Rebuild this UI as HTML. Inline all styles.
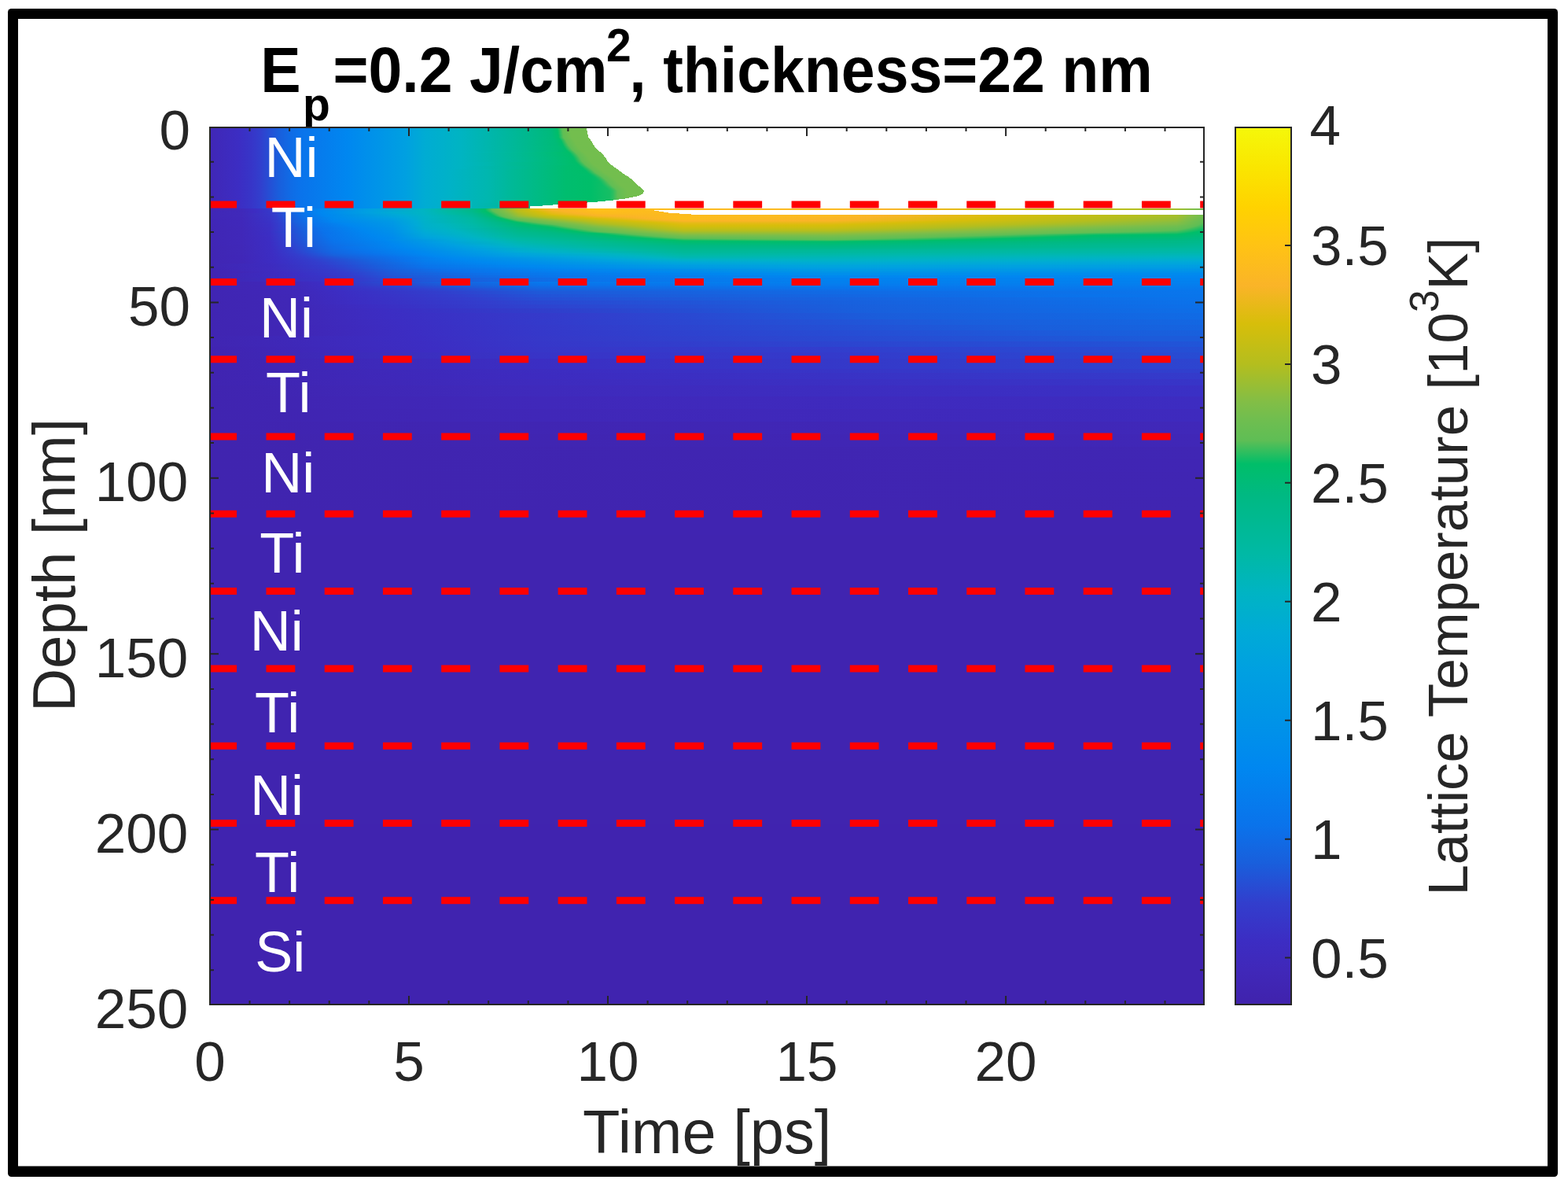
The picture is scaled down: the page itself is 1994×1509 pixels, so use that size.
<!DOCTYPE html><html><head><meta charset="utf-8"><title>Lattice Temperature</title><style>html,body{margin:0;padding:0;background:#fff;}body{width:1994px;height:1509px;overflow:hidden;position:relative;}svg{position:absolute;left:0;top:0;display:block;}text{font-family:'Liberation Sans', Arial, Helvetica, sans-serif;}</style></head><body>
<svg width="1994" height="1509" viewBox="0 0 1994 1509">
<defs><linearGradient id="g0" gradientUnits="userSpaceOnUse" x1="266" x2="1532" y1="0" y2="0"><stop offset="0.0004" stop-color="#4027b6"/><stop offset="0.0296" stop-color="#3c2dc3"/><stop offset="0.0423" stop-color="#3735c8"/><stop offset="0.0509" stop-color="#323ecd"/><stop offset="0.0699" stop-color="#195edc"/><stop offset="0.0825" stop-color="#0f6ce6"/><stop offset="0.0920" stop-color="#0a73eb"/><stop offset="0.1386" stop-color="#0087f0"/><stop offset="0.1971" stop-color="#00a0e1"/><stop offset="0.2168" stop-color="#00acd3"/><stop offset="0.2516" stop-color="#00b4c3"/><stop offset="0.3424" stop-color="#00ba7c"/><stop offset="0.3487" stop-color="#00be6b"/><stop offset="0.3495" stop-color="#04be68"/><stop offset="0.3543" stop-color="#5fbe55"/><stop offset="0.3622" stop-color="#73be4e"/><stop offset="0.3788" stop-color="#73be4e"/><stop offset="0.3795" stop-color="#ffffff"/><stop offset="0.9996" stop-color="#ffffff"/></linearGradient>
<linearGradient id="g1" gradientUnits="userSpaceOnUse" x1="266" x2="1532" y1="0" y2="0"><stop offset="0.0004" stop-color="#4027b6"/><stop offset="0.0296" stop-color="#3c2dc3"/><stop offset="0.0423" stop-color="#3735c8"/><stop offset="0.0509" stop-color="#323ecd"/><stop offset="0.0699" stop-color="#195edc"/><stop offset="0.0825" stop-color="#0f6ce6"/><stop offset="0.0920" stop-color="#0a73eb"/><stop offset="0.1386" stop-color="#0087f0"/><stop offset="0.1971" stop-color="#00a0e1"/><stop offset="0.2168" stop-color="#00acd3"/><stop offset="0.2516" stop-color="#00b4c3"/><stop offset="0.3432" stop-color="#00ba7b"/><stop offset="0.3495" stop-color="#00be69"/><stop offset="0.3543" stop-color="#5bbe56"/><stop offset="0.3551" stop-color="#61be54"/><stop offset="0.3622" stop-color="#72be4e"/><stop offset="0.3788" stop-color="#73be4e"/><stop offset="0.3795" stop-color="#ffffff"/><stop offset="0.9996" stop-color="#ffffff"/></linearGradient>
<linearGradient id="g2" gradientUnits="userSpaceOnUse" x1="266" x2="1532" y1="0" y2="0"><stop offset="0.0004" stop-color="#4027b6"/><stop offset="0.0296" stop-color="#3c2dc3"/><stop offset="0.0423" stop-color="#3735c8"/><stop offset="0.0509" stop-color="#323ecd"/><stop offset="0.0699" stop-color="#195edc"/><stop offset="0.0825" stop-color="#0f6ce6"/><stop offset="0.0920" stop-color="#0a73eb"/><stop offset="0.1386" stop-color="#0087f0"/><stop offset="0.1971" stop-color="#00a0e1"/><stop offset="0.2168" stop-color="#00acd3"/><stop offset="0.2516" stop-color="#00b4c3"/><stop offset="0.3432" stop-color="#00ba7b"/><stop offset="0.3495" stop-color="#00be6a"/><stop offset="0.3503" stop-color="#08be67"/><stop offset="0.3543" stop-color="#56be57"/><stop offset="0.3551" stop-color="#60be55"/><stop offset="0.3630" stop-color="#73be4e"/><stop offset="0.3788" stop-color="#73be4e"/><stop offset="0.3795" stop-color="#ffffff"/><stop offset="0.9996" stop-color="#ffffff"/></linearGradient>
<linearGradient id="g3" gradientUnits="userSpaceOnUse" x1="266" x2="1532" y1="0" y2="0"><stop offset="0.0004" stop-color="#4027b6"/><stop offset="0.0296" stop-color="#3c2dc3"/><stop offset="0.0423" stop-color="#3735c8"/><stop offset="0.0509" stop-color="#323ecd"/><stop offset="0.0699" stop-color="#195edc"/><stop offset="0.0825" stop-color="#0f6ce6"/><stop offset="0.0920" stop-color="#0a73eb"/><stop offset="0.1386" stop-color="#0087f0"/><stop offset="0.1971" stop-color="#00a0e1"/><stop offset="0.2168" stop-color="#00acd3"/><stop offset="0.2516" stop-color="#00b4c3"/><stop offset="0.3432" stop-color="#00ba7b"/><stop offset="0.3495" stop-color="#00be6b"/><stop offset="0.3503" stop-color="#04be68"/><stop offset="0.3551" stop-color="#5fbe55"/><stop offset="0.3558" stop-color="#62be54"/><stop offset="0.3630" stop-color="#73be4e"/><stop offset="0.3795" stop-color="#73be4e"/><stop offset="0.3803" stop-color="#ffffff"/><stop offset="0.9996" stop-color="#ffffff"/></linearGradient>
<linearGradient id="g4" gradientUnits="userSpaceOnUse" x1="266" x2="1532" y1="0" y2="0"><stop offset="0.0004" stop-color="#4027b6"/><stop offset="0.0296" stop-color="#3c2dc3"/><stop offset="0.0423" stop-color="#3735c8"/><stop offset="0.0509" stop-color="#323ecd"/><stop offset="0.0699" stop-color="#195edc"/><stop offset="0.0825" stop-color="#0f6ce6"/><stop offset="0.0920" stop-color="#0a73eb"/><stop offset="0.1386" stop-color="#0087f0"/><stop offset="0.1971" stop-color="#00a0e1"/><stop offset="0.2168" stop-color="#00acd3"/><stop offset="0.2516" stop-color="#00b4c3"/><stop offset="0.3440" stop-color="#00ba7b"/><stop offset="0.3503" stop-color="#00be69"/><stop offset="0.3551" stop-color="#5abe56"/><stop offset="0.3558" stop-color="#61be54"/><stop offset="0.3637" stop-color="#73be4e"/><stop offset="0.3795" stop-color="#73be4e"/><stop offset="0.3803" stop-color="#ffffff"/><stop offset="0.9996" stop-color="#ffffff"/></linearGradient>
<linearGradient id="g5" gradientUnits="userSpaceOnUse" x1="266" x2="1532" y1="0" y2="0"><stop offset="0.0004" stop-color="#4027b6"/><stop offset="0.0296" stop-color="#3c2dc3"/><stop offset="0.0423" stop-color="#3735c8"/><stop offset="0.0509" stop-color="#323ecd"/><stop offset="0.0699" stop-color="#195edc"/><stop offset="0.0825" stop-color="#0f6ce6"/><stop offset="0.0920" stop-color="#0a73eb"/><stop offset="0.1386" stop-color="#0087f0"/><stop offset="0.1971" stop-color="#00a0e1"/><stop offset="0.2168" stop-color="#00acd3"/><stop offset="0.2516" stop-color="#00b4c3"/><stop offset="0.3440" stop-color="#00ba7b"/><stop offset="0.3503" stop-color="#00be6b"/><stop offset="0.3511" stop-color="#07be67"/><stop offset="0.3551" stop-color="#54be57"/><stop offset="0.3558" stop-color="#60be55"/><stop offset="0.3637" stop-color="#73be4e"/><stop offset="0.3803" stop-color="#73be4e"/><stop offset="0.3811" stop-color="#ffffff"/><stop offset="0.9996" stop-color="#ffffff"/></linearGradient>
<linearGradient id="g6" gradientUnits="userSpaceOnUse" x1="266" x2="1532" y1="0" y2="0"><stop offset="0.0004" stop-color="#4027b6"/><stop offset="0.0296" stop-color="#3c2dc3"/><stop offset="0.0423" stop-color="#3735c8"/><stop offset="0.0509" stop-color="#323ecd"/><stop offset="0.0699" stop-color="#195edc"/><stop offset="0.0825" stop-color="#0f6ce6"/><stop offset="0.0920" stop-color="#0a73eb"/><stop offset="0.1386" stop-color="#0087f0"/><stop offset="0.1971" stop-color="#00a0e1"/><stop offset="0.2168" stop-color="#00acd3"/><stop offset="0.2516" stop-color="#00b4c3"/><stop offset="0.3448" stop-color="#00bb7a"/><stop offset="0.3503" stop-color="#00be6b"/><stop offset="0.3511" stop-color="#04be68"/><stop offset="0.3558" stop-color="#5fbe55"/><stop offset="0.3637" stop-color="#72be4e"/><stop offset="0.3803" stop-color="#73be4e"/><stop offset="0.3811" stop-color="#ffffff"/><stop offset="0.9996" stop-color="#ffffff"/></linearGradient>
<linearGradient id="g7" gradientUnits="userSpaceOnUse" x1="266" x2="1532" y1="0" y2="0"><stop offset="0.0004" stop-color="#4027b6"/><stop offset="0.0296" stop-color="#3c2dc3"/><stop offset="0.0423" stop-color="#3735c8"/><stop offset="0.0509" stop-color="#323ecd"/><stop offset="0.0699" stop-color="#195edc"/><stop offset="0.0825" stop-color="#0f6ce6"/><stop offset="0.0920" stop-color="#0a73eb"/><stop offset="0.1386" stop-color="#0087f0"/><stop offset="0.1971" stop-color="#00a0e1"/><stop offset="0.2168" stop-color="#00acd3"/><stop offset="0.2516" stop-color="#00b4c3"/><stop offset="0.3448" stop-color="#00bb7a"/><stop offset="0.3511" stop-color="#00be6a"/><stop offset="0.3519" stop-color="#0bbe67"/><stop offset="0.3558" stop-color="#57be57"/><stop offset="0.3566" stop-color="#60be55"/><stop offset="0.3645" stop-color="#73be4e"/><stop offset="0.3811" stop-color="#73be4e"/><stop offset="0.3819" stop-color="#ffffff"/><stop offset="0.9996" stop-color="#ffffff"/></linearGradient>
<linearGradient id="g8" gradientUnits="userSpaceOnUse" x1="266" x2="1532" y1="0" y2="0"><stop offset="0.0004" stop-color="#4027b6"/><stop offset="0.0296" stop-color="#3c2dc3"/><stop offset="0.0423" stop-color="#3735c8"/><stop offset="0.0509" stop-color="#323ecd"/><stop offset="0.0699" stop-color="#195edc"/><stop offset="0.0825" stop-color="#0f6ce6"/><stop offset="0.0920" stop-color="#0a73eb"/><stop offset="0.1386" stop-color="#0087f0"/><stop offset="0.1971" stop-color="#00a0e1"/><stop offset="0.2168" stop-color="#00acd3"/><stop offset="0.2516" stop-color="#00b4c3"/><stop offset="0.3456" stop-color="#00bb79"/><stop offset="0.3519" stop-color="#00be69"/><stop offset="0.3566" stop-color="#59be56"/><stop offset="0.3574" stop-color="#61be54"/><stop offset="0.3653" stop-color="#73be4e"/><stop offset="0.3819" stop-color="#73be4e"/><stop offset="0.3827" stop-color="#ffffff"/><stop offset="0.9996" stop-color="#ffffff"/></linearGradient>
<linearGradient id="g9" gradientUnits="userSpaceOnUse" x1="266" x2="1532" y1="0" y2="0"><stop offset="0.0004" stop-color="#4027b6"/><stop offset="0.0296" stop-color="#3c2dc3"/><stop offset="0.0423" stop-color="#3735c8"/><stop offset="0.0509" stop-color="#323ecd"/><stop offset="0.0699" stop-color="#195edc"/><stop offset="0.0825" stop-color="#0f6ce6"/><stop offset="0.0920" stop-color="#0a73eb"/><stop offset="0.1386" stop-color="#0087f0"/><stop offset="0.1971" stop-color="#00a0e1"/><stop offset="0.2168" stop-color="#00acd3"/><stop offset="0.2516" stop-color="#00b4c3"/><stop offset="0.3464" stop-color="#00bb79"/><stop offset="0.3519" stop-color="#00bd6c"/><stop offset="0.3527" stop-color="#02be69"/><stop offset="0.3574" stop-color="#5abe56"/><stop offset="0.3582" stop-color="#61be54"/><stop offset="0.3661" stop-color="#73be4e"/><stop offset="0.3827" stop-color="#73be4e"/><stop offset="0.3835" stop-color="#ffffff"/><stop offset="0.9996" stop-color="#ffffff"/></linearGradient>
<linearGradient id="g10" gradientUnits="userSpaceOnUse" x1="266" x2="1532" y1="0" y2="0"><stop offset="0.0004" stop-color="#4027b6"/><stop offset="0.0296" stop-color="#3c2dc3"/><stop offset="0.0423" stop-color="#3735c8"/><stop offset="0.0509" stop-color="#323ecd"/><stop offset="0.0699" stop-color="#195edc"/><stop offset="0.0825" stop-color="#0f6ce6"/><stop offset="0.0920" stop-color="#0a73eb"/><stop offset="0.1386" stop-color="#0087f0"/><stop offset="0.1971" stop-color="#00a0e1"/><stop offset="0.2168" stop-color="#00acd3"/><stop offset="0.2516" stop-color="#00b4c3"/><stop offset="0.3472" stop-color="#00bb78"/><stop offset="0.3527" stop-color="#00be6b"/><stop offset="0.3535" stop-color="#07be68"/><stop offset="0.3582" stop-color="#5ebe55"/><stop offset="0.3590" stop-color="#61be54"/><stop offset="0.3669" stop-color="#73be4e"/><stop offset="0.3827" stop-color="#73be4e"/><stop offset="0.3835" stop-color="#ffffff"/><stop offset="0.9996" stop-color="#ffffff"/></linearGradient>
<linearGradient id="g11" gradientUnits="userSpaceOnUse" x1="266" x2="1532" y1="0" y2="0"><stop offset="0.0004" stop-color="#4027b6"/><stop offset="0.0296" stop-color="#3c2dc3"/><stop offset="0.0423" stop-color="#3735c8"/><stop offset="0.0509" stop-color="#323ecd"/><stop offset="0.0699" stop-color="#195edc"/><stop offset="0.0825" stop-color="#0f6ce6"/><stop offset="0.0920" stop-color="#0a73eb"/><stop offset="0.1386" stop-color="#0087f0"/><stop offset="0.1971" stop-color="#00a0e1"/><stop offset="0.2168" stop-color="#00acd3"/><stop offset="0.2516" stop-color="#00b4c3"/><stop offset="0.3472" stop-color="#00bb78"/><stop offset="0.3535" stop-color="#00be69"/><stop offset="0.3582" stop-color="#57be57"/><stop offset="0.3590" stop-color="#60be55"/><stop offset="0.3669" stop-color="#73be4e"/><stop offset="0.3835" stop-color="#73be4e"/><stop offset="0.3843" stop-color="#ffffff"/><stop offset="0.9996" stop-color="#ffffff"/></linearGradient>
<linearGradient id="g12" gradientUnits="userSpaceOnUse" x1="266" x2="1532" y1="0" y2="0"><stop offset="0.0004" stop-color="#4027b6"/><stop offset="0.0296" stop-color="#3c2dc3"/><stop offset="0.0423" stop-color="#3735c8"/><stop offset="0.0509" stop-color="#323ecd"/><stop offset="0.0699" stop-color="#195edc"/><stop offset="0.0825" stop-color="#0f6ce6"/><stop offset="0.0920" stop-color="#0a73eb"/><stop offset="0.1386" stop-color="#0087f0"/><stop offset="0.1971" stop-color="#00a0e1"/><stop offset="0.2168" stop-color="#00acd3"/><stop offset="0.2516" stop-color="#00b4c3"/><stop offset="0.3479" stop-color="#00bb77"/><stop offset="0.3535" stop-color="#00be6a"/><stop offset="0.3543" stop-color="#07be67"/><stop offset="0.3590" stop-color="#5dbe55"/><stop offset="0.3598" stop-color="#61be54"/><stop offset="0.3677" stop-color="#73be4e"/><stop offset="0.3843" stop-color="#73be4e"/><stop offset="0.3851" stop-color="#ffffff"/><stop offset="0.9996" stop-color="#ffffff"/></linearGradient>
<linearGradient id="g13" gradientUnits="userSpaceOnUse" x1="266" x2="1532" y1="0" y2="0"><stop offset="0.0004" stop-color="#4027b6"/><stop offset="0.0296" stop-color="#3c2dc3"/><stop offset="0.0423" stop-color="#3735c8"/><stop offset="0.0509" stop-color="#323ecd"/><stop offset="0.0699" stop-color="#195edc"/><stop offset="0.0825" stop-color="#0f6ce6"/><stop offset="0.0920" stop-color="#0a73eb"/><stop offset="0.1386" stop-color="#0087f0"/><stop offset="0.1971" stop-color="#00a0e1"/><stop offset="0.2168" stop-color="#00acd3"/><stop offset="0.2516" stop-color="#00b4c3"/><stop offset="0.3479" stop-color="#00bb77"/><stop offset="0.3535" stop-color="#00bd6c"/><stop offset="0.3543" stop-color="#01be69"/><stop offset="0.3582" stop-color="#49be5a"/><stop offset="0.3598" stop-color="#60be55"/><stop offset="0.3677" stop-color="#72be4e"/><stop offset="0.3843" stop-color="#73be4e"/><stop offset="0.3851" stop-color="#ffffff"/><stop offset="0.9996" stop-color="#ffffff"/></linearGradient>
<linearGradient id="g14" gradientUnits="userSpaceOnUse" x1="266" x2="1532" y1="0" y2="0"><stop offset="0.0004" stop-color="#4027b6"/><stop offset="0.0296" stop-color="#3c2dc3"/><stop offset="0.0423" stop-color="#3735c8"/><stop offset="0.0509" stop-color="#323ecd"/><stop offset="0.0699" stop-color="#195edc"/><stop offset="0.0825" stop-color="#0f6ce6"/><stop offset="0.0920" stop-color="#0a73eb"/><stop offset="0.1386" stop-color="#0087f0"/><stop offset="0.1971" stop-color="#00a0e1"/><stop offset="0.2168" stop-color="#00acd3"/><stop offset="0.2516" stop-color="#00b4c3"/><stop offset="0.3487" stop-color="#00bb77"/><stop offset="0.3543" stop-color="#00be6a"/><stop offset="0.3551" stop-color="#08be67"/><stop offset="0.3598" stop-color="#5cbe56"/><stop offset="0.3606" stop-color="#61be54"/><stop offset="0.3685" stop-color="#73be4e"/><stop offset="0.3851" stop-color="#73be4e"/><stop offset="0.3859" stop-color="#ffffff"/><stop offset="0.9996" stop-color="#ffffff"/></linearGradient>
<linearGradient id="g15" gradientUnits="userSpaceOnUse" x1="266" x2="1532" y1="0" y2="0"><stop offset="0.0004" stop-color="#4027b6"/><stop offset="0.0296" stop-color="#3c2dc3"/><stop offset="0.0423" stop-color="#3735c8"/><stop offset="0.0509" stop-color="#323ecd"/><stop offset="0.0699" stop-color="#195edc"/><stop offset="0.0825" stop-color="#0f6ce6"/><stop offset="0.0920" stop-color="#0a73eb"/><stop offset="0.1386" stop-color="#0087f0"/><stop offset="0.1971" stop-color="#00a0e1"/><stop offset="0.2168" stop-color="#00acd3"/><stop offset="0.2516" stop-color="#00b4c3"/><stop offset="0.3495" stop-color="#00bb76"/><stop offset="0.3543" stop-color="#00be6b"/><stop offset="0.3551" stop-color="#02be69"/><stop offset="0.3606" stop-color="#60be55"/><stop offset="0.3685" stop-color="#72be4e"/><stop offset="0.3851" stop-color="#73be4e"/><stop offset="0.3859" stop-color="#ffffff"/><stop offset="0.9996" stop-color="#ffffff"/></linearGradient>
<linearGradient id="g16" gradientUnits="userSpaceOnUse" x1="266" x2="1532" y1="0" y2="0"><stop offset="0.0004" stop-color="#4027b6"/><stop offset="0.0296" stop-color="#3c2dc3"/><stop offset="0.0423" stop-color="#3735c8"/><stop offset="0.0509" stop-color="#323ecd"/><stop offset="0.0699" stop-color="#195edc"/><stop offset="0.0825" stop-color="#0f6ce6"/><stop offset="0.0920" stop-color="#0a73eb"/><stop offset="0.1386" stop-color="#0087f0"/><stop offset="0.1971" stop-color="#00a0e1"/><stop offset="0.2168" stop-color="#00acd3"/><stop offset="0.2516" stop-color="#00b4c3"/><stop offset="0.3495" stop-color="#00bb76"/><stop offset="0.3551" stop-color="#00be6a"/><stop offset="0.3558" stop-color="#09be67"/><stop offset="0.3606" stop-color="#5abe56"/><stop offset="0.3614" stop-color="#61be54"/><stop offset="0.3693" stop-color="#73be4e"/><stop offset="0.3859" stop-color="#73be4e"/><stop offset="0.3867" stop-color="#ffffff"/><stop offset="0.9996" stop-color="#ffffff"/></linearGradient>
<linearGradient id="g17" gradientUnits="userSpaceOnUse" x1="266" x2="1532" y1="0" y2="0"><stop offset="0.0004" stop-color="#4027b6"/><stop offset="0.0296" stop-color="#3c2dc3"/><stop offset="0.0423" stop-color="#3735c8"/><stop offset="0.0509" stop-color="#323ecd"/><stop offset="0.0699" stop-color="#195edc"/><stop offset="0.0825" stop-color="#0f6ce6"/><stop offset="0.0920" stop-color="#0a73eb"/><stop offset="0.1386" stop-color="#0087f0"/><stop offset="0.1971" stop-color="#00a0e1"/><stop offset="0.2168" stop-color="#00acd3"/><stop offset="0.2516" stop-color="#00b4c3"/><stop offset="0.3503" stop-color="#00bc75"/><stop offset="0.3551" stop-color="#00be6b"/><stop offset="0.3558" stop-color="#01be69"/><stop offset="0.3614" stop-color="#5ebe55"/><stop offset="0.3622" stop-color="#61be54"/><stop offset="0.3701" stop-color="#73be4e"/><stop offset="0.3867" stop-color="#73be4e"/><stop offset="0.3874" stop-color="#ffffff"/><stop offset="0.9996" stop-color="#ffffff"/></linearGradient>
<linearGradient id="g18" gradientUnits="userSpaceOnUse" x1="266" x2="1532" y1="0" y2="0"><stop offset="0.0004" stop-color="#4027b6"/><stop offset="0.0296" stop-color="#3c2dc3"/><stop offset="0.0423" stop-color="#3735c8"/><stop offset="0.0509" stop-color="#323ecd"/><stop offset="0.0699" stop-color="#195edc"/><stop offset="0.0825" stop-color="#0f6ce6"/><stop offset="0.0920" stop-color="#0a73eb"/><stop offset="0.1386" stop-color="#0087f0"/><stop offset="0.1971" stop-color="#00a0e1"/><stop offset="0.2168" stop-color="#00acd3"/><stop offset="0.2516" stop-color="#00b4c3"/><stop offset="0.3511" stop-color="#00bc75"/><stop offset="0.3558" stop-color="#00be6a"/><stop offset="0.3566" stop-color="#05be68"/><stop offset="0.3622" stop-color="#5fbe55"/><stop offset="0.3701" stop-color="#72be4e"/><stop offset="0.3867" stop-color="#73be4e"/><stop offset="0.3874" stop-color="#ffffff"/><stop offset="0.9996" stop-color="#ffffff"/></linearGradient>
<linearGradient id="g19" gradientUnits="userSpaceOnUse" x1="266" x2="1532" y1="0" y2="0"><stop offset="0.0004" stop-color="#4027b6"/><stop offset="0.0296" stop-color="#3c2dc3"/><stop offset="0.0423" stop-color="#3735c8"/><stop offset="0.0509" stop-color="#323ecd"/><stop offset="0.0699" stop-color="#195edc"/><stop offset="0.0825" stop-color="#0f6ce6"/><stop offset="0.0920" stop-color="#0a73eb"/><stop offset="0.1386" stop-color="#0087f0"/><stop offset="0.1971" stop-color="#00a0e1"/><stop offset="0.2168" stop-color="#00acd3"/><stop offset="0.2516" stop-color="#00b4c3"/><stop offset="0.3519" stop-color="#00bc74"/><stop offset="0.3566" stop-color="#00be6a"/><stop offset="0.3630" stop-color="#60be55"/><stop offset="0.3709" stop-color="#72be4e"/><stop offset="0.3874" stop-color="#73be4e"/><stop offset="0.3882" stop-color="#ffffff"/><stop offset="0.9996" stop-color="#ffffff"/></linearGradient>
<linearGradient id="g20" gradientUnits="userSpaceOnUse" x1="266" x2="1532" y1="0" y2="0"><stop offset="0.0004" stop-color="#4027b6"/><stop offset="0.0296" stop-color="#3c2dc3"/><stop offset="0.0423" stop-color="#3735c8"/><stop offset="0.0509" stop-color="#323ecd"/><stop offset="0.0699" stop-color="#195edc"/><stop offset="0.0825" stop-color="#0f6ce6"/><stop offset="0.0920" stop-color="#0a73eb"/><stop offset="0.1386" stop-color="#0087f0"/><stop offset="0.1971" stop-color="#00a0e1"/><stop offset="0.2168" stop-color="#00acd3"/><stop offset="0.2516" stop-color="#00b4c3"/><stop offset="0.3519" stop-color="#00bc74"/><stop offset="0.3566" stop-color="#00be6b"/><stop offset="0.3574" stop-color="#01be69"/><stop offset="0.3630" stop-color="#58be56"/><stop offset="0.3637" stop-color="#60be55"/><stop offset="0.3716" stop-color="#72be4e"/><stop offset="0.3882" stop-color="#73be4e"/><stop offset="0.3890" stop-color="#ffffff"/><stop offset="0.9996" stop-color="#ffffff"/></linearGradient>
<linearGradient id="g21" gradientUnits="userSpaceOnUse" x1="266" x2="1532" y1="0" y2="0"><stop offset="0.0004" stop-color="#4027b6"/><stop offset="0.0296" stop-color="#3c2dc3"/><stop offset="0.0423" stop-color="#3735c8"/><stop offset="0.0509" stop-color="#323ecd"/><stop offset="0.0699" stop-color="#195edc"/><stop offset="0.0825" stop-color="#0f6ce6"/><stop offset="0.0920" stop-color="#0a73eb"/><stop offset="0.1386" stop-color="#0087f0"/><stop offset="0.1971" stop-color="#00a0e1"/><stop offset="0.2168" stop-color="#00acd3"/><stop offset="0.2516" stop-color="#00b4c3"/><stop offset="0.3527" stop-color="#00bc74"/><stop offset="0.3574" stop-color="#00be6a"/><stop offset="0.3582" stop-color="#05be68"/><stop offset="0.3637" stop-color="#5abe56"/><stop offset="0.3645" stop-color="#61be54"/><stop offset="0.3724" stop-color="#73be4e"/><stop offset="0.3890" stop-color="#73be4e"/><stop offset="0.3898" stop-color="#ffffff"/><stop offset="0.9996" stop-color="#ffffff"/></linearGradient>
<linearGradient id="g22" gradientUnits="userSpaceOnUse" x1="266" x2="1532" y1="0" y2="0"><stop offset="0.0004" stop-color="#4027b6"/><stop offset="0.0296" stop-color="#3c2dc3"/><stop offset="0.0423" stop-color="#3735c8"/><stop offset="0.0509" stop-color="#323ecd"/><stop offset="0.0699" stop-color="#195edc"/><stop offset="0.0825" stop-color="#0f6ce6"/><stop offset="0.0920" stop-color="#0a73eb"/><stop offset="0.1386" stop-color="#0087f0"/><stop offset="0.1971" stop-color="#00a0e1"/><stop offset="0.2168" stop-color="#00acd3"/><stop offset="0.2516" stop-color="#00b4c3"/><stop offset="0.3535" stop-color="#00bc73"/><stop offset="0.3582" stop-color="#00be6a"/><stop offset="0.3598" stop-color="#11be65"/><stop offset="0.3645" stop-color="#5abe56"/><stop offset="0.3653" stop-color="#61be54"/><stop offset="0.3732" stop-color="#72be4e"/><stop offset="0.3898" stop-color="#73be4e"/><stop offset="0.3906" stop-color="#ffffff"/><stop offset="0.9996" stop-color="#ffffff"/></linearGradient>
<linearGradient id="g23" gradientUnits="userSpaceOnUse" x1="266" x2="1532" y1="0" y2="0"><stop offset="0.0004" stop-color="#4027b6"/><stop offset="0.0296" stop-color="#3c2dc3"/><stop offset="0.0423" stop-color="#3735c8"/><stop offset="0.0509" stop-color="#323ecd"/><stop offset="0.0699" stop-color="#195edc"/><stop offset="0.0825" stop-color="#0f6ce6"/><stop offset="0.0920" stop-color="#0a73eb"/><stop offset="0.1386" stop-color="#0087f0"/><stop offset="0.1971" stop-color="#00a0e1"/><stop offset="0.2168" stop-color="#00acd3"/><stop offset="0.2516" stop-color="#00b4c3"/><stop offset="0.3543" stop-color="#00bc72"/><stop offset="0.3590" stop-color="#00be6a"/><stop offset="0.3606" stop-color="#10be66"/><stop offset="0.3653" stop-color="#59be56"/><stop offset="0.3661" stop-color="#60be55"/><stop offset="0.3740" stop-color="#72be4e"/><stop offset="0.3906" stop-color="#73be4e"/><stop offset="0.3914" stop-color="#ffffff"/><stop offset="0.9996" stop-color="#ffffff"/></linearGradient>
<linearGradient id="g24" gradientUnits="userSpaceOnUse" x1="266" x2="1532" y1="0" y2="0"><stop offset="0.0004" stop-color="#4027b6"/><stop offset="0.0296" stop-color="#3c2dc3"/><stop offset="0.0423" stop-color="#3735c8"/><stop offset="0.0509" stop-color="#323ecd"/><stop offset="0.0699" stop-color="#195edc"/><stop offset="0.0825" stop-color="#0f6ce6"/><stop offset="0.0920" stop-color="#0a73eb"/><stop offset="0.1386" stop-color="#0087f0"/><stop offset="0.1971" stop-color="#00a0e1"/><stop offset="0.2168" stop-color="#00acd3"/><stop offset="0.2516" stop-color="#00b4c3"/><stop offset="0.3551" stop-color="#00bc72"/><stop offset="0.3598" stop-color="#00be6a"/><stop offset="0.3614" stop-color="#0fbe66"/><stop offset="0.3669" stop-color="#60be55"/><stop offset="0.3748" stop-color="#72be4e"/><stop offset="0.3914" stop-color="#73be4e"/><stop offset="0.3922" stop-color="#ffffff"/><stop offset="0.9996" stop-color="#ffffff"/></linearGradient>
<linearGradient id="g25" gradientUnits="userSpaceOnUse" x1="266" x2="1532" y1="0" y2="0"><stop offset="0.0004" stop-color="#4027b6"/><stop offset="0.0296" stop-color="#3c2dc3"/><stop offset="0.0423" stop-color="#3735c8"/><stop offset="0.0509" stop-color="#323ecd"/><stop offset="0.0699" stop-color="#195edc"/><stop offset="0.0825" stop-color="#0f6ce6"/><stop offset="0.0920" stop-color="#0a73eb"/><stop offset="0.1386" stop-color="#0087f0"/><stop offset="0.1971" stop-color="#00a0e1"/><stop offset="0.2168" stop-color="#00acd3"/><stop offset="0.2516" stop-color="#00b4c3"/><stop offset="0.2800" stop-color="#00b7af"/><stop offset="0.3606" stop-color="#00be6a"/><stop offset="0.3614" stop-color="#04be68"/><stop offset="0.3622" stop-color="#0ebe66"/><stop offset="0.3677" stop-color="#60be55"/><stop offset="0.3764" stop-color="#73be4e"/><stop offset="0.3930" stop-color="#73be4e"/><stop offset="0.3938" stop-color="#ffffff"/><stop offset="0.9996" stop-color="#ffffff"/></linearGradient>
<linearGradient id="g26" gradientUnits="userSpaceOnUse" x1="266" x2="1532" y1="0" y2="0"><stop offset="0.0004" stop-color="#4027b6"/><stop offset="0.0296" stop-color="#3c2dc3"/><stop offset="0.0423" stop-color="#3735c8"/><stop offset="0.0509" stop-color="#323ecd"/><stop offset="0.0699" stop-color="#195edc"/><stop offset="0.0825" stop-color="#0f6ce6"/><stop offset="0.0920" stop-color="#0a73eb"/><stop offset="0.1386" stop-color="#0087f0"/><stop offset="0.1971" stop-color="#00a0e1"/><stop offset="0.2168" stop-color="#00acd3"/><stop offset="0.2516" stop-color="#00b4c3"/><stop offset="0.3614" stop-color="#00be6a"/><stop offset="0.3622" stop-color="#03be68"/><stop offset="0.3630" stop-color="#0dbe66"/><stop offset="0.3685" stop-color="#5fbe55"/><stop offset="0.3772" stop-color="#73be4e"/><stop offset="0.3938" stop-color="#73be4e"/><stop offset="0.3945" stop-color="#ffffff"/><stop offset="0.9996" stop-color="#ffffff"/></linearGradient>
<linearGradient id="g27" gradientUnits="userSpaceOnUse" x1="266" x2="1532" y1="0" y2="0"><stop offset="0.0004" stop-color="#4027b6"/><stop offset="0.0296" stop-color="#3c2dc3"/><stop offset="0.0423" stop-color="#3735c8"/><stop offset="0.0509" stop-color="#323ecd"/><stop offset="0.0699" stop-color="#195edc"/><stop offset="0.0825" stop-color="#0f6ce6"/><stop offset="0.0920" stop-color="#0a73eb"/><stop offset="0.1386" stop-color="#0087f0"/><stop offset="0.1971" stop-color="#00a0e1"/><stop offset="0.2168" stop-color="#00acd3"/><stop offset="0.2516" stop-color="#00b4c3"/><stop offset="0.3622" stop-color="#00be6a"/><stop offset="0.3630" stop-color="#03be68"/><stop offset="0.3645" stop-color="#18be64"/><stop offset="0.3693" stop-color="#5fbe55"/><stop offset="0.3780" stop-color="#73be4e"/><stop offset="0.3945" stop-color="#73be4e"/><stop offset="0.3953" stop-color="#ffffff"/><stop offset="0.9996" stop-color="#ffffff"/></linearGradient>
<linearGradient id="g28" gradientUnits="userSpaceOnUse" x1="266" x2="1532" y1="0" y2="0"><stop offset="0.0004" stop-color="#4027b6"/><stop offset="0.0296" stop-color="#3c2dc3"/><stop offset="0.0423" stop-color="#3735c8"/><stop offset="0.0509" stop-color="#323ecd"/><stop offset="0.0699" stop-color="#195edc"/><stop offset="0.0825" stop-color="#0f6ce6"/><stop offset="0.0920" stop-color="#0a73eb"/><stop offset="0.1386" stop-color="#0087f0"/><stop offset="0.1971" stop-color="#00a0e1"/><stop offset="0.2168" stop-color="#00acd3"/><stop offset="0.2516" stop-color="#00b4c3"/><stop offset="0.3630" stop-color="#00be6a"/><stop offset="0.3637" stop-color="#05be68"/><stop offset="0.3653" stop-color="#19be64"/><stop offset="0.3701" stop-color="#5fbe55"/><stop offset="0.3788" stop-color="#73be4e"/><stop offset="0.3953" stop-color="#73be4e"/><stop offset="0.3961" stop-color="#ffffff"/><stop offset="0.9996" stop-color="#ffffff"/></linearGradient>
<linearGradient id="g29" gradientUnits="userSpaceOnUse" x1="266" x2="1532" y1="0" y2="0"><stop offset="0.0004" stop-color="#4027b6"/><stop offset="0.0296" stop-color="#3c2dc3"/><stop offset="0.0423" stop-color="#3735c8"/><stop offset="0.0509" stop-color="#323ecd"/><stop offset="0.0699" stop-color="#195edc"/><stop offset="0.0825" stop-color="#0f6ce6"/><stop offset="0.0920" stop-color="#0a73eb"/><stop offset="0.1386" stop-color="#0087f0"/><stop offset="0.1971" stop-color="#00a0e1"/><stop offset="0.2168" stop-color="#00acd3"/><stop offset="0.2516" stop-color="#00b4c3"/><stop offset="0.3637" stop-color="#00be69"/><stop offset="0.3661" stop-color="#1bbe63"/><stop offset="0.3709" stop-color="#60be55"/><stop offset="0.3795" stop-color="#73be4e"/><stop offset="0.3961" stop-color="#73be4e"/><stop offset="0.3969" stop-color="#ffffff"/><stop offset="0.9996" stop-color="#ffffff"/></linearGradient>
<linearGradient id="g30" gradientUnits="userSpaceOnUse" x1="266" x2="1532" y1="0" y2="0"><stop offset="0.0004" stop-color="#4027b6"/><stop offset="0.0296" stop-color="#3c2dc3"/><stop offset="0.0423" stop-color="#3735c8"/><stop offset="0.0509" stop-color="#323ecd"/><stop offset="0.0699" stop-color="#195edc"/><stop offset="0.0825" stop-color="#0f6ce6"/><stop offset="0.0920" stop-color="#0a73eb"/><stop offset="0.1386" stop-color="#0087f0"/><stop offset="0.1971" stop-color="#00a0e1"/><stop offset="0.2168" stop-color="#00acd3"/><stop offset="0.2516" stop-color="#00b4c3"/><stop offset="0.3645" stop-color="#00be69"/><stop offset="0.3669" stop-color="#1dbe63"/><stop offset="0.3709" stop-color="#58be56"/><stop offset="0.3716" stop-color="#60be55"/><stop offset="0.3803" stop-color="#73be4e"/><stop offset="0.3961" stop-color="#73be4e"/><stop offset="0.3969" stop-color="#ffffff"/><stop offset="0.9996" stop-color="#ffffff"/></linearGradient>
<linearGradient id="g31" gradientUnits="userSpaceOnUse" x1="266" x2="1532" y1="0" y2="0"><stop offset="0.0004" stop-color="#4027b6"/><stop offset="0.0296" stop-color="#3c2dc3"/><stop offset="0.0423" stop-color="#3735c8"/><stop offset="0.0509" stop-color="#323ecd"/><stop offset="0.0699" stop-color="#195edc"/><stop offset="0.0825" stop-color="#0f6ce6"/><stop offset="0.0920" stop-color="#0a73eb"/><stop offset="0.1386" stop-color="#0087f0"/><stop offset="0.1971" stop-color="#00a0e1"/><stop offset="0.2168" stop-color="#00acd3"/><stop offset="0.2516" stop-color="#00b4c3"/><stop offset="0.3645" stop-color="#00be6a"/><stop offset="0.3653" stop-color="#01be69"/><stop offset="0.3661" stop-color="#0abe67"/><stop offset="0.3716" stop-color="#5abe56"/><stop offset="0.3724" stop-color="#60be55"/><stop offset="0.3803" stop-color="#72be4e"/><stop offset="0.3969" stop-color="#73be4e"/><stop offset="0.3977" stop-color="#ffffff"/><stop offset="0.9996" stop-color="#ffffff"/></linearGradient>
<linearGradient id="g32" gradientUnits="userSpaceOnUse" x1="266" x2="1532" y1="0" y2="0"><stop offset="0.0004" stop-color="#4027b6"/><stop offset="0.0296" stop-color="#3c2dc3"/><stop offset="0.0423" stop-color="#3735c8"/><stop offset="0.0509" stop-color="#323ecd"/><stop offset="0.0699" stop-color="#195edc"/><stop offset="0.0825" stop-color="#0f6ce6"/><stop offset="0.0920" stop-color="#0a73eb"/><stop offset="0.1386" stop-color="#0087f0"/><stop offset="0.1971" stop-color="#00a0e1"/><stop offset="0.2168" stop-color="#00acd3"/><stop offset="0.2516" stop-color="#00b4c3"/><stop offset="0.3653" stop-color="#00be6a"/><stop offset="0.3669" stop-color="#0dbe66"/><stop offset="0.3724" stop-color="#5ebe55"/><stop offset="0.3732" stop-color="#61be54"/><stop offset="0.3811" stop-color="#72be4e"/><stop offset="0.3977" stop-color="#73be4e"/><stop offset="0.3985" stop-color="#ffffff"/><stop offset="0.9996" stop-color="#ffffff"/></linearGradient>
<linearGradient id="g33" gradientUnits="userSpaceOnUse" x1="266" x2="1532" y1="0" y2="0"><stop offset="0.0004" stop-color="#4027b6"/><stop offset="0.0296" stop-color="#3c2dc3"/><stop offset="0.0423" stop-color="#3735c8"/><stop offset="0.0509" stop-color="#323ecd"/><stop offset="0.0699" stop-color="#195edc"/><stop offset="0.0825" stop-color="#0f6ce6"/><stop offset="0.0920" stop-color="#0a73eb"/><stop offset="0.1386" stop-color="#0087f0"/><stop offset="0.1971" stop-color="#00a0e1"/><stop offset="0.2168" stop-color="#00acd3"/><stop offset="0.2516" stop-color="#00b4c3"/><stop offset="0.3661" stop-color="#00be69"/><stop offset="0.3685" stop-color="#1cbe63"/><stop offset="0.3732" stop-color="#60be55"/><stop offset="0.3819" stop-color="#73be4e"/><stop offset="0.3985" stop-color="#73be4e"/><stop offset="0.3993" stop-color="#ffffff"/><stop offset="0.9996" stop-color="#ffffff"/></linearGradient>
<linearGradient id="g34" gradientUnits="userSpaceOnUse" x1="266" x2="1532" y1="0" y2="0"><stop offset="0.0004" stop-color="#4027b6"/><stop offset="0.0296" stop-color="#3c2dc3"/><stop offset="0.0423" stop-color="#3735c8"/><stop offset="0.0509" stop-color="#323ecd"/><stop offset="0.0699" stop-color="#195edc"/><stop offset="0.0825" stop-color="#0f6ce6"/><stop offset="0.0920" stop-color="#0a73eb"/><stop offset="0.1386" stop-color="#0087f0"/><stop offset="0.1971" stop-color="#00a0e1"/><stop offset="0.2168" stop-color="#00acd3"/><stop offset="0.2516" stop-color="#00b4c3"/><stop offset="0.3661" stop-color="#00be6a"/><stop offset="0.3677" stop-color="#0dbe66"/><stop offset="0.3732" stop-color="#5dbe55"/><stop offset="0.3740" stop-color="#61be54"/><stop offset="0.3819" stop-color="#72be4e"/><stop offset="0.3985" stop-color="#73be4e"/><stop offset="0.3993" stop-color="#ffffff"/><stop offset="0.9996" stop-color="#ffffff"/></linearGradient>
<linearGradient id="g35" gradientUnits="userSpaceOnUse" x1="266" x2="1532" y1="0" y2="0"><stop offset="0.0004" stop-color="#4027b6"/><stop offset="0.0296" stop-color="#3c2dc3"/><stop offset="0.0423" stop-color="#3735c8"/><stop offset="0.0509" stop-color="#323ecd"/><stop offset="0.0699" stop-color="#195edc"/><stop offset="0.0825" stop-color="#0f6ce6"/><stop offset="0.0920" stop-color="#0a73eb"/><stop offset="0.1386" stop-color="#0087f0"/><stop offset="0.1971" stop-color="#00a0e1"/><stop offset="0.2168" stop-color="#00acd3"/><stop offset="0.2516" stop-color="#00b4c3"/><stop offset="0.3669" stop-color="#00be69"/><stop offset="0.3693" stop-color="#1cbe63"/><stop offset="0.3740" stop-color="#60be55"/><stop offset="0.3827" stop-color="#73be4e"/><stop offset="0.3993" stop-color="#73be4e"/><stop offset="0.4001" stop-color="#ffffff"/><stop offset="0.9996" stop-color="#ffffff"/></linearGradient>
<linearGradient id="g36" gradientUnits="userSpaceOnUse" x1="266" x2="1532" y1="0" y2="0"><stop offset="0.0004" stop-color="#4027b6"/><stop offset="0.0296" stop-color="#3c2dc3"/><stop offset="0.0423" stop-color="#3735c8"/><stop offset="0.0509" stop-color="#323ecd"/><stop offset="0.0699" stop-color="#195edc"/><stop offset="0.0825" stop-color="#0f6ce6"/><stop offset="0.0920" stop-color="#0a73eb"/><stop offset="0.1386" stop-color="#0087f0"/><stop offset="0.1971" stop-color="#00a0e1"/><stop offset="0.2168" stop-color="#00acd3"/><stop offset="0.2516" stop-color="#00b4c3"/><stop offset="0.3669" stop-color="#00be6a"/><stop offset="0.3685" stop-color="#0dbe66"/><stop offset="0.3740" stop-color="#5dbe55"/><stop offset="0.3748" stop-color="#61be54"/><stop offset="0.3827" stop-color="#72be4e"/><stop offset="0.3993" stop-color="#73be4e"/><stop offset="0.4001" stop-color="#ffffff"/><stop offset="0.9996" stop-color="#ffffff"/></linearGradient>
<linearGradient id="g37" gradientUnits="userSpaceOnUse" x1="266" x2="1532" y1="0" y2="0"><stop offset="0.0004" stop-color="#4027b6"/><stop offset="0.0296" stop-color="#3c2dc3"/><stop offset="0.0423" stop-color="#3735c8"/><stop offset="0.0509" stop-color="#323ecd"/><stop offset="0.0699" stop-color="#195edc"/><stop offset="0.0825" stop-color="#0f6ce6"/><stop offset="0.0920" stop-color="#0a73eb"/><stop offset="0.1386" stop-color="#0087f0"/><stop offset="0.1971" stop-color="#00a0e1"/><stop offset="0.2168" stop-color="#00acd3"/><stop offset="0.2516" stop-color="#00b4c3"/><stop offset="0.3677" stop-color="#00be69"/><stop offset="0.3701" stop-color="#1abe64"/><stop offset="0.3748" stop-color="#5fbe55"/><stop offset="0.3835" stop-color="#72be4e"/><stop offset="0.4001" stop-color="#73be4e"/><stop offset="0.4009" stop-color="#ffffff"/><stop offset="0.9996" stop-color="#ffffff"/></linearGradient>
<linearGradient id="g38" gradientUnits="userSpaceOnUse" x1="266" x2="1532" y1="0" y2="0"><stop offset="0.0004" stop-color="#4027b6"/><stop offset="0.0296" stop-color="#3c2dc3"/><stop offset="0.0423" stop-color="#3735c8"/><stop offset="0.0509" stop-color="#323ecd"/><stop offset="0.0699" stop-color="#195edc"/><stop offset="0.0825" stop-color="#0f6ce6"/><stop offset="0.0920" stop-color="#0a73eb"/><stop offset="0.1386" stop-color="#0087f0"/><stop offset="0.1971" stop-color="#00a0e1"/><stop offset="0.2168" stop-color="#00acd3"/><stop offset="0.2516" stop-color="#00b4c3"/><stop offset="0.2800" stop-color="#00b7af"/><stop offset="0.3045" stop-color="#00b997"/><stop offset="0.3685" stop-color="#00be69"/><stop offset="0.3709" stop-color="#1abe64"/><stop offset="0.3756" stop-color="#5fbe55"/><stop offset="0.3843" stop-color="#72be4e"/><stop offset="0.4009" stop-color="#73be4e"/><stop offset="0.4017" stop-color="#ffffff"/><stop offset="0.9996" stop-color="#ffffff"/></linearGradient>
<linearGradient id="g39" gradientUnits="userSpaceOnUse" x1="266" x2="1532" y1="0" y2="0"><stop offset="0.0004" stop-color="#4027b6"/><stop offset="0.0296" stop-color="#3c2dc3"/><stop offset="0.0423" stop-color="#3735c8"/><stop offset="0.0509" stop-color="#323ecd"/><stop offset="0.0699" stop-color="#195edc"/><stop offset="0.0825" stop-color="#0f6ce6"/><stop offset="0.0920" stop-color="#0a73eb"/><stop offset="0.1386" stop-color="#0087f0"/><stop offset="0.1971" stop-color="#00a0e1"/><stop offset="0.2168" stop-color="#00acd3"/><stop offset="0.2516" stop-color="#00b4c3"/><stop offset="0.2800" stop-color="#00b7af"/><stop offset="0.3045" stop-color="#00b997"/><stop offset="0.3693" stop-color="#00be69"/><stop offset="0.3716" stop-color="#1abe64"/><stop offset="0.3764" stop-color="#5ebe55"/><stop offset="0.3772" stop-color="#61be54"/><stop offset="0.3851" stop-color="#72be4e"/><stop offset="0.4017" stop-color="#73be4e"/><stop offset="0.4024" stop-color="#ffffff"/><stop offset="0.9996" stop-color="#ffffff"/></linearGradient>
<linearGradient id="g40" gradientUnits="userSpaceOnUse" x1="266" x2="1532" y1="0" y2="0"><stop offset="0.0004" stop-color="#4027b6"/><stop offset="0.0296" stop-color="#3c2dc3"/><stop offset="0.0423" stop-color="#3735c8"/><stop offset="0.0509" stop-color="#323ecd"/><stop offset="0.0699" stop-color="#195edc"/><stop offset="0.0825" stop-color="#0f6ce6"/><stop offset="0.0920" stop-color="#0a73eb"/><stop offset="0.1386" stop-color="#0087f0"/><stop offset="0.1971" stop-color="#00a0e1"/><stop offset="0.2168" stop-color="#00acd3"/><stop offset="0.2516" stop-color="#00b4c3"/><stop offset="0.2800" stop-color="#00b7af"/><stop offset="0.3045" stop-color="#00b997"/><stop offset="0.3701" stop-color="#00be69"/><stop offset="0.3724" stop-color="#19be64"/><stop offset="0.3772" stop-color="#5ebe55"/><stop offset="0.3780" stop-color="#61be54"/><stop offset="0.3859" stop-color="#72be4e"/><stop offset="0.4024" stop-color="#73be4e"/><stop offset="0.4032" stop-color="#ffffff"/><stop offset="0.9996" stop-color="#ffffff"/></linearGradient>
<linearGradient id="g41" gradientUnits="userSpaceOnUse" x1="266" x2="1532" y1="0" y2="0"><stop offset="0.0004" stop-color="#4027b6"/><stop offset="0.0296" stop-color="#3c2dc3"/><stop offset="0.0423" stop-color="#3735c8"/><stop offset="0.0509" stop-color="#323ecd"/><stop offset="0.0699" stop-color="#195edc"/><stop offset="0.0825" stop-color="#0f6ce6"/><stop offset="0.0920" stop-color="#0a73eb"/><stop offset="0.1386" stop-color="#0087f0"/><stop offset="0.1971" stop-color="#00a0e1"/><stop offset="0.2168" stop-color="#00acd3"/><stop offset="0.2516" stop-color="#00b4c3"/><stop offset="0.2800" stop-color="#00b7af"/><stop offset="0.3045" stop-color="#00b997"/><stop offset="0.3709" stop-color="#00be69"/><stop offset="0.3740" stop-color="#24be61"/><stop offset="0.3780" stop-color="#5dbe55"/><stop offset="0.3788" stop-color="#61be54"/><stop offset="0.3867" stop-color="#72be4e"/><stop offset="0.4032" stop-color="#73be4e"/><stop offset="0.4040" stop-color="#ffffff"/><stop offset="0.9996" stop-color="#ffffff"/></linearGradient>
<linearGradient id="g42" gradientUnits="userSpaceOnUse" x1="266" x2="1532" y1="0" y2="0"><stop offset="0.0004" stop-color="#4027b6"/><stop offset="0.0296" stop-color="#3c2dc3"/><stop offset="0.0423" stop-color="#3735c8"/><stop offset="0.0509" stop-color="#323ecd"/><stop offset="0.0699" stop-color="#195edc"/><stop offset="0.0825" stop-color="#0f6ce6"/><stop offset="0.0920" stop-color="#0a73eb"/><stop offset="0.1386" stop-color="#0087f0"/><stop offset="0.1971" stop-color="#00a0e1"/><stop offset="0.2168" stop-color="#00acd3"/><stop offset="0.2516" stop-color="#00b4c3"/><stop offset="0.2800" stop-color="#00b7af"/><stop offset="0.3045" stop-color="#00b997"/><stop offset="0.3582" stop-color="#00bd6f"/><stop offset="0.3716" stop-color="#00be69"/><stop offset="0.3740" stop-color="#18be64"/><stop offset="0.3788" stop-color="#5bbe56"/><stop offset="0.3795" stop-color="#60be55"/><stop offset="0.3882" stop-color="#73be4e"/><stop offset="0.4048" stop-color="#73be4e"/><stop offset="0.4056" stop-color="#ffffff"/><stop offset="0.9996" stop-color="#ffffff"/></linearGradient>
<linearGradient id="g43" gradientUnits="userSpaceOnUse" x1="266" x2="1532" y1="0" y2="0"><stop offset="0.0004" stop-color="#4027b6"/><stop offset="0.0296" stop-color="#3c2dc3"/><stop offset="0.0423" stop-color="#3735c8"/><stop offset="0.0509" stop-color="#323ecd"/><stop offset="0.0699" stop-color="#195edc"/><stop offset="0.0825" stop-color="#0f6ce6"/><stop offset="0.0920" stop-color="#0a73eb"/><stop offset="0.1386" stop-color="#0087f0"/><stop offset="0.1971" stop-color="#00a0e1"/><stop offset="0.2168" stop-color="#00acd3"/><stop offset="0.2516" stop-color="#00b4c3"/><stop offset="0.3582" stop-color="#00bd6f"/><stop offset="0.3724" stop-color="#00be6a"/><stop offset="0.3732" stop-color="#04be68"/><stop offset="0.3748" stop-color="#15be65"/><stop offset="0.3803" stop-color="#60be55"/><stop offset="0.3890" stop-color="#72be4e"/><stop offset="0.4056" stop-color="#73be4e"/><stop offset="0.4064" stop-color="#ffffff"/><stop offset="0.9996" stop-color="#ffffff"/></linearGradient>
<linearGradient id="g44" gradientUnits="userSpaceOnUse" x1="266" x2="1532" y1="0" y2="0"><stop offset="0.0004" stop-color="#4027b6"/><stop offset="0.0296" stop-color="#3c2dc3"/><stop offset="0.0423" stop-color="#3735c8"/><stop offset="0.0509" stop-color="#323ecd"/><stop offset="0.0699" stop-color="#195edc"/><stop offset="0.0825" stop-color="#0f6ce6"/><stop offset="0.0920" stop-color="#0a73eb"/><stop offset="0.1386" stop-color="#0087f0"/><stop offset="0.1971" stop-color="#00a0e1"/><stop offset="0.2168" stop-color="#00acd3"/><stop offset="0.2516" stop-color="#00b4c3"/><stop offset="0.3582" stop-color="#00bd6f"/><stop offset="0.3732" stop-color="#00be6a"/><stop offset="0.3740" stop-color="#02be69"/><stop offset="0.3756" stop-color="#12be65"/><stop offset="0.3811" stop-color="#5ebe55"/><stop offset="0.3819" stop-color="#61be54"/><stop offset="0.3906" stop-color="#73be4e"/><stop offset="0.4064" stop-color="#73be4e"/><stop offset="0.4072" stop-color="#ffffff"/><stop offset="0.9996" stop-color="#ffffff"/></linearGradient>
<linearGradient id="g45" gradientUnits="userSpaceOnUse" x1="266" x2="1532" y1="0" y2="0"><stop offset="0.0004" stop-color="#4027b6"/><stop offset="0.0296" stop-color="#3c2dc3"/><stop offset="0.0423" stop-color="#3735c8"/><stop offset="0.0509" stop-color="#323ecd"/><stop offset="0.0699" stop-color="#195edc"/><stop offset="0.0825" stop-color="#0f6ce6"/><stop offset="0.0920" stop-color="#0a73eb"/><stop offset="0.1386" stop-color="#0087f0"/><stop offset="0.1971" stop-color="#00a0e1"/><stop offset="0.2168" stop-color="#00acd3"/><stop offset="0.2516" stop-color="#00b4c3"/><stop offset="0.3582" stop-color="#00bd6f"/><stop offset="0.3740" stop-color="#00be6a"/><stop offset="0.3748" stop-color="#00be69"/><stop offset="0.3764" stop-color="#0fbe66"/><stop offset="0.3819" stop-color="#59be56"/><stop offset="0.3827" stop-color="#60be55"/><stop offset="0.3914" stop-color="#73be4e"/><stop offset="0.4080" stop-color="#73be4e"/><stop offset="0.4088" stop-color="#ffffff"/><stop offset="0.9996" stop-color="#ffffff"/></linearGradient>
<linearGradient id="g46" gradientUnits="userSpaceOnUse" x1="266" x2="1532" y1="0" y2="0"><stop offset="0.0004" stop-color="#4027b6"/><stop offset="0.0296" stop-color="#3c2dc3"/><stop offset="0.0423" stop-color="#3735c8"/><stop offset="0.0509" stop-color="#323ecd"/><stop offset="0.0699" stop-color="#195edc"/><stop offset="0.0825" stop-color="#0f6ce6"/><stop offset="0.0920" stop-color="#0a73eb"/><stop offset="0.1386" stop-color="#0087f0"/><stop offset="0.1971" stop-color="#00a0e1"/><stop offset="0.2168" stop-color="#00acd3"/><stop offset="0.2516" stop-color="#00b4c3"/><stop offset="0.3582" stop-color="#00bd6f"/><stop offset="0.3756" stop-color="#00be69"/><stop offset="0.3788" stop-color="#1ebe63"/><stop offset="0.3835" stop-color="#5fbe55"/><stop offset="0.3922" stop-color="#72be4e"/><stop offset="0.4088" stop-color="#73be4e"/><stop offset="0.4096" stop-color="#ffffff"/><stop offset="0.9996" stop-color="#ffffff"/></linearGradient>
<linearGradient id="g47" gradientUnits="userSpaceOnUse" x1="266" x2="1532" y1="0" y2="0"><stop offset="0.0004" stop-color="#4027b6"/><stop offset="0.0296" stop-color="#3c2dc3"/><stop offset="0.0423" stop-color="#3735c8"/><stop offset="0.0509" stop-color="#323ecd"/><stop offset="0.0699" stop-color="#195edc"/><stop offset="0.0825" stop-color="#0f6ce6"/><stop offset="0.0920" stop-color="#0a73eb"/><stop offset="0.1386" stop-color="#0087f0"/><stop offset="0.1971" stop-color="#00a0e1"/><stop offset="0.2168" stop-color="#00acd3"/><stop offset="0.2405" stop-color="#00b2c8"/><stop offset="0.2800" stop-color="#00b7af"/><stop offset="0.3045" stop-color="#00b997"/><stop offset="0.3582" stop-color="#00bd6f"/><stop offset="0.3764" stop-color="#00be69"/><stop offset="0.3788" stop-color="#13be65"/><stop offset="0.3843" stop-color="#5dbe55"/><stop offset="0.3851" stop-color="#61be54"/><stop offset="0.3938" stop-color="#73be4e"/><stop offset="0.4103" stop-color="#73be4e"/><stop offset="0.4111" stop-color="#ffffff"/><stop offset="0.9996" stop-color="#ffffff"/></linearGradient>
<linearGradient id="g48" gradientUnits="userSpaceOnUse" x1="266" x2="1532" y1="0" y2="0"><stop offset="0.0004" stop-color="#4027b6"/><stop offset="0.0296" stop-color="#3c2dc3"/><stop offset="0.0423" stop-color="#3735c8"/><stop offset="0.0509" stop-color="#323ecd"/><stop offset="0.0699" stop-color="#195edc"/><stop offset="0.0825" stop-color="#0f6ce6"/><stop offset="0.0920" stop-color="#0a73eb"/><stop offset="0.1386" stop-color="#0087f0"/><stop offset="0.1971" stop-color="#00a0e1"/><stop offset="0.2168" stop-color="#00acd3"/><stop offset="0.2405" stop-color="#00b2c8"/><stop offset="0.2800" stop-color="#00b7af"/><stop offset="0.3045" stop-color="#00b997"/><stop offset="0.3582" stop-color="#00bd6f"/><stop offset="0.3772" stop-color="#00be69"/><stop offset="0.3780" stop-color="#03be68"/><stop offset="0.3803" stop-color="#1bbe63"/><stop offset="0.3851" stop-color="#5abe56"/><stop offset="0.3859" stop-color="#60be55"/><stop offset="0.3945" stop-color="#73be4e"/><stop offset="0.4111" stop-color="#73be4e"/><stop offset="0.4119" stop-color="#ffffff"/><stop offset="0.9996" stop-color="#ffffff"/></linearGradient>
<linearGradient id="g49" gradientUnits="userSpaceOnUse" x1="266" x2="1532" y1="0" y2="0"><stop offset="0.0004" stop-color="#4027b6"/><stop offset="0.0296" stop-color="#3c2dc3"/><stop offset="0.0423" stop-color="#3735c8"/><stop offset="0.0509" stop-color="#323ecd"/><stop offset="0.0699" stop-color="#195edc"/><stop offset="0.0825" stop-color="#0f6ce6"/><stop offset="0.0920" stop-color="#0a73eb"/><stop offset="0.1386" stop-color="#0087f0"/><stop offset="0.1971" stop-color="#00a0e1"/><stop offset="0.2168" stop-color="#00acd3"/><stop offset="0.2405" stop-color="#00b2c8"/><stop offset="0.2800" stop-color="#00b7af"/><stop offset="0.3045" stop-color="#00b997"/><stop offset="0.3582" stop-color="#00bd6f"/><stop offset="0.3780" stop-color="#00be69"/><stop offset="0.3788" stop-color="#03be68"/><stop offset="0.3811" stop-color="#19be64"/><stop offset="0.3867" stop-color="#60be55"/><stop offset="0.3953" stop-color="#72be4e"/><stop offset="0.4119" stop-color="#73be4e"/><stop offset="0.4127" stop-color="#ffffff"/><stop offset="0.9996" stop-color="#ffffff"/></linearGradient>
<linearGradient id="g50" gradientUnits="userSpaceOnUse" x1="266" x2="1532" y1="0" y2="0"><stop offset="0.0004" stop-color="#4027b6"/><stop offset="0.0296" stop-color="#3c2dc3"/><stop offset="0.0423" stop-color="#3735c8"/><stop offset="0.0509" stop-color="#323ecd"/><stop offset="0.0699" stop-color="#195edc"/><stop offset="0.0825" stop-color="#0f6ce6"/><stop offset="0.0920" stop-color="#0a73eb"/><stop offset="0.1386" stop-color="#0087f0"/><stop offset="0.1971" stop-color="#00a0e1"/><stop offset="0.2168" stop-color="#00acd3"/><stop offset="0.2405" stop-color="#00b2c8"/><stop offset="0.2800" stop-color="#00b7af"/><stop offset="0.3045" stop-color="#00b997"/><stop offset="0.3582" stop-color="#00bd6f"/><stop offset="0.3788" stop-color="#00be69"/><stop offset="0.3795" stop-color="#02be68"/><stop offset="0.3819" stop-color="#18be64"/><stop offset="0.3874" stop-color="#5fbe55"/><stop offset="0.3961" stop-color="#72be4e"/><stop offset="0.4135" stop-color="#73be4e"/><stop offset="0.4143" stop-color="#ffffff"/><stop offset="0.9996" stop-color="#ffffff"/></linearGradient>
<linearGradient id="g51" gradientUnits="userSpaceOnUse" x1="266" x2="1532" y1="0" y2="0"><stop offset="0.0004" stop-color="#4027b6"/><stop offset="0.0296" stop-color="#3c2dc3"/><stop offset="0.0423" stop-color="#3735c8"/><stop offset="0.0509" stop-color="#323ecd"/><stop offset="0.0699" stop-color="#195edc"/><stop offset="0.0825" stop-color="#0f6ce6"/><stop offset="0.0920" stop-color="#0a73eb"/><stop offset="0.1386" stop-color="#0087f0"/><stop offset="0.1971" stop-color="#00a0e1"/><stop offset="0.2168" stop-color="#00acd3"/><stop offset="0.2405" stop-color="#00b2c8"/><stop offset="0.2800" stop-color="#00b7af"/><stop offset="0.3045" stop-color="#00b997"/><stop offset="0.3582" stop-color="#00bd6f"/><stop offset="0.3795" stop-color="#00be69"/><stop offset="0.3803" stop-color="#02be69"/><stop offset="0.3827" stop-color="#17be64"/><stop offset="0.3882" stop-color="#5fbe55"/><stop offset="0.3977" stop-color="#73be4e"/><stop offset="0.4143" stop-color="#73be4e"/><stop offset="0.4151" stop-color="#ffffff"/><stop offset="0.9996" stop-color="#ffffff"/></linearGradient>
<linearGradient id="g52" gradientUnits="userSpaceOnUse" x1="266" x2="1532" y1="0" y2="0"><stop offset="0.0004" stop-color="#4027b6"/><stop offset="0.0296" stop-color="#3c2dc3"/><stop offset="0.0423" stop-color="#3735c8"/><stop offset="0.0509" stop-color="#323ecd"/><stop offset="0.0699" stop-color="#195edc"/><stop offset="0.0825" stop-color="#0f6ce6"/><stop offset="0.0920" stop-color="#0a73eb"/><stop offset="0.1386" stop-color="#0087f0"/><stop offset="0.1971" stop-color="#00a0e1"/><stop offset="0.2168" stop-color="#00acd3"/><stop offset="0.2405" stop-color="#00b2c8"/><stop offset="0.2800" stop-color="#00b7af"/><stop offset="0.3045" stop-color="#00b997"/><stop offset="0.3582" stop-color="#00bd6f"/><stop offset="0.3803" stop-color="#00be69"/><stop offset="0.3811" stop-color="#01be69"/><stop offset="0.3835" stop-color="#14be65"/><stop offset="0.3890" stop-color="#5abe56"/><stop offset="0.3898" stop-color="#60be55"/><stop offset="0.3985" stop-color="#72be4e"/><stop offset="0.4151" stop-color="#73be4e"/><stop offset="0.4159" stop-color="#ffffff"/><stop offset="0.9996" stop-color="#ffffff"/></linearGradient>
<linearGradient id="g53" gradientUnits="userSpaceOnUse" x1="266" x2="1532" y1="0" y2="0"><stop offset="0.0004" stop-color="#4027b6"/><stop offset="0.0296" stop-color="#3c2dc3"/><stop offset="0.0423" stop-color="#3735c8"/><stop offset="0.0509" stop-color="#323ecd"/><stop offset="0.0699" stop-color="#195edc"/><stop offset="0.0825" stop-color="#0f6ce6"/><stop offset="0.0920" stop-color="#0a73eb"/><stop offset="0.1386" stop-color="#0087f0"/><stop offset="0.1971" stop-color="#00a0e1"/><stop offset="0.2168" stop-color="#00acd3"/><stop offset="0.2405" stop-color="#00b2c8"/><stop offset="0.2800" stop-color="#00b7af"/><stop offset="0.3045" stop-color="#00b997"/><stop offset="0.3582" stop-color="#00bd6f"/><stop offset="0.3811" stop-color="#00be6a"/><stop offset="0.3827" stop-color="#04be68"/><stop offset="0.3851" stop-color="#18be64"/><stop offset="0.3906" stop-color="#5fbe55"/><stop offset="0.4001" stop-color="#73be4e"/><stop offset="0.4167" stop-color="#73be4e"/><stop offset="0.4175" stop-color="#ffffff"/><stop offset="0.9996" stop-color="#ffffff"/></linearGradient>
<linearGradient id="g54" gradientUnits="userSpaceOnUse" x1="266" x2="1532" y1="0" y2="0"><stop offset="0.0004" stop-color="#4027b6"/><stop offset="0.0296" stop-color="#3c2dc3"/><stop offset="0.0423" stop-color="#3735c8"/><stop offset="0.0509" stop-color="#323ecd"/><stop offset="0.0699" stop-color="#195edc"/><stop offset="0.0825" stop-color="#0f6ce6"/><stop offset="0.0920" stop-color="#0a73eb"/><stop offset="0.1386" stop-color="#0087f0"/><stop offset="0.1971" stop-color="#00a0e1"/><stop offset="0.2168" stop-color="#00acd3"/><stop offset="0.2405" stop-color="#00b2c8"/><stop offset="0.2800" stop-color="#00b7af"/><stop offset="0.3045" stop-color="#00b997"/><stop offset="0.3582" stop-color="#00bd6f"/><stop offset="0.3827" stop-color="#00be69"/><stop offset="0.3843" stop-color="#08be67"/><stop offset="0.3867" stop-color="#1dbe63"/><stop offset="0.3922" stop-color="#60be55"/><stop offset="0.4009" stop-color="#72be4e"/><stop offset="0.4175" stop-color="#73be4e"/><stop offset="0.4182" stop-color="#ffffff"/><stop offset="0.9996" stop-color="#ffffff"/></linearGradient>
<linearGradient id="g55" gradientUnits="userSpaceOnUse" x1="266" x2="1532" y1="0" y2="0"><stop offset="0.0004" stop-color="#4027b6"/><stop offset="0.0296" stop-color="#3c2dc3"/><stop offset="0.0423" stop-color="#3735c8"/><stop offset="0.0509" stop-color="#323ecd"/><stop offset="0.0699" stop-color="#195edc"/><stop offset="0.0825" stop-color="#0f6ce6"/><stop offset="0.0920" stop-color="#0a73eb"/><stop offset="0.1386" stop-color="#0087f0"/><stop offset="0.1971" stop-color="#00a0e1"/><stop offset="0.2168" stop-color="#00acd3"/><stop offset="0.2405" stop-color="#00b2c8"/><stop offset="0.2800" stop-color="#00b7af"/><stop offset="0.3045" stop-color="#00b997"/><stop offset="0.3582" stop-color="#00bd6f"/><stop offset="0.3835" stop-color="#00be69"/><stop offset="0.3851" stop-color="#06be68"/><stop offset="0.3874" stop-color="#19be64"/><stop offset="0.3930" stop-color="#5ebe55"/><stop offset="0.3938" stop-color="#61be54"/><stop offset="0.4024" stop-color="#72be4e"/><stop offset="0.4190" stop-color="#73be4e"/><stop offset="0.4198" stop-color="#ffffff"/><stop offset="0.9996" stop-color="#ffffff"/></linearGradient>
<linearGradient id="g56" gradientUnits="userSpaceOnUse" x1="266" x2="1532" y1="0" y2="0"><stop offset="0.0004" stop-color="#4027b6"/><stop offset="0.0296" stop-color="#3c2dc3"/><stop offset="0.0423" stop-color="#3735c8"/><stop offset="0.0509" stop-color="#323ecd"/><stop offset="0.0699" stop-color="#195edc"/><stop offset="0.0825" stop-color="#0f6ce6"/><stop offset="0.0920" stop-color="#0a73eb"/><stop offset="0.1386" stop-color="#0087f0"/><stop offset="0.1971" stop-color="#00a0e1"/><stop offset="0.2168" stop-color="#00acd3"/><stop offset="0.2405" stop-color="#00b2c8"/><stop offset="0.2800" stop-color="#00b7af"/><stop offset="0.3045" stop-color="#00b997"/><stop offset="0.3582" stop-color="#00bd6f"/><stop offset="0.3835" stop-color="#00be69"/><stop offset="0.3859" stop-color="#05be68"/><stop offset="0.3882" stop-color="#15be65"/><stop offset="0.3945" stop-color="#60be55"/><stop offset="0.4040" stop-color="#73be4e"/><stop offset="0.4206" stop-color="#73be4e"/><stop offset="0.4214" stop-color="#ffffff"/><stop offset="0.9996" stop-color="#ffffff"/></linearGradient>
<linearGradient id="g57" gradientUnits="userSpaceOnUse" x1="266" x2="1532" y1="0" y2="0"><stop offset="0.0004" stop-color="#4027b6"/><stop offset="0.0296" stop-color="#3c2dc3"/><stop offset="0.0423" stop-color="#3735c8"/><stop offset="0.0509" stop-color="#323ecd"/><stop offset="0.0699" stop-color="#195edc"/><stop offset="0.0825" stop-color="#0f6ce6"/><stop offset="0.0920" stop-color="#0a73eb"/><stop offset="0.1386" stop-color="#0087f0"/><stop offset="0.1971" stop-color="#00a0e1"/><stop offset="0.2168" stop-color="#00acd3"/><stop offset="0.2405" stop-color="#00b2c8"/><stop offset="0.2800" stop-color="#00b7af"/><stop offset="0.3045" stop-color="#00b997"/><stop offset="0.3582" stop-color="#00bd6f"/><stop offset="0.3835" stop-color="#00be69"/><stop offset="0.3867" stop-color="#05be68"/><stop offset="0.3882" stop-color="#0dbe66"/><stop offset="0.3914" stop-color="#2bbe60"/><stop offset="0.3953" stop-color="#5ebe55"/><stop offset="0.3961" stop-color="#61be54"/><stop offset="0.4048" stop-color="#72be4e"/><stop offset="0.4214" stop-color="#73be4e"/><stop offset="0.4222" stop-color="#ffffff"/><stop offset="0.9996" stop-color="#ffffff"/></linearGradient>
<linearGradient id="g58" gradientUnits="userSpaceOnUse" x1="266" x2="1532" y1="0" y2="0"><stop offset="0.0004" stop-color="#4027b6"/><stop offset="0.0296" stop-color="#3c2dc3"/><stop offset="0.0423" stop-color="#3735c8"/><stop offset="0.0509" stop-color="#323ecd"/><stop offset="0.0699" stop-color="#195edc"/><stop offset="0.0825" stop-color="#0f6ce6"/><stop offset="0.0920" stop-color="#0a73eb"/><stop offset="0.1386" stop-color="#0087f0"/><stop offset="0.1971" stop-color="#00a0e1"/><stop offset="0.2168" stop-color="#00acd3"/><stop offset="0.2405" stop-color="#00b2c8"/><stop offset="0.2800" stop-color="#00b7af"/><stop offset="0.3045" stop-color="#00b997"/><stop offset="0.3582" stop-color="#00bd6f"/><stop offset="0.3835" stop-color="#00be69"/><stop offset="0.3874" stop-color="#05be68"/><stop offset="0.3890" stop-color="#0dbe66"/><stop offset="0.3914" stop-color="#21be62"/><stop offset="0.3961" stop-color="#5cbe56"/><stop offset="0.3969" stop-color="#60be55"/><stop offset="0.4056" stop-color="#72be4e"/><stop offset="0.4222" stop-color="#73be4e"/><stop offset="0.4230" stop-color="#ffffff"/><stop offset="0.9996" stop-color="#ffffff"/></linearGradient>
<linearGradient id="g59" gradientUnits="userSpaceOnUse" x1="266" x2="1532" y1="0" y2="0"><stop offset="0.0004" stop-color="#4027b6"/><stop offset="0.0296" stop-color="#3c2dc3"/><stop offset="0.0423" stop-color="#3735c8"/><stop offset="0.0509" stop-color="#323ecd"/><stop offset="0.0699" stop-color="#195edc"/><stop offset="0.0825" stop-color="#0f6ce6"/><stop offset="0.0920" stop-color="#0a73eb"/><stop offset="0.1386" stop-color="#0087f0"/><stop offset="0.1971" stop-color="#00a0e1"/><stop offset="0.2168" stop-color="#00acd3"/><stop offset="0.2405" stop-color="#00b2c8"/><stop offset="0.2800" stop-color="#00b7af"/><stop offset="0.3045" stop-color="#00b997"/><stop offset="0.3582" stop-color="#00bd6f"/><stop offset="0.3835" stop-color="#00be69"/><stop offset="0.3882" stop-color="#06be68"/><stop offset="0.3898" stop-color="#0dbe66"/><stop offset="0.3930" stop-color="#29be60"/><stop offset="0.3969" stop-color="#5abe56"/><stop offset="0.3977" stop-color="#60be55"/><stop offset="0.4072" stop-color="#73be4e"/><stop offset="0.4238" stop-color="#73be4e"/><stop offset="0.4246" stop-color="#ffffff"/><stop offset="0.9996" stop-color="#ffffff"/></linearGradient>
<linearGradient id="g60" gradientUnits="userSpaceOnUse" x1="266" x2="1532" y1="0" y2="0"><stop offset="0.0004" stop-color="#4027b6"/><stop offset="0.0296" stop-color="#3c2dc3"/><stop offset="0.0423" stop-color="#3735c8"/><stop offset="0.0509" stop-color="#323ecd"/><stop offset="0.0699" stop-color="#195edc"/><stop offset="0.0825" stop-color="#0f6ce6"/><stop offset="0.0920" stop-color="#0a73eb"/><stop offset="0.1386" stop-color="#0087f0"/><stop offset="0.1971" stop-color="#00a0e1"/><stop offset="0.2168" stop-color="#00acd3"/><stop offset="0.2405" stop-color="#00b2c8"/><stop offset="0.2800" stop-color="#00b7af"/><stop offset="0.3045" stop-color="#00b997"/><stop offset="0.3582" stop-color="#00bd6f"/><stop offset="0.3835" stop-color="#00be69"/><stop offset="0.3890" stop-color="#06be68"/><stop offset="0.3906" stop-color="#0dbe66"/><stop offset="0.3938" stop-color="#27be61"/><stop offset="0.3985" stop-color="#60be55"/><stop offset="0.4080" stop-color="#73be4e"/><stop offset="0.4246" stop-color="#73be4e"/><stop offset="0.4254" stop-color="#ffffff"/><stop offset="0.9996" stop-color="#ffffff"/></linearGradient>
<linearGradient id="g61" gradientUnits="userSpaceOnUse" x1="266" x2="1532" y1="0" y2="0"><stop offset="0.0004" stop-color="#4027b6"/><stop offset="0.0296" stop-color="#3c2dc3"/><stop offset="0.0423" stop-color="#3735c8"/><stop offset="0.0509" stop-color="#323ecd"/><stop offset="0.0699" stop-color="#195edc"/><stop offset="0.0825" stop-color="#0f6ce6"/><stop offset="0.0920" stop-color="#0a73eb"/><stop offset="0.1386" stop-color="#0087f0"/><stop offset="0.1971" stop-color="#00a0e1"/><stop offset="0.2168" stop-color="#00acd3"/><stop offset="0.2405" stop-color="#00b2c8"/><stop offset="0.2800" stop-color="#00b7af"/><stop offset="0.3045" stop-color="#00b997"/><stop offset="0.3582" stop-color="#00bd6f"/><stop offset="0.3835" stop-color="#00be69"/><stop offset="0.3898" stop-color="#07be68"/><stop offset="0.3914" stop-color="#0cbe66"/><stop offset="0.3945" stop-color="#26be61"/><stop offset="0.3993" stop-color="#5fbe55"/><stop offset="0.4088" stop-color="#72be4e"/><stop offset="0.4254" stop-color="#73be4e"/><stop offset="0.4261" stop-color="#ffffff"/><stop offset="0.9996" stop-color="#ffffff"/></linearGradient>
<linearGradient id="g62" gradientUnits="userSpaceOnUse" x1="266" x2="1532" y1="0" y2="0"><stop offset="0.0004" stop-color="#4027b6"/><stop offset="0.0296" stop-color="#3c2dc3"/><stop offset="0.0423" stop-color="#3735c8"/><stop offset="0.0509" stop-color="#323ecd"/><stop offset="0.0699" stop-color="#195edc"/><stop offset="0.0825" stop-color="#0f6ce6"/><stop offset="0.0920" stop-color="#0a73eb"/><stop offset="0.1386" stop-color="#0087f0"/><stop offset="0.1971" stop-color="#00a0e1"/><stop offset="0.2168" stop-color="#00acd3"/><stop offset="0.2405" stop-color="#00b2c8"/><stop offset="0.2800" stop-color="#00b7af"/><stop offset="0.3045" stop-color="#00b997"/><stop offset="0.3582" stop-color="#00bd6f"/><stop offset="0.3835" stop-color="#00be69"/><stop offset="0.3922" stop-color="#0dbe66"/><stop offset="0.3953" stop-color="#26be61"/><stop offset="0.4001" stop-color="#5fbe55"/><stop offset="0.4096" stop-color="#72be4e"/><stop offset="0.4261" stop-color="#73be4e"/><stop offset="0.4269" stop-color="#ffffff"/><stop offset="0.9996" stop-color="#ffffff"/></linearGradient>
<linearGradient id="g63" gradientUnits="userSpaceOnUse" x1="266" x2="1532" y1="0" y2="0"><stop offset="0.0004" stop-color="#4027b6"/><stop offset="0.0296" stop-color="#3c2dc3"/><stop offset="0.0423" stop-color="#3735c8"/><stop offset="0.0509" stop-color="#323ecd"/><stop offset="0.0699" stop-color="#195edc"/><stop offset="0.0825" stop-color="#0f6ce6"/><stop offset="0.0920" stop-color="#0a73eb"/><stop offset="0.1386" stop-color="#0087f0"/><stop offset="0.1971" stop-color="#00a0e1"/><stop offset="0.2168" stop-color="#00acd3"/><stop offset="0.2405" stop-color="#00b2c8"/><stop offset="0.2800" stop-color="#00b7af"/><stop offset="0.3045" stop-color="#00b997"/><stop offset="0.3582" stop-color="#00bd6f"/><stop offset="0.3835" stop-color="#00be69"/><stop offset="0.3914" stop-color="#09be67"/><stop offset="0.3930" stop-color="#0ebe66"/><stop offset="0.3961" stop-color="#28be61"/><stop offset="0.4009" stop-color="#5fbe55"/><stop offset="0.4103" stop-color="#72be4e"/><stop offset="0.4269" stop-color="#73be4e"/><stop offset="0.4277" stop-color="#ffffff"/><stop offset="0.9996" stop-color="#ffffff"/></linearGradient>
<linearGradient id="g64" gradientUnits="userSpaceOnUse" x1="266" x2="1532" y1="0" y2="0"><stop offset="0.0004" stop-color="#4027b6"/><stop offset="0.0296" stop-color="#3c2dc3"/><stop offset="0.0423" stop-color="#3735c8"/><stop offset="0.0509" stop-color="#323ecd"/><stop offset="0.0699" stop-color="#195edc"/><stop offset="0.0825" stop-color="#0f6ce6"/><stop offset="0.0920" stop-color="#0a73eb"/><stop offset="0.1386" stop-color="#0087f0"/><stop offset="0.1971" stop-color="#00a0e1"/><stop offset="0.2168" stop-color="#00acd3"/><stop offset="0.2405" stop-color="#00b2c8"/><stop offset="0.2800" stop-color="#00b7af"/><stop offset="0.3045" stop-color="#00b997"/><stop offset="0.3582" stop-color="#00bd6f"/><stop offset="0.3835" stop-color="#00be69"/><stop offset="0.3922" stop-color="#0abe67"/><stop offset="0.3938" stop-color="#10be66"/><stop offset="0.3969" stop-color="#29be60"/><stop offset="0.4017" stop-color="#60be55"/><stop offset="0.4111" stop-color="#72be4e"/><stop offset="0.4277" stop-color="#73be4e"/><stop offset="0.4285" stop-color="#ffffff"/><stop offset="0.9996" stop-color="#ffffff"/></linearGradient>
<linearGradient id="g65" gradientUnits="userSpaceOnUse" x1="266" x2="1532" y1="0" y2="0"><stop offset="0.0004" stop-color="#4027b6"/><stop offset="0.0296" stop-color="#3c2dc3"/><stop offset="0.0423" stop-color="#3735c8"/><stop offset="0.0509" stop-color="#323ecd"/><stop offset="0.0699" stop-color="#195edc"/><stop offset="0.0825" stop-color="#0f6ce6"/><stop offset="0.0920" stop-color="#0a73eb"/><stop offset="0.1386" stop-color="#0087f0"/><stop offset="0.1971" stop-color="#00a0e1"/><stop offset="0.2168" stop-color="#00acd3"/><stop offset="0.2405" stop-color="#00b2c8"/><stop offset="0.2800" stop-color="#00b7af"/><stop offset="0.3045" stop-color="#00b997"/><stop offset="0.3582" stop-color="#00bd6f"/><stop offset="0.3835" stop-color="#00be69"/><stop offset="0.3930" stop-color="#0bbe67"/><stop offset="0.3945" stop-color="#11be65"/><stop offset="0.3977" stop-color="#2bbe60"/><stop offset="0.4024" stop-color="#60be55"/><stop offset="0.4119" stop-color="#73be4e"/><stop offset="0.4285" stop-color="#73be4e"/><stop offset="0.4293" stop-color="#ffffff"/><stop offset="0.9996" stop-color="#ffffff"/></linearGradient>
<linearGradient id="g66" gradientUnits="userSpaceOnUse" x1="266" x2="1532" y1="0" y2="0"><stop offset="0.0004" stop-color="#4027b6"/><stop offset="0.0296" stop-color="#3c2dc3"/><stop offset="0.0423" stop-color="#3735c8"/><stop offset="0.0509" stop-color="#323ecd"/><stop offset="0.0699" stop-color="#195edc"/><stop offset="0.0825" stop-color="#0f6ce6"/><stop offset="0.0920" stop-color="#0a73eb"/><stop offset="0.1386" stop-color="#0087f0"/><stop offset="0.1971" stop-color="#00a0e1"/><stop offset="0.2168" stop-color="#00acd3"/><stop offset="0.2405" stop-color="#00b2c8"/><stop offset="0.2800" stop-color="#00b7af"/><stop offset="0.3045" stop-color="#00b997"/><stop offset="0.3582" stop-color="#00bd6f"/><stop offset="0.3835" stop-color="#00be69"/><stop offset="0.3945" stop-color="#0ebe66"/><stop offset="0.3977" stop-color="#24be61"/><stop offset="0.4032" stop-color="#60be55"/><stop offset="0.4127" stop-color="#73be4e"/><stop offset="0.4293" stop-color="#73be4e"/><stop offset="0.4301" stop-color="#ffffff"/><stop offset="0.9996" stop-color="#ffffff"/></linearGradient>
<linearGradient id="g67" gradientUnits="userSpaceOnUse" x1="266" x2="1532" y1="0" y2="0"><stop offset="0.0004" stop-color="#4027b6"/><stop offset="0.0296" stop-color="#3c2dc3"/><stop offset="0.0423" stop-color="#3735c8"/><stop offset="0.0509" stop-color="#323ecd"/><stop offset="0.0699" stop-color="#195edc"/><stop offset="0.0825" stop-color="#0f6ce6"/><stop offset="0.0920" stop-color="#0a73eb"/><stop offset="0.1386" stop-color="#0087f0"/><stop offset="0.1971" stop-color="#00a0e1"/><stop offset="0.2168" stop-color="#00acd3"/><stop offset="0.2405" stop-color="#00b2c8"/><stop offset="0.2800" stop-color="#00b7af"/><stop offset="0.3045" stop-color="#00b997"/><stop offset="0.3582" stop-color="#00bd6f"/><stop offset="0.3835" stop-color="#00be69"/><stop offset="0.3953" stop-color="#0fbe66"/><stop offset="0.3985" stop-color="#25be61"/><stop offset="0.4040" stop-color="#60be55"/><stop offset="0.4135" stop-color="#73be4e"/><stop offset="0.4301" stop-color="#73be4e"/><stop offset="0.4309" stop-color="#ffffff"/><stop offset="0.9996" stop-color="#ffffff"/></linearGradient>
<linearGradient id="g68" gradientUnits="userSpaceOnUse" x1="266" x2="1532" y1="0" y2="0"><stop offset="0.0004" stop-color="#4027b6"/><stop offset="0.0296" stop-color="#3c2dc3"/><stop offset="0.0423" stop-color="#3735c8"/><stop offset="0.0509" stop-color="#323ecd"/><stop offset="0.0699" stop-color="#195edc"/><stop offset="0.0825" stop-color="#0f6ce6"/><stop offset="0.0920" stop-color="#0a73eb"/><stop offset="0.1386" stop-color="#0087f0"/><stop offset="0.1971" stop-color="#00a0e1"/><stop offset="0.2168" stop-color="#00acd3"/><stop offset="0.2405" stop-color="#00b2c8"/><stop offset="0.2800" stop-color="#00b7af"/><stop offset="0.3045" stop-color="#00b997"/><stop offset="0.3582" stop-color="#00bd6f"/><stop offset="0.3835" stop-color="#00be69"/><stop offset="0.3953" stop-color="#0dbe66"/><stop offset="0.3969" stop-color="#13be65"/><stop offset="0.4001" stop-color="#2bbe60"/><stop offset="0.4048" stop-color="#5fbe55"/><stop offset="0.4064" stop-color="#63be54"/><stop offset="0.4143" stop-color="#72be4e"/><stop offset="0.4309" stop-color="#73be4e"/><stop offset="0.4317" stop-color="#ffffff"/><stop offset="0.9996" stop-color="#ffffff"/></linearGradient>
<linearGradient id="g69" gradientUnits="userSpaceOnUse" x1="266" x2="1532" y1="0" y2="0"><stop offset="0.0004" stop-color="#4027b6"/><stop offset="0.0296" stop-color="#3c2dc3"/><stop offset="0.0423" stop-color="#3735c8"/><stop offset="0.0509" stop-color="#323ecd"/><stop offset="0.0699" stop-color="#195edc"/><stop offset="0.0825" stop-color="#0f6ce6"/><stop offset="0.0920" stop-color="#0a73eb"/><stop offset="0.1386" stop-color="#0087f0"/><stop offset="0.1971" stop-color="#00a0e1"/><stop offset="0.2168" stop-color="#00acd3"/><stop offset="0.2405" stop-color="#00b2c8"/><stop offset="0.2800" stop-color="#00b7af"/><stop offset="0.3045" stop-color="#00b997"/><stop offset="0.3582" stop-color="#00bd6f"/><stop offset="0.3835" stop-color="#00be69"/><stop offset="0.3977" stop-color="#13be65"/><stop offset="0.4017" stop-color="#31be5f"/><stop offset="0.4056" stop-color="#5ebe55"/><stop offset="0.4088" stop-color="#67be52"/><stop offset="0.4159" stop-color="#73be4e"/><stop offset="0.4325" stop-color="#73be4e"/><stop offset="0.4333" stop-color="#ffffff"/><stop offset="0.9996" stop-color="#ffffff"/></linearGradient>
<linearGradient id="g70" gradientUnits="userSpaceOnUse" x1="266" x2="1532" y1="0" y2="0"><stop offset="0.0004" stop-color="#4027b6"/><stop offset="0.0296" stop-color="#3c2dc3"/><stop offset="0.0423" stop-color="#3735c8"/><stop offset="0.0509" stop-color="#323ecd"/><stop offset="0.0699" stop-color="#195edc"/><stop offset="0.0825" stop-color="#0f6ce6"/><stop offset="0.0920" stop-color="#0a73eb"/><stop offset="0.1386" stop-color="#0087f0"/><stop offset="0.1971" stop-color="#00a0e1"/><stop offset="0.2168" stop-color="#00acd3"/><stop offset="0.2405" stop-color="#00b2c8"/><stop offset="0.2800" stop-color="#00b7af"/><stop offset="0.3045" stop-color="#00b997"/><stop offset="0.3582" stop-color="#00bd6f"/><stop offset="0.3835" stop-color="#00be69"/><stop offset="0.3985" stop-color="#13be65"/><stop offset="0.4024" stop-color="#2fbe5f"/><stop offset="0.4064" stop-color="#5cbe56"/><stop offset="0.4103" stop-color="#68be52"/><stop offset="0.4167" stop-color="#73be4e"/><stop offset="0.4333" stop-color="#73be4e"/><stop offset="0.4340" stop-color="#ffffff"/><stop offset="0.9996" stop-color="#ffffff"/></linearGradient>
<linearGradient id="g71" gradientUnits="userSpaceOnUse" x1="266" x2="1532" y1="0" y2="0"><stop offset="0.0004" stop-color="#4027b6"/><stop offset="0.0296" stop-color="#3c2dc3"/><stop offset="0.0423" stop-color="#3735c8"/><stop offset="0.0509" stop-color="#323ecd"/><stop offset="0.0699" stop-color="#195edc"/><stop offset="0.0825" stop-color="#0f6ce6"/><stop offset="0.0920" stop-color="#0a73eb"/><stop offset="0.1386" stop-color="#0087f0"/><stop offset="0.1971" stop-color="#00a0e1"/><stop offset="0.2168" stop-color="#00acd3"/><stop offset="0.2405" stop-color="#00b2c8"/><stop offset="0.2800" stop-color="#00b7af"/><stop offset="0.3045" stop-color="#00b997"/><stop offset="0.3582" stop-color="#00bd6f"/><stop offset="0.3835" stop-color="#00be69"/><stop offset="0.3993" stop-color="#13be65"/><stop offset="0.4032" stop-color="#2dbe5f"/><stop offset="0.4080" stop-color="#60be55"/><stop offset="0.4111" stop-color="#67be52"/><stop offset="0.4182" stop-color="#73be4e"/><stop offset="0.4340" stop-color="#73be4e"/><stop offset="0.4348" stop-color="#ffffff"/><stop offset="0.9996" stop-color="#ffffff"/></linearGradient>
<linearGradient id="g72" gradientUnits="userSpaceOnUse" x1="266" x2="1532" y1="0" y2="0"><stop offset="0.0004" stop-color="#4027b6"/><stop offset="0.0296" stop-color="#3c2dc3"/><stop offset="0.0423" stop-color="#3735c8"/><stop offset="0.0509" stop-color="#323ecd"/><stop offset="0.0699" stop-color="#195edc"/><stop offset="0.0825" stop-color="#0f6ce6"/><stop offset="0.0920" stop-color="#0a73eb"/><stop offset="0.1386" stop-color="#0087f0"/><stop offset="0.1971" stop-color="#00a0e1"/><stop offset="0.2168" stop-color="#00acd3"/><stop offset="0.2405" stop-color="#00b2c8"/><stop offset="0.2800" stop-color="#00b7af"/><stop offset="0.3045" stop-color="#00b997"/><stop offset="0.3582" stop-color="#00bd6f"/><stop offset="0.3835" stop-color="#00be69"/><stop offset="0.4001" stop-color="#14be65"/><stop offset="0.4040" stop-color="#2dbe60"/><stop offset="0.4088" stop-color="#60be55"/><stop offset="0.4127" stop-color="#69be52"/><stop offset="0.4190" stop-color="#73be4e"/><stop offset="0.4348" stop-color="#73be4e"/><stop offset="0.4356" stop-color="#ffffff"/><stop offset="0.9996" stop-color="#ffffff"/></linearGradient>
<linearGradient id="g73" gradientUnits="userSpaceOnUse" x1="266" x2="1532" y1="0" y2="0"><stop offset="0.0004" stop-color="#4027b6"/><stop offset="0.0296" stop-color="#3c2dc3"/><stop offset="0.0423" stop-color="#3735c8"/><stop offset="0.0509" stop-color="#323ecd"/><stop offset="0.0699" stop-color="#195edc"/><stop offset="0.0825" stop-color="#0f6ce6"/><stop offset="0.0920" stop-color="#0a73eb"/><stop offset="0.1386" stop-color="#0087f0"/><stop offset="0.1971" stop-color="#00a0e1"/><stop offset="0.2168" stop-color="#00acd3"/><stop offset="0.2405" stop-color="#00b2c8"/><stop offset="0.2800" stop-color="#00b7af"/><stop offset="0.3045" stop-color="#00b997"/><stop offset="0.3582" stop-color="#00bd6f"/><stop offset="0.3835" stop-color="#00be69"/><stop offset="0.4017" stop-color="#17be64"/><stop offset="0.4048" stop-color="#2dbe5f"/><stop offset="0.4096" stop-color="#60be55"/><stop offset="0.4135" stop-color="#69be52"/><stop offset="0.4198" stop-color="#73be4e"/><stop offset="0.4356" stop-color="#73be4e"/><stop offset="0.4364" stop-color="#ffffff"/><stop offset="0.9996" stop-color="#ffffff"/></linearGradient>
<linearGradient id="g74" gradientUnits="userSpaceOnUse" x1="266" x2="1532" y1="0" y2="0"><stop offset="0.0004" stop-color="#4027b6"/><stop offset="0.0296" stop-color="#3c2dc3"/><stop offset="0.0423" stop-color="#3735c8"/><stop offset="0.0509" stop-color="#323ecd"/><stop offset="0.0699" stop-color="#195edc"/><stop offset="0.0825" stop-color="#0f6ce6"/><stop offset="0.0920" stop-color="#0a73eb"/><stop offset="0.1386" stop-color="#0087f0"/><stop offset="0.1971" stop-color="#00a0e1"/><stop offset="0.2168" stop-color="#00acd3"/><stop offset="0.2405" stop-color="#00b2c8"/><stop offset="0.2800" stop-color="#00b7af"/><stop offset="0.3045" stop-color="#00b997"/><stop offset="0.3582" stop-color="#00bd6f"/><stop offset="0.3835" stop-color="#00be69"/><stop offset="0.4024" stop-color="#17be64"/><stop offset="0.4056" stop-color="#2cbe60"/><stop offset="0.4103" stop-color="#60be55"/><stop offset="0.4143" stop-color="#69be52"/><stop offset="0.4206" stop-color="#73be4e"/><stop offset="0.4364" stop-color="#73be4e"/><stop offset="0.4372" stop-color="#ffffff"/><stop offset="0.9996" stop-color="#ffffff"/></linearGradient>
<linearGradient id="g75" gradientUnits="userSpaceOnUse" x1="266" x2="1532" y1="0" y2="0"><stop offset="0.0004" stop-color="#4027b6"/><stop offset="0.0296" stop-color="#3c2dc3"/><stop offset="0.0423" stop-color="#3735c8"/><stop offset="0.0509" stop-color="#323ecd"/><stop offset="0.0699" stop-color="#195edc"/><stop offset="0.0825" stop-color="#0f6ce6"/><stop offset="0.0920" stop-color="#0a73eb"/><stop offset="0.1386" stop-color="#0087f0"/><stop offset="0.1971" stop-color="#00a0e1"/><stop offset="0.2168" stop-color="#00acd3"/><stop offset="0.2405" stop-color="#00b2c8"/><stop offset="0.2800" stop-color="#00b7af"/><stop offset="0.3045" stop-color="#00b997"/><stop offset="0.3582" stop-color="#00bd6f"/><stop offset="0.3835" stop-color="#00be69"/><stop offset="0.4024" stop-color="#16be64"/><stop offset="0.4056" stop-color="#2bbe60"/><stop offset="0.4103" stop-color="#5fbe55"/><stop offset="0.4143" stop-color="#69be52"/><stop offset="0.4206" stop-color="#73be4e"/><stop offset="0.4356" stop-color="#73be4e"/><stop offset="0.4364" stop-color="#ffffff"/><stop offset="0.9996" stop-color="#ffffff"/></linearGradient>
<linearGradient id="g76" gradientUnits="userSpaceOnUse" x1="266" x2="1532" y1="0" y2="0"><stop offset="0.0004" stop-color="#4027b6"/><stop offset="0.0296" stop-color="#3c2dc3"/><stop offset="0.0423" stop-color="#3735c8"/><stop offset="0.0509" stop-color="#323ecd"/><stop offset="0.0699" stop-color="#195edc"/><stop offset="0.0825" stop-color="#0f6ce6"/><stop offset="0.0920" stop-color="#0a73eb"/><stop offset="0.1386" stop-color="#0087f0"/><stop offset="0.1971" stop-color="#00a0e1"/><stop offset="0.2168" stop-color="#00acd3"/><stop offset="0.2405" stop-color="#00b2c8"/><stop offset="0.2800" stop-color="#00b7af"/><stop offset="0.3045" stop-color="#00b997"/><stop offset="0.3582" stop-color="#00bd6f"/><stop offset="0.3835" stop-color="#00be69"/><stop offset="0.4024" stop-color="#16be64"/><stop offset="0.4056" stop-color="#2bbe60"/><stop offset="0.4103" stop-color="#5fbe55"/><stop offset="0.4143" stop-color="#69be52"/><stop offset="0.4206" stop-color="#73be4e"/><stop offset="0.4348" stop-color="#73be4e"/><stop offset="0.4356" stop-color="#ffffff"/><stop offset="0.9996" stop-color="#ffffff"/></linearGradient>
<linearGradient id="g77" gradientUnits="userSpaceOnUse" x1="266" x2="1532" y1="0" y2="0"><stop offset="0.0004" stop-color="#4027b6"/><stop offset="0.0296" stop-color="#3c2dc3"/><stop offset="0.0423" stop-color="#3735c8"/><stop offset="0.0509" stop-color="#323ecd"/><stop offset="0.0699" stop-color="#195edc"/><stop offset="0.0825" stop-color="#0f6ce6"/><stop offset="0.0920" stop-color="#0a73eb"/><stop offset="0.1386" stop-color="#0087f0"/><stop offset="0.1971" stop-color="#00a0e1"/><stop offset="0.2168" stop-color="#00acd3"/><stop offset="0.2405" stop-color="#00b2c8"/><stop offset="0.2800" stop-color="#00b7af"/><stop offset="0.3045" stop-color="#00b997"/><stop offset="0.3582" stop-color="#00bd6f"/><stop offset="0.3835" stop-color="#00be69"/><stop offset="0.4024" stop-color="#16be64"/><stop offset="0.4056" stop-color="#2bbe60"/><stop offset="0.4103" stop-color="#5fbe55"/><stop offset="0.4135" stop-color="#67be52"/><stop offset="0.4206" stop-color="#73be4e"/><stop offset="0.4333" stop-color="#73be4e"/><stop offset="0.4340" stop-color="#ffffff"/><stop offset="0.9996" stop-color="#ffffff"/></linearGradient>
<linearGradient id="g78" gradientUnits="userSpaceOnUse" x1="266" x2="1532" y1="0" y2="0"><stop offset="0.0004" stop-color="#4027b6"/><stop offset="0.0296" stop-color="#3c2dc3"/><stop offset="0.0423" stop-color="#3735c8"/><stop offset="0.0509" stop-color="#323ecd"/><stop offset="0.0699" stop-color="#195edc"/><stop offset="0.0825" stop-color="#0f6ce6"/><stop offset="0.0920" stop-color="#0a73eb"/><stop offset="0.1386" stop-color="#0087f0"/><stop offset="0.1971" stop-color="#00a0e1"/><stop offset="0.2168" stop-color="#00acd3"/><stop offset="0.2405" stop-color="#00b2c8"/><stop offset="0.2800" stop-color="#00b7af"/><stop offset="0.3045" stop-color="#00b997"/><stop offset="0.3582" stop-color="#00bd6f"/><stop offset="0.3835" stop-color="#00be69"/><stop offset="0.4024" stop-color="#16be64"/><stop offset="0.4056" stop-color="#2bbe60"/><stop offset="0.4103" stop-color="#5fbe55"/><stop offset="0.4127" stop-color="#65be53"/><stop offset="0.4198" stop-color="#72be4e"/><stop offset="0.4317" stop-color="#73be4e"/><stop offset="0.4325" stop-color="#ffffff"/><stop offset="0.9996" stop-color="#ffffff"/></linearGradient>
<linearGradient id="g79" gradientUnits="userSpaceOnUse" x1="266" x2="1532" y1="0" y2="0"><stop offset="0.0004" stop-color="#4027b6"/><stop offset="0.0296" stop-color="#3c2dc3"/><stop offset="0.0423" stop-color="#3735c8"/><stop offset="0.0509" stop-color="#323ecd"/><stop offset="0.0699" stop-color="#195edc"/><stop offset="0.0825" stop-color="#0f6ce6"/><stop offset="0.0920" stop-color="#0a73eb"/><stop offset="0.1386" stop-color="#0087f0"/><stop offset="0.1971" stop-color="#00a0e1"/><stop offset="0.2168" stop-color="#00acd3"/><stop offset="0.2405" stop-color="#00b2c8"/><stop offset="0.2800" stop-color="#00b7af"/><stop offset="0.3045" stop-color="#00b997"/><stop offset="0.3582" stop-color="#00bd6f"/><stop offset="0.3835" stop-color="#00be69"/><stop offset="0.4024" stop-color="#16be64"/><stop offset="0.4056" stop-color="#2bbe60"/><stop offset="0.4103" stop-color="#5fbe55"/><stop offset="0.4198" stop-color="#72be4e"/><stop offset="0.4293" stop-color="#73be4e"/><stop offset="0.4301" stop-color="#ffffff"/><stop offset="0.9996" stop-color="#ffffff"/></linearGradient>
<linearGradient id="g80" gradientUnits="userSpaceOnUse" x1="266" x2="1532" y1="0" y2="0"><stop offset="0.0004" stop-color="#4027b6"/><stop offset="0.0296" stop-color="#3c2dc3"/><stop offset="0.0423" stop-color="#3735c8"/><stop offset="0.0509" stop-color="#323ecd"/><stop offset="0.0699" stop-color="#195edc"/><stop offset="0.0825" stop-color="#0f6ce6"/><stop offset="0.0920" stop-color="#0a73eb"/><stop offset="0.1386" stop-color="#0087f0"/><stop offset="0.1971" stop-color="#00a0e1"/><stop offset="0.2168" stop-color="#00acd3"/><stop offset="0.2405" stop-color="#00b2c8"/><stop offset="0.2800" stop-color="#00b7af"/><stop offset="0.3045" stop-color="#00b997"/><stop offset="0.3582" stop-color="#00bd6f"/><stop offset="0.3835" stop-color="#00be69"/><stop offset="0.4017" stop-color="#14be65"/><stop offset="0.4032" stop-color="#1abe64"/><stop offset="0.4056" stop-color="#2bbe60"/><stop offset="0.4103" stop-color="#5fbe55"/><stop offset="0.4190" stop-color="#71be4e"/><stop offset="0.4254" stop-color="#73be4e"/><stop offset="0.4261" stop-color="#ffffff"/><stop offset="0.9996" stop-color="#ffffff"/></linearGradient>
<linearGradient id="g81" gradientUnits="userSpaceOnUse" x1="266" x2="1532" y1="0" y2="0"><stop offset="0.0004" stop-color="#4027b6"/><stop offset="0.0296" stop-color="#3c2dc3"/><stop offset="0.0423" stop-color="#3735c8"/><stop offset="0.0509" stop-color="#323ecd"/><stop offset="0.0699" stop-color="#195edc"/><stop offset="0.0825" stop-color="#0f6ce6"/><stop offset="0.0920" stop-color="#0a73eb"/><stop offset="0.1386" stop-color="#0087f0"/><stop offset="0.1971" stop-color="#00a0e1"/><stop offset="0.2168" stop-color="#00acd3"/><stop offset="0.2405" stop-color="#00b2c8"/><stop offset="0.2800" stop-color="#00b7af"/><stop offset="0.3045" stop-color="#00b997"/><stop offset="0.3582" stop-color="#00bd6f"/><stop offset="0.3835" stop-color="#00be69"/><stop offset="0.4024" stop-color="#16be64"/><stop offset="0.4056" stop-color="#2bbe60"/><stop offset="0.4103" stop-color="#5fbe55"/><stop offset="0.4214" stop-color="#73be4e"/><stop offset="0.4222" stop-color="#ffffff"/><stop offset="0.9996" stop-color="#ffffff"/></linearGradient>
<linearGradient id="g82" gradientUnits="userSpaceOnUse" x1="266" x2="1532" y1="0" y2="0"><stop offset="0.0004" stop-color="#4027b6"/><stop offset="0.0296" stop-color="#3c2dc3"/><stop offset="0.0423" stop-color="#3735c8"/><stop offset="0.0509" stop-color="#323ecd"/><stop offset="0.0699" stop-color="#195edc"/><stop offset="0.0825" stop-color="#0f6ce6"/><stop offset="0.0920" stop-color="#0a73eb"/><stop offset="0.1386" stop-color="#0087f0"/><stop offset="0.1971" stop-color="#00a0e1"/><stop offset="0.2168" stop-color="#00acd3"/><stop offset="0.2405" stop-color="#00b2c8"/><stop offset="0.2800" stop-color="#00b7af"/><stop offset="0.3045" stop-color="#00b997"/><stop offset="0.3582" stop-color="#00bd6f"/><stop offset="0.3835" stop-color="#00be69"/><stop offset="0.4024" stop-color="#16be64"/><stop offset="0.4056" stop-color="#2bbe60"/><stop offset="0.4103" stop-color="#5fbe55"/><stop offset="0.4175" stop-color="#6fbe50"/><stop offset="0.4182" stop-color="#ffffff"/><stop offset="0.9996" stop-color="#ffffff"/></linearGradient>
<linearGradient id="g83" gradientUnits="userSpaceOnUse" x1="266" x2="1532" y1="0" y2="0"><stop offset="0.0004" stop-color="#4027b6"/><stop offset="0.0296" stop-color="#3c2dc3"/><stop offset="0.0423" stop-color="#3735c8"/><stop offset="0.0509" stop-color="#323ecd"/><stop offset="0.0699" stop-color="#195edc"/><stop offset="0.0825" stop-color="#0f6ce6"/><stop offset="0.0920" stop-color="#0a73eb"/><stop offset="0.1386" stop-color="#0087f0"/><stop offset="0.1971" stop-color="#00a0e1"/><stop offset="0.2168" stop-color="#00acd3"/><stop offset="0.2405" stop-color="#00b2c8"/><stop offset="0.2800" stop-color="#00b7af"/><stop offset="0.3045" stop-color="#00b997"/><stop offset="0.3582" stop-color="#00bd6f"/><stop offset="0.3835" stop-color="#00be69"/><stop offset="0.4024" stop-color="#16be64"/><stop offset="0.4056" stop-color="#2bbe60"/><stop offset="0.4103" stop-color="#5fbe55"/><stop offset="0.4111" stop-color="#61be54"/><stop offset="0.4119" stop-color="#ffffff"/><stop offset="0.9996" stop-color="#ffffff"/></linearGradient>
<linearGradient id="g84" gradientUnits="userSpaceOnUse" x1="266" x2="1532" y1="0" y2="0"><stop offset="0.0004" stop-color="#4027b6"/><stop offset="0.0296" stop-color="#3c2dc3"/><stop offset="0.0423" stop-color="#3735c8"/><stop offset="0.0509" stop-color="#323ecd"/><stop offset="0.0699" stop-color="#195edc"/><stop offset="0.0825" stop-color="#0f6ce6"/><stop offset="0.0920" stop-color="#0a73eb"/><stop offset="0.1386" stop-color="#0087f0"/><stop offset="0.1971" stop-color="#00a0e1"/><stop offset="0.2168" stop-color="#00acd3"/><stop offset="0.2405" stop-color="#00b2c8"/><stop offset="0.2800" stop-color="#00b7af"/><stop offset="0.3045" stop-color="#00b997"/><stop offset="0.3582" stop-color="#00bd6f"/><stop offset="0.3835" stop-color="#00be69"/><stop offset="0.4017" stop-color="#14be65"/><stop offset="0.4032" stop-color="#1abe64"/><stop offset="0.4056" stop-color="#2bbe60"/><stop offset="0.4064" stop-color="#ffffff"/><stop offset="0.9996" stop-color="#ffffff"/></linearGradient>
<linearGradient id="g85" gradientUnits="userSpaceOnUse" x1="266" x2="1532" y1="0" y2="0"><stop offset="0.0004" stop-color="#4027b6"/><stop offset="0.0296" stop-color="#3c2dc3"/><stop offset="0.0423" stop-color="#3735c8"/><stop offset="0.0509" stop-color="#323ecd"/><stop offset="0.0699" stop-color="#195edc"/><stop offset="0.0825" stop-color="#0f6ce6"/><stop offset="0.0920" stop-color="#0a73eb"/><stop offset="0.1386" stop-color="#0087f0"/><stop offset="0.1971" stop-color="#00a0e1"/><stop offset="0.2168" stop-color="#00acd3"/><stop offset="0.2405" stop-color="#00b2c8"/><stop offset="0.2800" stop-color="#00b7af"/><stop offset="0.3045" stop-color="#00b997"/><stop offset="0.3582" stop-color="#00bd6f"/><stop offset="0.3835" stop-color="#00be69"/><stop offset="0.3977" stop-color="#10be66"/><stop offset="0.3985" stop-color="#ffffff"/><stop offset="0.9996" stop-color="#ffffff"/></linearGradient>
<linearGradient id="g86" gradientUnits="userSpaceOnUse" x1="266" x2="1532" y1="0" y2="0"><stop offset="0.0004" stop-color="#4027b6"/><stop offset="0.0296" stop-color="#3c2dc3"/><stop offset="0.0423" stop-color="#3735c8"/><stop offset="0.0509" stop-color="#323ecd"/><stop offset="0.0699" stop-color="#195edc"/><stop offset="0.0825" stop-color="#0f6ce6"/><stop offset="0.0920" stop-color="#0a73eb"/><stop offset="0.1386" stop-color="#0087f0"/><stop offset="0.1971" stop-color="#00a0e1"/><stop offset="0.2168" stop-color="#00acd3"/><stop offset="0.2405" stop-color="#00b2c8"/><stop offset="0.2800" stop-color="#00b7af"/><stop offset="0.3045" stop-color="#00b997"/><stop offset="0.3582" stop-color="#00bd6f"/><stop offset="0.3835" stop-color="#00be69"/><stop offset="0.3898" stop-color="#07be68"/><stop offset="0.3906" stop-color="#ffffff"/><stop offset="0.9996" stop-color="#ffffff"/></linearGradient>
<linearGradient id="g87" gradientUnits="userSpaceOnUse" x1="266" x2="1532" y1="0" y2="0"><stop offset="0.0004" stop-color="#4027b6"/><stop offset="0.0296" stop-color="#3c2dc3"/><stop offset="0.0423" stop-color="#3735c8"/><stop offset="0.0509" stop-color="#323ecd"/><stop offset="0.0699" stop-color="#195edc"/><stop offset="0.0825" stop-color="#0f6ce6"/><stop offset="0.0920" stop-color="#0a73eb"/><stop offset="0.1386" stop-color="#0087f0"/><stop offset="0.1971" stop-color="#00a0e1"/><stop offset="0.2168" stop-color="#00acd3"/><stop offset="0.2405" stop-color="#00b2c8"/><stop offset="0.2800" stop-color="#00b7af"/><stop offset="0.3045" stop-color="#00b997"/><stop offset="0.3582" stop-color="#00bd6f"/><stop offset="0.3795" stop-color="#00be6a"/><stop offset="0.3803" stop-color="#ffffff"/><stop offset="0.9996" stop-color="#ffffff"/></linearGradient>
<linearGradient id="g88" gradientUnits="userSpaceOnUse" x1="266" x2="1532" y1="0" y2="0"><stop offset="0.0004" stop-color="#4027b6"/><stop offset="0.0296" stop-color="#3c2dc3"/><stop offset="0.0423" stop-color="#3735c8"/><stop offset="0.0509" stop-color="#323ecd"/><stop offset="0.0699" stop-color="#195edc"/><stop offset="0.0825" stop-color="#0f6ce6"/><stop offset="0.0920" stop-color="#0a73eb"/><stop offset="0.1386" stop-color="#0087f0"/><stop offset="0.1971" stop-color="#00a0e1"/><stop offset="0.2168" stop-color="#00acd3"/><stop offset="0.2516" stop-color="#00b4c3"/><stop offset="0.3582" stop-color="#00bd6f"/><stop offset="0.3677" stop-color="#00bd6d"/><stop offset="0.3685" stop-color="#ffffff"/><stop offset="0.9996" stop-color="#ffffff"/></linearGradient>
<linearGradient id="g89" gradientUnits="userSpaceOnUse" x1="266" x2="1532" y1="0" y2="0"><stop offset="0.0004" stop-color="#4027b6"/><stop offset="0.0296" stop-color="#3c2dc3"/><stop offset="0.0423" stop-color="#3735c8"/><stop offset="0.0509" stop-color="#323ecd"/><stop offset="0.0699" stop-color="#195edc"/><stop offset="0.0825" stop-color="#0f6ce6"/><stop offset="0.0920" stop-color="#0a73eb"/><stop offset="0.1386" stop-color="#0087f0"/><stop offset="0.1971" stop-color="#00a0e1"/><stop offset="0.2168" stop-color="#00acd3"/><stop offset="0.2516" stop-color="#00b4c3"/><stop offset="0.3558" stop-color="#00bc71"/><stop offset="0.3566" stop-color="#ffffff"/><stop offset="0.9996" stop-color="#ffffff"/></linearGradient>
<linearGradient id="g90" gradientUnits="userSpaceOnUse" x1="266" x2="1532" y1="0" y2="0"><stop offset="0.0004" stop-color="#4027b6"/><stop offset="0.0296" stop-color="#3c2dc3"/><stop offset="0.0423" stop-color="#3735c8"/><stop offset="0.0509" stop-color="#323ecd"/><stop offset="0.0699" stop-color="#195edc"/><stop offset="0.0825" stop-color="#0f6ce6"/><stop offset="0.0920" stop-color="#0a73eb"/><stop offset="0.1386" stop-color="#0087f0"/><stop offset="0.1971" stop-color="#00a0e1"/><stop offset="0.2168" stop-color="#00acd3"/><stop offset="0.2516" stop-color="#00b4c3"/><stop offset="0.3448" stop-color="#00bb7a"/><stop offset="0.3456" stop-color="#ffffff"/><stop offset="0.9996" stop-color="#ffffff"/></linearGradient>
<linearGradient id="g91" gradientUnits="userSpaceOnUse" x1="266" x2="1532" y1="0" y2="0"><stop offset="0.0004" stop-color="#4027b6"/><stop offset="0.0296" stop-color="#3c2dc3"/><stop offset="0.0423" stop-color="#3735c8"/><stop offset="0.0509" stop-color="#323ecd"/><stop offset="0.0699" stop-color="#195edc"/><stop offset="0.0825" stop-color="#0f6ce6"/><stop offset="0.0920" stop-color="#0a73eb"/><stop offset="0.1386" stop-color="#0087f0"/><stop offset="0.1971" stop-color="#00a0e1"/><stop offset="0.2168" stop-color="#00acd3"/><stop offset="0.2516" stop-color="#00b4c3"/><stop offset="0.3345" stop-color="#00b982"/><stop offset="0.3353" stop-color="#ffffff"/><stop offset="0.9996" stop-color="#ffffff"/></linearGradient>
<linearGradient id="g92" gradientUnits="userSpaceOnUse" x1="266" x2="1532" y1="0" y2="0"><stop offset="0.0004" stop-color="#4027b6"/><stop offset="0.0296" stop-color="#3c2dc3"/><stop offset="0.0423" stop-color="#3735c8"/><stop offset="0.0509" stop-color="#323ecd"/><stop offset="0.0699" stop-color="#195edc"/><stop offset="0.0825" stop-color="#0f6ce6"/><stop offset="0.0920" stop-color="#0a73eb"/><stop offset="0.1386" stop-color="#0087f0"/><stop offset="0.1979" stop-color="#00a0e1"/><stop offset="0.2168" stop-color="#00acd3"/><stop offset="0.2508" stop-color="#00b4c3"/><stop offset="0.3219" stop-color="#00b98b"/><stop offset="0.3227" stop-color="#ffffff"/><stop offset="0.9996" stop-color="#ffffff"/></linearGradient>
<linearGradient id="g93" gradientUnits="userSpaceOnUse" x1="266" x2="1532" y1="0" y2="0"><stop offset="0.0004" stop-color="#4027b6"/><stop offset="0.0328" stop-color="#3f29ba"/><stop offset="0.0462" stop-color="#3c2dc3"/><stop offset="0.0604" stop-color="#3638c9"/><stop offset="0.0652" stop-color="#323ecd"/><stop offset="0.0794" stop-color="#195fdc"/><stop offset="0.0928" stop-color="#0a73eb"/><stop offset="0.1133" stop-color="#0087f0"/><stop offset="0.1607" stop-color="#00a0e1"/><stop offset="0.2145" stop-color="#00b4c3"/><stop offset="0.2374" stop-color="#00b9a5"/><stop offset="0.2642" stop-color="#00b989"/><stop offset="0.2769" stop-color="#00be6a"/><stop offset="0.2776" stop-color="#05be68"/><stop offset="0.2840" stop-color="#5abe56"/><stop offset="0.2848" stop-color="#60be55"/><stop offset="0.2958" stop-color="#83be46"/><stop offset="0.3069" stop-color="#b3be1e"/><stop offset="0.3108" stop-color="#bfbe18"/><stop offset="0.3242" stop-color="#d7be0a"/><stop offset="0.3432" stop-color="#fab427"/><stop offset="0.3906" stop-color="#ffc216"/><stop offset="0.4767" stop-color="#fcba20"/><stop offset="0.6244" stop-color="#fcba20"/><stop offset="0.6781" stop-color="#fab428"/><stop offset="0.8006" stop-color="#d7be0a"/><stop offset="0.9317" stop-color="#b4be1e"/><stop offset="0.9720" stop-color="#a4be2a"/><stop offset="0.9878" stop-color="#82be46"/><stop offset="0.9996" stop-color="#6dbe50"/></linearGradient>
<linearGradient id="g94" gradientUnits="userSpaceOnUse" x1="266" x2="1532" y1="0" y2="0"><stop offset="0.0004" stop-color="#4027b6"/><stop offset="0.0328" stop-color="#3f29ba"/><stop offset="0.0470" stop-color="#3c2dc3"/><stop offset="0.0604" stop-color="#3637c9"/><stop offset="0.0660" stop-color="#313fcd"/><stop offset="0.0802" stop-color="#1860dd"/><stop offset="0.0928" stop-color="#0a73eb"/><stop offset="0.1133" stop-color="#0087f0"/><stop offset="0.1600" stop-color="#00a0e1"/><stop offset="0.2145" stop-color="#00b4c3"/><stop offset="0.2374" stop-color="#00b9a5"/><stop offset="0.2642" stop-color="#00b989"/><stop offset="0.2769" stop-color="#00be6b"/><stop offset="0.2776" stop-color="#02be69"/><stop offset="0.2848" stop-color="#5fbe55"/><stop offset="0.2958" stop-color="#81be47"/><stop offset="0.3085" stop-color="#b6be1d"/><stop offset="0.3266" stop-color="#d7be0a"/><stop offset="0.3440" stop-color="#f6b525"/><stop offset="0.3487" stop-color="#fab428"/><stop offset="0.3906" stop-color="#fec018"/><stop offset="0.4467" stop-color="#fdbc1d"/><stop offset="0.4475" stop-color="#ffffff"/><stop offset="0.9996" stop-color="#ffffff"/></linearGradient>
<linearGradient id="g95" gradientUnits="userSpaceOnUse" x1="266" x2="1532" y1="0" y2="0"><stop offset="0.0004" stop-color="#4027b6"/><stop offset="0.0328" stop-color="#3f29ba"/><stop offset="0.0470" stop-color="#3c2dc3"/><stop offset="0.0604" stop-color="#3637c9"/><stop offset="0.0660" stop-color="#323ecd"/><stop offset="0.0794" stop-color="#1a5edc"/><stop offset="0.0928" stop-color="#0a73eb"/><stop offset="0.1133" stop-color="#0087f0"/><stop offset="0.1600" stop-color="#00a0e1"/><stop offset="0.2152" stop-color="#00b4c3"/><stop offset="0.2374" stop-color="#00b9a5"/><stop offset="0.2642" stop-color="#00b98a"/><stop offset="0.2776" stop-color="#00be6a"/><stop offset="0.2784" stop-color="#04be68"/><stop offset="0.2855" stop-color="#5fbe55"/><stop offset="0.2974" stop-color="#82be46"/><stop offset="0.3100" stop-color="#b7be1c"/><stop offset="0.3290" stop-color="#d7be0a"/><stop offset="0.3448" stop-color="#f2b621"/><stop offset="0.3551" stop-color="#fab428"/><stop offset="0.3906" stop-color="#febf1a"/><stop offset="0.4514" stop-color="#fcbb1e"/><stop offset="0.4522" stop-color="#ffffff"/><stop offset="0.9996" stop-color="#ffffff"/></linearGradient>
<linearGradient id="g96" gradientUnits="userSpaceOnUse" x1="266" x2="1532" y1="0" y2="0"><stop offset="0.0004" stop-color="#4027b6"/><stop offset="0.0328" stop-color="#3f29ba"/><stop offset="0.0478" stop-color="#3c2dc3"/><stop offset="0.0604" stop-color="#3637c9"/><stop offset="0.0660" stop-color="#323ecd"/><stop offset="0.0802" stop-color="#195fdc"/><stop offset="0.0928" stop-color="#0a73eb"/><stop offset="0.1126" stop-color="#0087f0"/><stop offset="0.1600" stop-color="#00a0e1"/><stop offset="0.2160" stop-color="#00b4c3"/><stop offset="0.2389" stop-color="#00b9a5"/><stop offset="0.2642" stop-color="#00b98c"/><stop offset="0.2792" stop-color="#00be69"/><stop offset="0.2871" stop-color="#60be55"/><stop offset="0.2982" stop-color="#81be47"/><stop offset="0.3108" stop-color="#b5be1e"/><stop offset="0.3314" stop-color="#d6be0a"/><stop offset="0.3448" stop-color="#edb81d"/><stop offset="0.3614" stop-color="#fab428"/><stop offset="0.3906" stop-color="#fdbd1c"/><stop offset="0.4562" stop-color="#fcbb1f"/><stop offset="0.4570" stop-color="#ffffff"/><stop offset="0.9996" stop-color="#ffffff"/></linearGradient>
<linearGradient id="g97" gradientUnits="userSpaceOnUse" x1="266" x2="1532" y1="0" y2="0"><stop offset="0.0004" stop-color="#4027b6"/><stop offset="0.0328" stop-color="#4029ba"/><stop offset="0.0478" stop-color="#3c2dc3"/><stop offset="0.0604" stop-color="#3736c8"/><stop offset="0.0667" stop-color="#313fcd"/><stop offset="0.0802" stop-color="#195fdc"/><stop offset="0.0928" stop-color="#0a73eb"/><stop offset="0.1126" stop-color="#0087f0"/><stop offset="0.1592" stop-color="#00a0e1"/><stop offset="0.1844" stop-color="#00acd4"/><stop offset="0.2168" stop-color="#00b4c3"/><stop offset="0.2405" stop-color="#00b9a5"/><stop offset="0.2642" stop-color="#00b98f"/><stop offset="0.2800" stop-color="#00be6b"/><stop offset="0.2808" stop-color="#01be69"/><stop offset="0.2879" stop-color="#5cbe56"/><stop offset="0.2887" stop-color="#61be54"/><stop offset="0.2998" stop-color="#81be46"/><stop offset="0.3108" stop-color="#afbe22"/><stop offset="0.3345" stop-color="#d7be0a"/><stop offset="0.3448" stop-color="#e9b919"/><stop offset="0.3661" stop-color="#fab428"/><stop offset="0.3906" stop-color="#fdbc1d"/><stop offset="0.4609" stop-color="#fcba1f"/><stop offset="0.4617" stop-color="#ffffff"/><stop offset="0.9996" stop-color="#ffffff"/></linearGradient>
<linearGradient id="g98" gradientUnits="userSpaceOnUse" x1="266" x2="1532" y1="0" y2="0"><stop offset="0.0004" stop-color="#4027b6"/><stop offset="0.0328" stop-color="#4029ba"/><stop offset="0.0604" stop-color="#3736c8"/><stop offset="0.0667" stop-color="#323ecd"/><stop offset="0.0810" stop-color="#1960dc"/><stop offset="0.0936" stop-color="#0a73eb"/><stop offset="0.1133" stop-color="#0087f0"/><stop offset="0.1623" stop-color="#00a0e1"/><stop offset="0.2168" stop-color="#00b4c3"/><stop offset="0.2421" stop-color="#00b9a5"/><stop offset="0.2642" stop-color="#00b991"/><stop offset="0.2721" stop-color="#00b982"/><stop offset="0.2816" stop-color="#00be6a"/><stop offset="0.2824" stop-color="#05be68"/><stop offset="0.2895" stop-color="#5fbe55"/><stop offset="0.3013" stop-color="#82be46"/><stop offset="0.3108" stop-color="#a9be26"/><stop offset="0.3156" stop-color="#b5be1e"/><stop offset="0.3369" stop-color="#d7be0a"/><stop offset="0.3448" stop-color="#e4ba15"/><stop offset="0.3716" stop-color="#fab428"/><stop offset="0.3906" stop-color="#fcbb1f"/><stop offset="0.4720" stop-color="#fcba20"/><stop offset="0.4727" stop-color="#ffffff"/><stop offset="0.9996" stop-color="#ffffff"/></linearGradient>
<linearGradient id="g99" gradientUnits="userSpaceOnUse" x1="266" x2="1532" y1="0" y2="0"><stop offset="0.0004" stop-color="#4027b6"/><stop offset="0.0328" stop-color="#4029ba"/><stop offset="0.0604" stop-color="#3735c8"/><stop offset="0.0667" stop-color="#323ecd"/><stop offset="0.0818" stop-color="#1860dd"/><stop offset="0.0944" stop-color="#0a73eb"/><stop offset="0.1149" stop-color="#0087f0"/><stop offset="0.1884" stop-color="#00aad7"/><stop offset="0.2176" stop-color="#00b4c3"/><stop offset="0.2437" stop-color="#00b9a5"/><stop offset="0.2642" stop-color="#00b993"/><stop offset="0.2737" stop-color="#00b982"/><stop offset="0.2832" stop-color="#00be69"/><stop offset="0.2911" stop-color="#60be55"/><stop offset="0.3021" stop-color="#80be47"/><stop offset="0.3108" stop-color="#a4be2b"/><stop offset="0.3179" stop-color="#b4be1e"/><stop offset="0.3400" stop-color="#d7be0a"/><stop offset="0.3448" stop-color="#dfbc11"/><stop offset="0.3780" stop-color="#fab428"/><stop offset="0.3906" stop-color="#fbb822"/><stop offset="0.4838" stop-color="#fcbb1f"/><stop offset="0.4846" stop-color="#ffffff"/><stop offset="0.9996" stop-color="#ffffff"/></linearGradient>
<linearGradient id="g100" gradientUnits="userSpaceOnUse" x1="266" x2="1532" y1="0" y2="0"><stop offset="0.0004" stop-color="#4027b6"/><stop offset="0.0328" stop-color="#4029ba"/><stop offset="0.0604" stop-color="#3735c8"/><stop offset="0.0675" stop-color="#323fcd"/><stop offset="0.0818" stop-color="#195fdc"/><stop offset="0.0952" stop-color="#0a73eb"/><stop offset="0.1157" stop-color="#0087f0"/><stop offset="0.1923" stop-color="#00aad7"/><stop offset="0.2184" stop-color="#00b4c3"/><stop offset="0.2642" stop-color="#00b996"/><stop offset="0.2745" stop-color="#00b983"/><stop offset="0.2840" stop-color="#00be6b"/><stop offset="0.2848" stop-color="#02be69"/><stop offset="0.2919" stop-color="#5cbe56"/><stop offset="0.3037" stop-color="#81be47"/><stop offset="0.3108" stop-color="#9ebe30"/><stop offset="0.3211" stop-color="#b4be1e"/><stop offset="0.3456" stop-color="#d7be0a"/><stop offset="0.3859" stop-color="#f9b428"/><stop offset="0.3906" stop-color="#fab526"/><stop offset="0.4767" stop-color="#fcbb1e"/><stop offset="0.6244" stop-color="#fcba20"/><stop offset="0.6781" stop-color="#fab428"/><stop offset="0.8006" stop-color="#d7be0a"/><stop offset="0.9317" stop-color="#b4be1e"/><stop offset="0.9720" stop-color="#a4be2a"/><stop offset="0.9878" stop-color="#82be46"/><stop offset="0.9996" stop-color="#6dbe50"/></linearGradient>
<linearGradient id="g101" gradientUnits="userSpaceOnUse" x1="266" x2="1532" y1="0" y2="0"><stop offset="0.0004" stop-color="#4027b6"/><stop offset="0.0328" stop-color="#4029ba"/><stop offset="0.0604" stop-color="#3835c7"/><stop offset="0.0675" stop-color="#323ecd"/><stop offset="0.0825" stop-color="#1860dd"/><stop offset="0.0960" stop-color="#0a73eb"/><stop offset="0.1173" stop-color="#0087f0"/><stop offset="0.1955" stop-color="#00aad7"/><stop offset="0.2200" stop-color="#00b4c3"/><stop offset="0.2642" stop-color="#00b998"/><stop offset="0.2761" stop-color="#00b982"/><stop offset="0.2855" stop-color="#00be6a"/><stop offset="0.2863" stop-color="#05be68"/><stop offset="0.2934" stop-color="#5fbe55"/><stop offset="0.3053" stop-color="#82be46"/><stop offset="0.3108" stop-color="#98be35"/><stop offset="0.3258" stop-color="#b5be1e"/><stop offset="0.3566" stop-color="#d7be0a"/><stop offset="0.3906" stop-color="#f7b525"/><stop offset="0.4040" stop-color="#fab428"/><stop offset="0.4767" stop-color="#fdbc1d"/><stop offset="0.6244" stop-color="#fcba20"/><stop offset="0.6758" stop-color="#fab428"/><stop offset="0.7998" stop-color="#d7be0a"/><stop offset="0.9317" stop-color="#b4be1e"/><stop offset="0.9720" stop-color="#a4be2a"/><stop offset="0.9878" stop-color="#82be46"/><stop offset="0.9996" stop-color="#6dbe50"/></linearGradient>
<linearGradient id="g102" gradientUnits="userSpaceOnUse" x1="266" x2="1532" y1="0" y2="0"><stop offset="0.0004" stop-color="#4027b6"/><stop offset="0.0328" stop-color="#4029ba"/><stop offset="0.0604" stop-color="#3834c7"/><stop offset="0.0683" stop-color="#313fcd"/><stop offset="0.0825" stop-color="#195fdc"/><stop offset="0.0968" stop-color="#0a73eb"/><stop offset="0.1181" stop-color="#0087f0"/><stop offset="0.1244" stop-color="#008bed"/><stop offset="0.1758" stop-color="#00a0e1"/><stop offset="0.1979" stop-color="#00aad7"/><stop offset="0.2208" stop-color="#00b4c3"/><stop offset="0.2642" stop-color="#00b99a"/><stop offset="0.2776" stop-color="#00b982"/><stop offset="0.2871" stop-color="#00be6b"/><stop offset="0.2879" stop-color="#01be69"/><stop offset="0.2958" stop-color="#60be55"/><stop offset="0.3021" stop-color="#6fbe4f"/><stop offset="0.3108" stop-color="#8dbe3d"/><stop offset="0.3321" stop-color="#b4be1e"/><stop offset="0.3661" stop-color="#d7be0a"/><stop offset="0.3906" stop-color="#eeb71e"/><stop offset="0.4206" stop-color="#fab428"/><stop offset="0.4759" stop-color="#fdbd1c"/><stop offset="0.6244" stop-color="#fcb921"/><stop offset="0.6694" stop-color="#fab428"/><stop offset="0.7942" stop-color="#d7be0a"/><stop offset="0.9269" stop-color="#b4be1e"/><stop offset="0.9720" stop-color="#a3be2c"/><stop offset="0.9870" stop-color="#82be46"/><stop offset="0.9996" stop-color="#6cbe51"/></linearGradient>
<linearGradient id="g103" gradientUnits="userSpaceOnUse" x1="266" x2="1532" y1="0" y2="0"><stop offset="0.0004" stop-color="#4027b6"/><stop offset="0.0328" stop-color="#4028ba"/><stop offset="0.0604" stop-color="#3834c7"/><stop offset="0.0683" stop-color="#323ecd"/><stop offset="0.0833" stop-color="#195fdc"/><stop offset="0.0983" stop-color="#0a74eb"/><stop offset="0.1244" stop-color="#008aee"/><stop offset="0.1797" stop-color="#00a0e1"/><stop offset="0.1994" stop-color="#00aad7"/><stop offset="0.2216" stop-color="#00b4c3"/><stop offset="0.2642" stop-color="#00b99d"/><stop offset="0.2800" stop-color="#00b982"/><stop offset="0.2903" stop-color="#00be69"/><stop offset="0.2982" stop-color="#5cbe56"/><stop offset="0.2990" stop-color="#60be55"/><stop offset="0.3108" stop-color="#80be47"/><stop offset="0.3393" stop-color="#b4be1e"/><stop offset="0.3756" stop-color="#d7be0a"/><stop offset="0.3906" stop-color="#e6ba16"/><stop offset="0.4309" stop-color="#fab428"/><stop offset="0.4759" stop-color="#fdbd1b"/><stop offset="0.6244" stop-color="#fbb822"/><stop offset="0.6623" stop-color="#fab428"/><stop offset="0.7863" stop-color="#d7be0a"/><stop offset="0.9190" stop-color="#b4be1e"/><stop offset="0.9720" stop-color="#9fbe2e"/><stop offset="0.9854" stop-color="#82be46"/><stop offset="0.9996" stop-color="#6abe51"/></linearGradient>
<linearGradient id="g104" gradientUnits="userSpaceOnUse" x1="266" x2="1532" y1="0" y2="0"><stop offset="0.0004" stop-color="#4027b6"/><stop offset="0.0328" stop-color="#4028ba"/><stop offset="0.0604" stop-color="#3833c7"/><stop offset="0.0683" stop-color="#323ecd"/><stop offset="0.0833" stop-color="#195edc"/><stop offset="0.0991" stop-color="#0a74eb"/><stop offset="0.1244" stop-color="#008aee"/><stop offset="0.1844" stop-color="#00a0e1"/><stop offset="0.2018" stop-color="#00aad7"/><stop offset="0.2168" stop-color="#00b2c6"/><stop offset="0.2642" stop-color="#00b99f"/><stop offset="0.2816" stop-color="#00b982"/><stop offset="0.2927" stop-color="#00be6a"/><stop offset="0.2934" stop-color="#05be68"/><stop offset="0.3013" stop-color="#5dbe55"/><stop offset="0.3021" stop-color="#60be55"/><stop offset="0.3108" stop-color="#75be4d"/><stop offset="0.3203" stop-color="#83be45"/><stop offset="0.3472" stop-color="#b3be1f"/><stop offset="0.3851" stop-color="#d7be0a"/><stop offset="0.4364" stop-color="#fab428"/><stop offset="0.4767" stop-color="#fdbe1a"/><stop offset="0.6552" stop-color="#fab428"/><stop offset="0.7792" stop-color="#d7be0a"/><stop offset="0.9111" stop-color="#b4be1e"/><stop offset="0.9720" stop-color="#9cbe31"/><stop offset="0.9838" stop-color="#82be46"/><stop offset="0.9996" stop-color="#68be52"/></linearGradient>
<linearGradient id="g105" gradientUnits="userSpaceOnUse" x1="266" x2="1532" y1="0" y2="0"><stop offset="0.0004" stop-color="#4026b6"/><stop offset="0.0328" stop-color="#4028ba"/><stop offset="0.0604" stop-color="#3833c7"/><stop offset="0.0691" stop-color="#313fcd"/><stop offset="0.0841" stop-color="#195fdc"/><stop offset="0.0999" stop-color="#0a74eb"/><stop offset="0.1244" stop-color="#0089ef"/><stop offset="0.1844" stop-color="#009ee2"/><stop offset="0.2026" stop-color="#00aad7"/><stop offset="0.2168" stop-color="#00b2c7"/><stop offset="0.2642" stop-color="#00b9a0"/><stop offset="0.2840" stop-color="#00b982"/><stop offset="0.2958" stop-color="#00be69"/><stop offset="0.3053" stop-color="#60be55"/><stop offset="0.3274" stop-color="#82be46"/><stop offset="0.3566" stop-color="#b3be1f"/><stop offset="0.3953" stop-color="#d7be0a"/><stop offset="0.4443" stop-color="#fab428"/><stop offset="0.4767" stop-color="#fdbd1c"/><stop offset="0.6489" stop-color="#fab428"/><stop offset="0.7721" stop-color="#d7be0a"/><stop offset="0.9032" stop-color="#b4be1e"/><stop offset="0.9720" stop-color="#99be34"/><stop offset="0.9822" stop-color="#82be46"/><stop offset="0.9996" stop-color="#66be53"/></linearGradient>
<linearGradient id="g106" gradientUnits="userSpaceOnUse" x1="266" x2="1532" y1="0" y2="0"><stop offset="0.0004" stop-color="#4026b6"/><stop offset="0.0328" stop-color="#4028ba"/><stop offset="0.0604" stop-color="#3933c6"/><stop offset="0.0691" stop-color="#323ecd"/><stop offset="0.0849" stop-color="#195fdc"/><stop offset="0.1007" stop-color="#0a73eb"/><stop offset="0.1244" stop-color="#0088f0"/><stop offset="0.1844" stop-color="#009de3"/><stop offset="0.2042" stop-color="#00aad7"/><stop offset="0.2168" stop-color="#00b2c7"/><stop offset="0.2642" stop-color="#00b9a1"/><stop offset="0.2855" stop-color="#00b983"/><stop offset="0.2982" stop-color="#00be6a"/><stop offset="0.2990" stop-color="#03be68"/><stop offset="0.3085" stop-color="#5fbe55"/><stop offset="0.3345" stop-color="#82be46"/><stop offset="0.3661" stop-color="#b4be1e"/><stop offset="0.3906" stop-color="#ccbe11"/><stop offset="0.4080" stop-color="#d7be0a"/><stop offset="0.4570" stop-color="#fab428"/><stop offset="0.4767" stop-color="#fcb921"/><stop offset="0.6418" stop-color="#fab428"/><stop offset="0.7650" stop-color="#d7be0a"/><stop offset="0.8945" stop-color="#b4be1e"/><stop offset="0.9720" stop-color="#96be36"/><stop offset="0.9814" stop-color="#81be46"/><stop offset="0.9996" stop-color="#64be53"/></linearGradient>
<linearGradient id="g107" gradientUnits="userSpaceOnUse" x1="266" x2="1532" y1="0" y2="0"><stop offset="0.0004" stop-color="#4026b6"/><stop offset="0.0328" stop-color="#4028ba"/><stop offset="0.0604" stop-color="#3932c6"/><stop offset="0.0691" stop-color="#323ecd"/><stop offset="0.0857" stop-color="#195fdc"/><stop offset="0.1015" stop-color="#0a73eb"/><stop offset="0.1252" stop-color="#0087f0"/><stop offset="0.1844" stop-color="#009be3"/><stop offset="0.2050" stop-color="#00aad7"/><stop offset="0.2168" stop-color="#00b2c8"/><stop offset="0.2642" stop-color="#00b9a2"/><stop offset="0.2879" stop-color="#00b982"/><stop offset="0.3013" stop-color="#00be69"/><stop offset="0.3100" stop-color="#4dbe59"/><stop offset="0.3132" stop-color="#5fbe55"/><stop offset="0.3408" stop-color="#82be46"/><stop offset="0.3740" stop-color="#b4be1e"/><stop offset="0.3906" stop-color="#c5be14"/><stop offset="0.4182" stop-color="#d7be0a"/><stop offset="0.4696" stop-color="#fab428"/><stop offset="0.4767" stop-color="#fbb626"/><stop offset="0.6252" stop-color="#fab428"/><stop offset="0.7508" stop-color="#d7be0a"/><stop offset="0.8843" stop-color="#b4be1e"/><stop offset="0.9720" stop-color="#92be39"/><stop offset="0.9799" stop-color="#81be47"/><stop offset="0.9996" stop-color="#62be54"/></linearGradient>
<linearGradient id="g108" gradientUnits="userSpaceOnUse" x1="266" x2="1532" y1="0" y2="0"><stop offset="0.0004" stop-color="#4026b6"/><stop offset="0.0328" stop-color="#4028ba"/><stop offset="0.0604" stop-color="#3932c6"/><stop offset="0.0699" stop-color="#323fcd"/><stop offset="0.0865" stop-color="#1960dc"/><stop offset="0.1023" stop-color="#0a73eb"/><stop offset="0.1252" stop-color="#0186f0"/><stop offset="0.1844" stop-color="#009ae4"/><stop offset="0.2066" stop-color="#00aad7"/><stop offset="0.2168" stop-color="#00b1c9"/><stop offset="0.2650" stop-color="#00b9a2"/><stop offset="0.2903" stop-color="#00b982"/><stop offset="0.3045" stop-color="#00be6a"/><stop offset="0.3108" stop-color="#32be5e"/><stop offset="0.3195" stop-color="#5fbe55"/><stop offset="0.3479" stop-color="#82be46"/><stop offset="0.3803" stop-color="#b4be1e"/><stop offset="0.3906" stop-color="#bfbe18"/><stop offset="0.4293" stop-color="#d7be0a"/><stop offset="0.4767" stop-color="#f6b524"/><stop offset="0.6244" stop-color="#f4b623"/><stop offset="0.7326" stop-color="#d7be0a"/><stop offset="0.8716" stop-color="#b4be1e"/><stop offset="0.9720" stop-color="#8dbe3d"/><stop offset="0.9885" stop-color="#6ebe50"/><stop offset="0.9996" stop-color="#60be55"/></linearGradient>
<linearGradient id="g109" gradientUnits="userSpaceOnUse" x1="266" x2="1532" y1="0" y2="0"><stop offset="0.0004" stop-color="#4026b6"/><stop offset="0.0328" stop-color="#4028ba"/><stop offset="0.0604" stop-color="#3931c6"/><stop offset="0.0699" stop-color="#323ecd"/><stop offset="0.0865" stop-color="#195fdc"/><stop offset="0.1039" stop-color="#0a74eb"/><stop offset="0.1252" stop-color="#0185ef"/><stop offset="0.1844" stop-color="#0099e5"/><stop offset="0.2066" stop-color="#00aad7"/><stop offset="0.2168" stop-color="#00b1c9"/><stop offset="0.2650" stop-color="#00b9a3"/><stop offset="0.2927" stop-color="#00b983"/><stop offset="0.3085" stop-color="#00be69"/><stop offset="0.3108" stop-color="#11be65"/><stop offset="0.3258" stop-color="#5fbe55"/><stop offset="0.3551" stop-color="#82be46"/><stop offset="0.3906" stop-color="#b9be1b"/><stop offset="0.4419" stop-color="#d7be0a"/><stop offset="0.4767" stop-color="#edb81d"/><stop offset="0.6244" stop-color="#edb81d"/><stop offset="0.7121" stop-color="#d7be0a"/><stop offset="0.8582" stop-color="#b4be1e"/><stop offset="0.9720" stop-color="#88be41"/><stop offset="0.9870" stop-color="#6ebe50"/><stop offset="0.9988" stop-color="#5fbe55"/><stop offset="0.9996" stop-color="#5bbe56"/></linearGradient>
<linearGradient id="g110" gradientUnits="userSpaceOnUse" x1="266" x2="1532" y1="0" y2="0"><stop offset="0.0004" stop-color="#4026b6"/><stop offset="0.0328" stop-color="#4028ba"/><stop offset="0.0604" stop-color="#3a31c5"/><stop offset="0.0699" stop-color="#323dcd"/><stop offset="0.0873" stop-color="#195fdc"/><stop offset="0.1047" stop-color="#0a73eb"/><stop offset="0.1331" stop-color="#0087f0"/><stop offset="0.1844" stop-color="#0098e5"/><stop offset="0.2073" stop-color="#00aad7"/><stop offset="0.2168" stop-color="#00b1ca"/><stop offset="0.2650" stop-color="#00b9a4"/><stop offset="0.2950" stop-color="#00b983"/><stop offset="0.3124" stop-color="#00be69"/><stop offset="0.3314" stop-color="#5ebe55"/><stop offset="0.3614" stop-color="#81be46"/><stop offset="0.3906" stop-color="#b2be20"/><stop offset="0.4522" stop-color="#d7be0a"/><stop offset="0.4767" stop-color="#e6ba17"/><stop offset="0.6244" stop-color="#e7b918"/><stop offset="0.6908" stop-color="#d7be0a"/><stop offset="0.8432" stop-color="#b4be1e"/><stop offset="0.9720" stop-color="#84be45"/><stop offset="0.9972" stop-color="#5fbe55"/><stop offset="0.9996" stop-color="#52be58"/></linearGradient>
<linearGradient id="g111" gradientUnits="userSpaceOnUse" x1="266" x2="1532" y1="0" y2="0"><stop offset="0.0004" stop-color="#4026b6"/><stop offset="0.0328" stop-color="#4028ba"/><stop offset="0.0604" stop-color="#3a31c5"/><stop offset="0.0707" stop-color="#323ecd"/><stop offset="0.0881" stop-color="#195fdc"/><stop offset="0.1055" stop-color="#0a73eb"/><stop offset="0.1363" stop-color="#0087f0"/><stop offset="0.1844" stop-color="#0098e5"/><stop offset="0.2081" stop-color="#00aad7"/><stop offset="0.2168" stop-color="#00b0ca"/><stop offset="0.2310" stop-color="#00b4c3"/><stop offset="0.2642" stop-color="#00b9a7"/><stop offset="0.2974" stop-color="#00b982"/><stop offset="0.3164" stop-color="#00be69"/><stop offset="0.3385" stop-color="#5fbe55"/><stop offset="0.3535" stop-color="#6ebe50"/><stop offset="0.3677" stop-color="#82be46"/><stop offset="0.3906" stop-color="#a9be27"/><stop offset="0.4024" stop-color="#b4be1e"/><stop offset="0.4593" stop-color="#d7be0a"/><stop offset="0.4767" stop-color="#e2bb13"/><stop offset="0.6244" stop-color="#e1bb12"/><stop offset="0.6663" stop-color="#d7be0a"/><stop offset="0.8266" stop-color="#b4be1e"/><stop offset="0.9720" stop-color="#80be47"/><stop offset="0.9957" stop-color="#5fbe55"/><stop offset="0.9996" stop-color="#4abe59"/></linearGradient>
<linearGradient id="g112" gradientUnits="userSpaceOnUse" x1="266" x2="1532" y1="0" y2="0"><stop offset="0.0004" stop-color="#4026b5"/><stop offset="0.0328" stop-color="#4028ba"/><stop offset="0.0604" stop-color="#3a30c5"/><stop offset="0.0707" stop-color="#323ecd"/><stop offset="0.0889" stop-color="#195fdc"/><stop offset="0.1070" stop-color="#0a73eb"/><stop offset="0.1386" stop-color="#0087f0"/><stop offset="0.1844" stop-color="#0097e6"/><stop offset="0.2081" stop-color="#00aad7"/><stop offset="0.2168" stop-color="#00b0cb"/><stop offset="0.2318" stop-color="#00b4c3"/><stop offset="0.2642" stop-color="#00b9a8"/><stop offset="0.2990" stop-color="#00b982"/><stop offset="0.3108" stop-color="#00bc72"/><stop offset="0.3211" stop-color="#00be6a"/><stop offset="0.3464" stop-color="#60be55"/><stop offset="0.3740" stop-color="#82be46"/><stop offset="0.3906" stop-color="#9fbe2f"/><stop offset="0.4119" stop-color="#b4be1e"/><stop offset="0.4664" stop-color="#d7be0a"/><stop offset="0.4767" stop-color="#ddbc0f"/><stop offset="0.6244" stop-color="#dbbd0e"/><stop offset="0.6442" stop-color="#d7be0a"/><stop offset="0.8085" stop-color="#b4be1e"/><stop offset="0.9720" stop-color="#7cbe49"/><stop offset="0.9941" stop-color="#5fbe55"/><stop offset="0.9996" stop-color="#41be5b"/></linearGradient>
<linearGradient id="g113" gradientUnits="userSpaceOnUse" x1="266" x2="1532" y1="0" y2="0"><stop offset="0.0004" stop-color="#4026b5"/><stop offset="0.0328" stop-color="#4028ba"/><stop offset="0.0604" stop-color="#3a30c5"/><stop offset="0.0707" stop-color="#323dcd"/><stop offset="0.0897" stop-color="#195fdc"/><stop offset="0.1078" stop-color="#0a73eb"/><stop offset="0.1410" stop-color="#0087f0"/><stop offset="0.1844" stop-color="#0096e6"/><stop offset="0.1971" stop-color="#00a0e1"/><stop offset="0.2089" stop-color="#00aad7"/><stop offset="0.2168" stop-color="#00b0cb"/><stop offset="0.2334" stop-color="#00b4c3"/><stop offset="0.2642" stop-color="#00b8a9"/><stop offset="0.3108" stop-color="#00bc75"/><stop offset="0.3274" stop-color="#00be69"/><stop offset="0.3440" stop-color="#38be5d"/><stop offset="0.3519" stop-color="#60be55"/><stop offset="0.3795" stop-color="#82be46"/><stop offset="0.3906" stop-color="#95be37"/><stop offset="0.4214" stop-color="#b4be1e"/><stop offset="0.4767" stop-color="#d9bd0c"/><stop offset="0.6244" stop-color="#d7be0a"/><stop offset="0.7863" stop-color="#b4be1e"/><stop offset="0.9333" stop-color="#82be46"/><stop offset="0.9720" stop-color="#76be4c"/><stop offset="0.9925" stop-color="#5ebe55"/><stop offset="0.9996" stop-color="#38be5d"/></linearGradient>
<linearGradient id="g114" gradientUnits="userSpaceOnUse" x1="266" x2="1532" y1="0" y2="0"><stop offset="0.0004" stop-color="#4026b5"/><stop offset="0.0328" stop-color="#4028ba"/><stop offset="0.0604" stop-color="#3a30c5"/><stop offset="0.0715" stop-color="#323ecd"/><stop offset="0.0904" stop-color="#195fdc"/><stop offset="0.1086" stop-color="#0a73eb"/><stop offset="0.1434" stop-color="#0087f0"/><stop offset="0.1844" stop-color="#0096e6"/><stop offset="0.1979" stop-color="#00a0e1"/><stop offset="0.2097" stop-color="#00aad7"/><stop offset="0.2168" stop-color="#00b0cc"/><stop offset="0.2342" stop-color="#00b4c3"/><stop offset="0.2642" stop-color="#00b8ab"/><stop offset="0.3108" stop-color="#00bb79"/><stop offset="0.3329" stop-color="#00be69"/><stop offset="0.3448" stop-color="#26be61"/><stop offset="0.3558" stop-color="#5fbe55"/><stop offset="0.3851" stop-color="#81be46"/><stop offset="0.4301" stop-color="#b4be1e"/><stop offset="0.4767" stop-color="#d5be0b"/><stop offset="0.6236" stop-color="#d3be0c"/><stop offset="0.7650" stop-color="#b4be1e"/><stop offset="0.9135" stop-color="#82be46"/><stop offset="0.9720" stop-color="#71be4e"/><stop offset="0.9901" stop-color="#5fbe55"/><stop offset="0.9996" stop-color="#30be5f"/></linearGradient>
<linearGradient id="g115" gradientUnits="userSpaceOnUse" x1="266" x2="1532" y1="0" y2="0"><stop offset="0.0004" stop-color="#4026b5"/><stop offset="0.0328" stop-color="#4028b9"/><stop offset="0.0604" stop-color="#3a30c5"/><stop offset="0.0715" stop-color="#323ecd"/><stop offset="0.0912" stop-color="#195fdc"/><stop offset="0.1102" stop-color="#0a73eb"/><stop offset="0.1457" stop-color="#0087f0"/><stop offset="0.1844" stop-color="#0095e7"/><stop offset="0.1987" stop-color="#00a0e1"/><stop offset="0.2168" stop-color="#00afcd"/><stop offset="0.2358" stop-color="#00b4c3"/><stop offset="0.2642" stop-color="#00b8ac"/><stop offset="0.3108" stop-color="#00ba7c"/><stop offset="0.3393" stop-color="#00be69"/><stop offset="0.3448" stop-color="#11be65"/><stop offset="0.3606" stop-color="#5ebe55"/><stop offset="0.3922" stop-color="#82be46"/><stop offset="0.4380" stop-color="#b4be1e"/><stop offset="0.4767" stop-color="#d0be0e"/><stop offset="0.6244" stop-color="#cfbe0f"/><stop offset="0.7453" stop-color="#b4be1e"/><stop offset="0.8922" stop-color="#82be46"/><stop offset="0.9720" stop-color="#6dbe50"/><stop offset="0.9870" stop-color="#5fbe55"/><stop offset="0.9996" stop-color="#27be61"/></linearGradient>
<linearGradient id="g116" gradientUnits="userSpaceOnUse" x1="266" x2="1532" y1="0" y2="0"><stop offset="0.0004" stop-color="#4026b5"/><stop offset="0.0328" stop-color="#4028b9"/><stop offset="0.0604" stop-color="#3b2fc4"/><stop offset="0.0715" stop-color="#323ecd"/><stop offset="0.0920" stop-color="#195fdc"/><stop offset="0.1110" stop-color="#0b72ea"/><stop offset="0.1481" stop-color="#0087f0"/><stop offset="0.1844" stop-color="#0094e7"/><stop offset="0.1987" stop-color="#00a0e1"/><stop offset="0.2168" stop-color="#00afcd"/><stop offset="0.2374" stop-color="#00b4c3"/><stop offset="0.2642" stop-color="#00b8ae"/><stop offset="0.3108" stop-color="#00b980"/><stop offset="0.3456" stop-color="#00be69"/><stop offset="0.3661" stop-color="#5fbe55"/><stop offset="0.4017" stop-color="#82be46"/><stop offset="0.4459" stop-color="#b4be1e"/><stop offset="0.4759" stop-color="#cabe11"/><stop offset="0.6244" stop-color="#cbbe11"/><stop offset="0.7255" stop-color="#b4be1e"/><stop offset="0.8701" stop-color="#82be46"/><stop offset="0.9720" stop-color="#69be52"/><stop offset="0.9838" stop-color="#5fbe55"/><stop offset="0.9996" stop-color="#1dbe63"/></linearGradient>
<linearGradient id="g117" gradientUnits="userSpaceOnUse" x1="266" x2="1532" y1="0" y2="0"><stop offset="0.0004" stop-color="#4026b5"/><stop offset="0.0328" stop-color="#4028b9"/><stop offset="0.0604" stop-color="#3b2fc4"/><stop offset="0.0715" stop-color="#323ecd"/><stop offset="0.0928" stop-color="#195fdc"/><stop offset="0.1126" stop-color="#0a72eb"/><stop offset="0.1505" stop-color="#0087f0"/><stop offset="0.1844" stop-color="#0093e8"/><stop offset="0.1994" stop-color="#00a0e1"/><stop offset="0.2168" stop-color="#00aece"/><stop offset="0.2397" stop-color="#00b4c3"/><stop offset="0.3100" stop-color="#00b983"/><stop offset="0.3503" stop-color="#00be69"/><stop offset="0.3716" stop-color="#5fbe55"/><stop offset="0.4096" stop-color="#82be46"/><stop offset="0.4530" stop-color="#b4be1e"/><stop offset="0.4759" stop-color="#c5be14"/><stop offset="0.6244" stop-color="#c6be14"/><stop offset="0.7042" stop-color="#b4be1e"/><stop offset="0.8495" stop-color="#82be46"/><stop offset="0.9720" stop-color="#65be53"/><stop offset="0.9806" stop-color="#5ebe55"/><stop offset="0.9996" stop-color="#13be65"/></linearGradient>
<linearGradient id="g118" gradientUnits="userSpaceOnUse" x1="266" x2="1532" y1="0" y2="0"><stop offset="0.0004" stop-color="#4026b5"/><stop offset="0.0328" stop-color="#4028b9"/><stop offset="0.0604" stop-color="#3b2fc4"/><stop offset="0.0936" stop-color="#195fdc"/><stop offset="0.1133" stop-color="#0a73eb"/><stop offset="0.1521" stop-color="#0087f0"/><stop offset="0.1844" stop-color="#0093e8"/><stop offset="0.2002" stop-color="#00a0e1"/><stop offset="0.2168" stop-color="#00aed0"/><stop offset="0.2429" stop-color="#00b4c3"/><stop offset="0.3100" stop-color="#00b986"/><stop offset="0.3551" stop-color="#00be69"/><stop offset="0.3764" stop-color="#5fbe55"/><stop offset="0.4159" stop-color="#82be46"/><stop offset="0.4601" stop-color="#b4be1e"/><stop offset="0.4759" stop-color="#c0be17"/><stop offset="0.6244" stop-color="#c0be17"/><stop offset="0.6789" stop-color="#b4be1e"/><stop offset="0.8290" stop-color="#82be46"/><stop offset="0.9048" stop-color="#6ebe50"/><stop offset="0.9720" stop-color="#62be54"/><stop offset="0.9767" stop-color="#5fbe55"/><stop offset="0.9996" stop-color="#09be67"/></linearGradient>
<linearGradient id="g119" gradientUnits="userSpaceOnUse" x1="266" x2="1532" y1="0" y2="0"><stop offset="0.0004" stop-color="#4026b5"/><stop offset="0.0328" stop-color="#4028b9"/><stop offset="0.0604" stop-color="#3b2fc4"/><stop offset="0.0723" stop-color="#323ecd"/><stop offset="0.0936" stop-color="#195fdc"/><stop offset="0.1141" stop-color="#0a73eb"/><stop offset="0.1536" stop-color="#0087f0"/><stop offset="0.1844" stop-color="#0092e9"/><stop offset="0.2010" stop-color="#00a0e1"/><stop offset="0.2168" stop-color="#00add2"/><stop offset="0.2453" stop-color="#00b4c3"/><stop offset="0.3100" stop-color="#00b988"/><stop offset="0.3440" stop-color="#00bb77"/><stop offset="0.3598" stop-color="#00be69"/><stop offset="0.3819" stop-color="#5fbe55"/><stop offset="0.4230" stop-color="#82be46"/><stop offset="0.4672" stop-color="#b3be1f"/><stop offset="0.4759" stop-color="#babe1b"/><stop offset="0.6244" stop-color="#babe1b"/><stop offset="0.6513" stop-color="#b4be1e"/><stop offset="0.8069" stop-color="#82be46"/><stop offset="0.8843" stop-color="#6ebe50"/><stop offset="0.9720" stop-color="#5fbe55"/><stop offset="0.9996" stop-color="#00be69"/></linearGradient>
<linearGradient id="g120" gradientUnits="userSpaceOnUse" x1="266" x2="1532" y1="0" y2="0"><stop offset="0.0004" stop-color="#4026b5"/><stop offset="0.0328" stop-color="#4028b9"/><stop offset="0.0604" stop-color="#3b2fc4"/><stop offset="0.0723" stop-color="#323ecd"/><stop offset="0.0944" stop-color="#195fdc"/><stop offset="0.1149" stop-color="#0a73eb"/><stop offset="0.1552" stop-color="#0087f0"/><stop offset="0.1844" stop-color="#0091e9"/><stop offset="0.2026" stop-color="#00a0e1"/><stop offset="0.2168" stop-color="#00acd4"/><stop offset="0.2476" stop-color="#00b4c3"/><stop offset="0.3100" stop-color="#00b98a"/><stop offset="0.3440" stop-color="#00ba7b"/><stop offset="0.3645" stop-color="#00be69"/><stop offset="0.3867" stop-color="#5fbe55"/><stop offset="0.4309" stop-color="#82be46"/><stop offset="0.4767" stop-color="#b4be1e"/><stop offset="0.6244" stop-color="#b3be1f"/><stop offset="0.7824" stop-color="#82be46"/><stop offset="0.8637" stop-color="#6ebe50"/><stop offset="0.9538" stop-color="#5fbe55"/><stop offset="0.9720" stop-color="#51be58"/><stop offset="0.9957" stop-color="#02be69"/><stop offset="0.9996" stop-color="#00be6b"/></linearGradient>
<linearGradient id="g121" gradientUnits="userSpaceOnUse" x1="266" x2="1532" y1="0" y2="0"><stop offset="0.0004" stop-color="#4026b5"/><stop offset="0.0328" stop-color="#4028b9"/><stop offset="0.0604" stop-color="#3b2fc4"/><stop offset="0.0944" stop-color="#195edc"/><stop offset="0.1157" stop-color="#0a73eb"/><stop offset="0.1568" stop-color="#0087f0"/><stop offset="0.1844" stop-color="#0091ea"/><stop offset="0.2034" stop-color="#00a0e1"/><stop offset="0.2168" stop-color="#00abd5"/><stop offset="0.2500" stop-color="#00b4c3"/><stop offset="0.3100" stop-color="#00b98c"/><stop offset="0.3440" stop-color="#00ba7f"/><stop offset="0.3693" stop-color="#00be69"/><stop offset="0.3906" stop-color="#59be56"/><stop offset="0.3930" stop-color="#5fbe55"/><stop offset="0.4396" stop-color="#82be46"/><stop offset="0.4767" stop-color="#a9be26"/><stop offset="0.6244" stop-color="#aabe26"/><stop offset="0.7571" stop-color="#82be46"/><stop offset="0.8408" stop-color="#6ebe50"/><stop offset="0.9317" stop-color="#5fbe55"/><stop offset="0.9720" stop-color="#41be5b"/><stop offset="0.9925" stop-color="#01be69"/><stop offset="0.9996" stop-color="#00bd6d"/></linearGradient>
<linearGradient id="g122" gradientUnits="userSpaceOnUse" x1="266" x2="1532" y1="0" y2="0"><stop offset="0.0004" stop-color="#4026b5"/><stop offset="0.0328" stop-color="#4028b9"/><stop offset="0.0604" stop-color="#3b2ec4"/><stop offset="0.0952" stop-color="#195fdc"/><stop offset="0.1157" stop-color="#0a72eb"/><stop offset="0.1584" stop-color="#0087f0"/><stop offset="0.1844" stop-color="#0090ea"/><stop offset="0.2042" stop-color="#00a0e1"/><stop offset="0.2168" stop-color="#00aad7"/><stop offset="0.2524" stop-color="#00b4c3"/><stop offset="0.3100" stop-color="#00b98f"/><stop offset="0.3448" stop-color="#00b982"/><stop offset="0.3756" stop-color="#00be69"/><stop offset="0.3906" stop-color="#39be5d"/><stop offset="0.4024" stop-color="#5fbe55"/><stop offset="0.4491" stop-color="#82be46"/><stop offset="0.4767" stop-color="#9fbe2e"/><stop offset="0.6244" stop-color="#a0be2e"/><stop offset="0.7271" stop-color="#82be46"/><stop offset="0.9001" stop-color="#5fbe55"/><stop offset="0.9720" stop-color="#31be5f"/><stop offset="0.9885" stop-color="#00be69"/><stop offset="0.9996" stop-color="#00bd70"/></linearGradient>
<linearGradient id="g123" gradientUnits="userSpaceOnUse" x1="266" x2="1532" y1="0" y2="0"><stop offset="0.0004" stop-color="#4026b5"/><stop offset="0.0328" stop-color="#4028b9"/><stop offset="0.0604" stop-color="#3b2ec4"/><stop offset="0.0731" stop-color="#323ecd"/><stop offset="0.0960" stop-color="#195fdc"/><stop offset="0.1165" stop-color="#0a72eb"/><stop offset="0.1600" stop-color="#0087f0"/><stop offset="0.1844" stop-color="#008fea"/><stop offset="0.2168" stop-color="#00a9d8"/><stop offset="0.2547" stop-color="#00b4c3"/><stop offset="0.3100" stop-color="#00b991"/><stop offset="0.3495" stop-color="#00b982"/><stop offset="0.3859" stop-color="#00be69"/><stop offset="0.4143" stop-color="#5ebe55"/><stop offset="0.4593" stop-color="#82be46"/><stop offset="0.4767" stop-color="#95be37"/><stop offset="0.6244" stop-color="#96be36"/><stop offset="0.6939" stop-color="#82be46"/><stop offset="0.8637" stop-color="#5fbe55"/><stop offset="0.8922" stop-color="#46be5a"/><stop offset="0.9720" stop-color="#1ebe63"/><stop offset="0.9830" stop-color="#00be69"/><stop offset="0.9996" stop-color="#00bc72"/></linearGradient>
<linearGradient id="g124" gradientUnits="userSpaceOnUse" x1="266" x2="1532" y1="0" y2="0"><stop offset="0.0004" stop-color="#4026b5"/><stop offset="0.0328" stop-color="#4028b9"/><stop offset="0.0604" stop-color="#3b2ec4"/><stop offset="0.0739" stop-color="#323fcd"/><stop offset="0.0960" stop-color="#195fdc"/><stop offset="0.1173" stop-color="#0a73eb"/><stop offset="0.1615" stop-color="#0087f0"/><stop offset="0.1844" stop-color="#008feb"/><stop offset="0.2168" stop-color="#00a8d9"/><stop offset="0.2571" stop-color="#00b4c3"/><stop offset="0.3100" stop-color="#00b993"/><stop offset="0.3558" stop-color="#00b982"/><stop offset="0.3938" stop-color="#00be69"/><stop offset="0.4230" stop-color="#5fbe55"/><stop offset="0.4467" stop-color="#6fbe50"/><stop offset="0.4767" stop-color="#8abe40"/><stop offset="0.6244" stop-color="#8dbe3d"/><stop offset="0.6615" stop-color="#82be46"/><stop offset="0.7453" stop-color="#6ebe50"/><stop offset="0.8298" stop-color="#5fbe55"/><stop offset="0.8922" stop-color="#27be61"/><stop offset="0.9720" stop-color="#0cbe66"/><stop offset="0.9775" stop-color="#00be69"/><stop offset="0.9996" stop-color="#00bc75"/></linearGradient>
<linearGradient id="g125" gradientUnits="userSpaceOnUse" x1="266" x2="1532" y1="0" y2="0"><stop offset="0.0004" stop-color="#4026b5"/><stop offset="0.0328" stop-color="#4028b9"/><stop offset="0.0604" stop-color="#3b2ec4"/><stop offset="0.0739" stop-color="#323ecd"/><stop offset="0.0968" stop-color="#195fdc"/><stop offset="0.1181" stop-color="#0a73eb"/><stop offset="0.1631" stop-color="#0087f0"/><stop offset="0.1844" stop-color="#008eeb"/><stop offset="0.2168" stop-color="#00a7da"/><stop offset="0.2595" stop-color="#00b4c3"/><stop offset="0.3100" stop-color="#00b995"/><stop offset="0.3614" stop-color="#00b982"/><stop offset="0.4001" stop-color="#00be69"/><stop offset="0.4309" stop-color="#5fbe55"/><stop offset="0.4759" stop-color="#7fbe47"/><stop offset="0.6244" stop-color="#83be45"/><stop offset="0.7998" stop-color="#5fbe55"/><stop offset="0.8922" stop-color="#0dbe66"/><stop offset="0.9483" stop-color="#00be69"/><stop offset="0.9720" stop-color="#00be6a"/><stop offset="0.9996" stop-color="#00bb77"/></linearGradient>
<linearGradient id="g126" gradientUnits="userSpaceOnUse" x1="266" x2="1532" y1="0" y2="0"><stop offset="0.0004" stop-color="#4026b5"/><stop offset="0.0328" stop-color="#4028b9"/><stop offset="0.0604" stop-color="#3c2ec3"/><stop offset="0.0739" stop-color="#323ecd"/><stop offset="0.0976" stop-color="#195fdc"/><stop offset="0.1189" stop-color="#0a73eb"/><stop offset="0.1647" stop-color="#0087f0"/><stop offset="0.1844" stop-color="#008dec"/><stop offset="0.2168" stop-color="#00a6db"/><stop offset="0.2295" stop-color="#00aad7"/><stop offset="0.2618" stop-color="#00b4c3"/><stop offset="0.2919" stop-color="#00b9a5"/><stop offset="0.3108" stop-color="#00b997"/><stop offset="0.3677" stop-color="#00b982"/><stop offset="0.4072" stop-color="#00be69"/><stop offset="0.4396" stop-color="#5fbe55"/><stop offset="0.4767" stop-color="#77be4c"/><stop offset="0.6244" stop-color="#7bbe49"/><stop offset="0.7753" stop-color="#5fbe55"/><stop offset="0.8882" stop-color="#00be69"/><stop offset="0.9720" stop-color="#00bd6e"/><stop offset="0.9996" stop-color="#00bb7a"/></linearGradient>
<linearGradient id="g127" gradientUnits="userSpaceOnUse" x1="266" x2="1532" y1="0" y2="0"><stop offset="0.0004" stop-color="#4026b5"/><stop offset="0.0328" stop-color="#4028b9"/><stop offset="0.0604" stop-color="#3c2ec3"/><stop offset="0.0746" stop-color="#323ecd"/><stop offset="0.0976" stop-color="#195fdc"/><stop offset="0.1197" stop-color="#0a73eb"/><stop offset="0.1663" stop-color="#0087f0"/><stop offset="0.1844" stop-color="#008dec"/><stop offset="0.2168" stop-color="#00a5dc"/><stop offset="0.2326" stop-color="#00aad7"/><stop offset="0.2642" stop-color="#00b4c3"/><stop offset="0.2950" stop-color="#00b9a5"/><stop offset="0.3108" stop-color="#00b99a"/><stop offset="0.3732" stop-color="#00b982"/><stop offset="0.4151" stop-color="#00be69"/><stop offset="0.4491" stop-color="#5fbe55"/><stop offset="0.4767" stop-color="#6fbe50"/><stop offset="0.6244" stop-color="#75be4d"/><stop offset="0.7492" stop-color="#5fbe55"/><stop offset="0.8669" stop-color="#00be69"/><stop offset="0.9720" stop-color="#00bc71"/><stop offset="0.9996" stop-color="#00ba7c"/></linearGradient>
<linearGradient id="g128" gradientUnits="userSpaceOnUse" x1="266" x2="1532" y1="0" y2="0"><stop offset="0.0004" stop-color="#4026b5"/><stop offset="0.0328" stop-color="#4028b9"/><stop offset="0.0604" stop-color="#3c2dc3"/><stop offset="0.0746" stop-color="#323ecd"/><stop offset="0.0983" stop-color="#195fdc"/><stop offset="0.1205" stop-color="#0a73eb"/><stop offset="0.1679" stop-color="#0087f0"/><stop offset="0.1844" stop-color="#008ced"/><stop offset="0.2168" stop-color="#00a3de"/><stop offset="0.2366" stop-color="#00aad7"/><stop offset="0.2674" stop-color="#00b4c3"/><stop offset="0.2982" stop-color="#00b9a5"/><stop offset="0.3108" stop-color="#00b99c"/><stop offset="0.3788" stop-color="#00b982"/><stop offset="0.4230" stop-color="#00be69"/><stop offset="0.4585" stop-color="#5ebe55"/><stop offset="0.4767" stop-color="#68be52"/><stop offset="0.6244" stop-color="#6fbe50"/><stop offset="0.7239" stop-color="#5fbe55"/><stop offset="0.8448" stop-color="#00be69"/><stop offset="0.8922" stop-color="#00bc71"/><stop offset="0.9720" stop-color="#00bc74"/><stop offset="0.9996" stop-color="#00ba7f"/></linearGradient>
<linearGradient id="g129" gradientUnits="userSpaceOnUse" x1="266" x2="1532" y1="0" y2="0"><stop offset="0.0004" stop-color="#4026b5"/><stop offset="0.0328" stop-color="#4028b9"/><stop offset="0.0604" stop-color="#3c2dc3"/><stop offset="0.0754" stop-color="#323fcd"/><stop offset="0.0991" stop-color="#195fdc"/><stop offset="0.1212" stop-color="#0a73eb"/><stop offset="0.1694" stop-color="#0087f0"/><stop offset="0.1844" stop-color="#008bed"/><stop offset="0.2168" stop-color="#00a2df"/><stop offset="0.2405" stop-color="#00aad7"/><stop offset="0.2705" stop-color="#00b4c3"/><stop offset="0.3021" stop-color="#00b9a5"/><stop offset="0.3851" stop-color="#00b982"/><stop offset="0.4325" stop-color="#00be69"/><stop offset="0.4704" stop-color="#5fbe55"/><stop offset="0.6244" stop-color="#6abe51"/><stop offset="0.6963" stop-color="#5fbe55"/><stop offset="0.8211" stop-color="#00be69"/><stop offset="0.8922" stop-color="#00bc74"/><stop offset="0.9720" stop-color="#00bb78"/><stop offset="0.9996" stop-color="#00b982"/></linearGradient>
<linearGradient id="g130" gradientUnits="userSpaceOnUse" x1="266" x2="1532" y1="0" y2="0"><stop offset="0.0004" stop-color="#4026b5"/><stop offset="0.0328" stop-color="#4028b9"/><stop offset="0.0604" stop-color="#3c2dc3"/><stop offset="0.0754" stop-color="#323ecd"/><stop offset="0.0991" stop-color="#195fdc"/><stop offset="0.1220" stop-color="#0a73eb"/><stop offset="0.1718" stop-color="#0087f0"/><stop offset="0.1844" stop-color="#008bed"/><stop offset="0.2168" stop-color="#00a0e1"/><stop offset="0.2437" stop-color="#00aad7"/><stop offset="0.2737" stop-color="#00b4c3"/><stop offset="0.3053" stop-color="#00b9a5"/><stop offset="0.3914" stop-color="#00b982"/><stop offset="0.4427" stop-color="#00be69"/><stop offset="0.4767" stop-color="#51be58"/><stop offset="0.5217" stop-color="#5fbe55"/><stop offset="0.6244" stop-color="#65be53"/><stop offset="0.6671" stop-color="#5fbe55"/><stop offset="0.7958" stop-color="#00be69"/><stop offset="0.8922" stop-color="#00bb78"/><stop offset="0.9720" stop-color="#00ba7b"/><stop offset="0.9996" stop-color="#00b984"/></linearGradient>
<linearGradient id="g131" gradientUnits="userSpaceOnUse" x1="266" x2="1532" y1="0" y2="0"><stop offset="0.0004" stop-color="#4026b5"/><stop offset="0.0328" stop-color="#4028b9"/><stop offset="0.0604" stop-color="#3c2dc3"/><stop offset="0.0762" stop-color="#313fcd"/><stop offset="0.0999" stop-color="#195fdc"/><stop offset="0.1228" stop-color="#0a73eb"/><stop offset="0.1734" stop-color="#0087f0"/><stop offset="0.2468" stop-color="#00aad7"/><stop offset="0.2769" stop-color="#00b4c3"/><stop offset="0.3085" stop-color="#00b9a6"/><stop offset="0.4001" stop-color="#00b982"/><stop offset="0.4538" stop-color="#00be69"/><stop offset="0.4767" stop-color="#33be5e"/><stop offset="0.5999" stop-color="#5fbe55"/><stop offset="0.6244" stop-color="#61be54"/><stop offset="0.6363" stop-color="#5fbe55"/><stop offset="0.7690" stop-color="#00be69"/><stop offset="0.8922" stop-color="#00ba7b"/><stop offset="0.9720" stop-color="#00ba7f"/><stop offset="0.9996" stop-color="#00b985"/></linearGradient>
<linearGradient id="g132" gradientUnits="userSpaceOnUse" x1="266" x2="1532" y1="0" y2="0"><stop offset="0.0004" stop-color="#4026b5"/><stop offset="0.0328" stop-color="#4028b9"/><stop offset="0.0604" stop-color="#3c2dc3"/><stop offset="0.0762" stop-color="#323ecd"/><stop offset="0.1007" stop-color="#195fdc"/><stop offset="0.1236" stop-color="#0a73eb"/><stop offset="0.1750" stop-color="#0087f0"/><stop offset="0.2492" stop-color="#00aad7"/><stop offset="0.2800" stop-color="#00b4c3"/><stop offset="0.3100" stop-color="#00b9a8"/><stop offset="0.4664" stop-color="#00be69"/><stop offset="0.4767" stop-color="#15be65"/><stop offset="0.6244" stop-color="#44be5b"/><stop offset="0.7295" stop-color="#00be69"/><stop offset="0.8922" stop-color="#00ba7e"/><stop offset="0.9720" stop-color="#00b982"/><stop offset="0.9996" stop-color="#00b988"/></linearGradient>
<linearGradient id="g133" gradientUnits="userSpaceOnUse" x1="266" x2="1532" y1="0" y2="0"><stop offset="0.0004" stop-color="#4026b5"/><stop offset="0.0328" stop-color="#4028b9"/><stop offset="0.0604" stop-color="#3c2dc3"/><stop offset="0.0762" stop-color="#323ecd"/><stop offset="0.1015" stop-color="#195fdc"/><stop offset="0.1244" stop-color="#0a73eb"/><stop offset="0.1773" stop-color="#0087f0"/><stop offset="0.2524" stop-color="#00aad7"/><stop offset="0.2832" stop-color="#00b4c3"/><stop offset="0.3100" stop-color="#00b8ab"/><stop offset="0.4767" stop-color="#00be6a"/><stop offset="0.5051" stop-color="#00be69"/><stop offset="0.6244" stop-color="#1abe64"/><stop offset="0.6710" stop-color="#00be69"/><stop offset="0.9996" stop-color="#00b98a"/></linearGradient>
<linearGradient id="g134" gradientUnits="userSpaceOnUse" x1="266" x2="1532" y1="0" y2="0"><stop offset="0.0004" stop-color="#4026b5"/><stop offset="0.0328" stop-color="#4028b9"/><stop offset="0.0612" stop-color="#3c2dc3"/><stop offset="0.0770" stop-color="#323ecd"/><stop offset="0.1023" stop-color="#195fdc"/><stop offset="0.1244" stop-color="#0b72ea"/><stop offset="0.1789" stop-color="#0086f0"/><stop offset="0.2350" stop-color="#00a1e0"/><stop offset="0.2911" stop-color="#00b4c1"/><stop offset="0.3108" stop-color="#00b7b0"/><stop offset="0.3306" stop-color="#00b9a7"/><stop offset="0.4767" stop-color="#00bc71"/><stop offset="0.6244" stop-color="#00bd6d"/><stop offset="0.8582" stop-color="#00b983"/><stop offset="0.9720" stop-color="#00b988"/><stop offset="0.9996" stop-color="#00b98d"/></linearGradient>
<linearGradient id="g135" gradientUnits="userSpaceOnUse" x1="266" x2="1532" y1="0" y2="0"><stop offset="0.0004" stop-color="#4026b5"/><stop offset="0.0328" stop-color="#4028b9"/><stop offset="0.0612" stop-color="#3c2dc3"/><stop offset="0.0786" stop-color="#313fcd"/><stop offset="0.1039" stop-color="#195fdc"/><stop offset="0.1244" stop-color="#0c70e9"/><stop offset="0.1836" stop-color="#0087f0"/><stop offset="0.2413" stop-color="#00a1e0"/><stop offset="0.2990" stop-color="#00b4c1"/><stop offset="0.3108" stop-color="#00b6b6"/><stop offset="0.3511" stop-color="#00b9a4"/><stop offset="0.4767" stop-color="#00bb79"/><stop offset="0.6244" stop-color="#00bc75"/><stop offset="0.8922" stop-color="#00b98b"/><stop offset="0.9720" stop-color="#00b98d"/><stop offset="0.9996" stop-color="#00b992"/></linearGradient>
<linearGradient id="g136" gradientUnits="userSpaceOnUse" x1="266" x2="1532" y1="0" y2="0"><stop offset="0.0004" stop-color="#4026b5"/><stop offset="0.0328" stop-color="#4028b8"/><stop offset="0.0612" stop-color="#3c2dc3"/><stop offset="0.0794" stop-color="#323ecd"/><stop offset="0.1055" stop-color="#195fdc"/><stop offset="0.1244" stop-color="#0e6ee7"/><stop offset="0.1868" stop-color="#0087f0"/><stop offset="0.2484" stop-color="#00a1e0"/><stop offset="0.2745" stop-color="#00abd5"/><stop offset="0.3100" stop-color="#00b5be"/><stop offset="0.3906" stop-color="#00b99a"/><stop offset="0.4767" stop-color="#00b982"/><stop offset="0.6244" stop-color="#00ba7e"/><stop offset="0.8922" stop-color="#00b990"/><stop offset="0.9720" stop-color="#00b991"/><stop offset="0.9996" stop-color="#00b997"/></linearGradient>
<linearGradient id="g137" gradientUnits="userSpaceOnUse" x1="266" x2="1532" y1="0" y2="0"><stop offset="0.0004" stop-color="#4026b4"/><stop offset="0.0328" stop-color="#4028b8"/><stop offset="0.0620" stop-color="#3c2dc3"/><stop offset="0.0810" stop-color="#323ecd"/><stop offset="0.1070" stop-color="#195edc"/><stop offset="0.1244" stop-color="#0f6ce6"/><stop offset="0.1378" stop-color="#0a73eb"/><stop offset="0.1900" stop-color="#0087f0"/><stop offset="0.2563" stop-color="#00a1e0"/><stop offset="0.2840" stop-color="#00abd5"/><stop offset="0.3108" stop-color="#00b3c4"/><stop offset="0.3811" stop-color="#00b9a3"/><stop offset="0.4767" stop-color="#00b987"/><stop offset="0.6244" stop-color="#00b985"/><stop offset="0.9720" stop-color="#00b996"/><stop offset="0.9996" stop-color="#00b99b"/></linearGradient>
<linearGradient id="g138" gradientUnits="userSpaceOnUse" x1="266" x2="1532" y1="0" y2="0"><stop offset="0.0004" stop-color="#4026b4"/><stop offset="0.0328" stop-color="#4028b8"/><stop offset="0.0620" stop-color="#3c2dc3"/><stop offset="0.0818" stop-color="#323ecd"/><stop offset="0.1094" stop-color="#195fdc"/><stop offset="0.1244" stop-color="#106be5"/><stop offset="0.1426" stop-color="#0a73eb"/><stop offset="0.1939" stop-color="#0086f0"/><stop offset="0.2658" stop-color="#00a1e0"/><stop offset="0.3266" stop-color="#00b3c4"/><stop offset="0.3906" stop-color="#00b9a7"/><stop offset="0.4767" stop-color="#00b98c"/><stop offset="0.6244" stop-color="#00b98c"/><stop offset="0.9996" stop-color="#00b99f"/></linearGradient>
<linearGradient id="g139" gradientUnits="userSpaceOnUse" x1="266" x2="1532" y1="0" y2="0"><stop offset="0.0004" stop-color="#4026b4"/><stop offset="0.0328" stop-color="#4028b8"/><stop offset="0.0628" stop-color="#3c2dc3"/><stop offset="0.0833" stop-color="#323ecd"/><stop offset="0.1110" stop-color="#1a5edc"/><stop offset="0.1244" stop-color="#1269e3"/><stop offset="0.1481" stop-color="#0a73eb"/><stop offset="0.1994" stop-color="#0086f0"/><stop offset="0.2745" stop-color="#00a1e0"/><stop offset="0.3108" stop-color="#00aece"/><stop offset="0.3416" stop-color="#00b3c4"/><stop offset="0.4103" stop-color="#00b9a7"/><stop offset="0.4767" stop-color="#00b992"/><stop offset="0.9996" stop-color="#00b9a3"/></linearGradient>
<linearGradient id="g140" gradientUnits="userSpaceOnUse" x1="266" x2="1532" y1="0" y2="0"><stop offset="0.0004" stop-color="#4026b4"/><stop offset="0.0328" stop-color="#4028b8"/><stop offset="0.0628" stop-color="#3c2dc3"/><stop offset="0.0849" stop-color="#323ecd"/><stop offset="0.1133" stop-color="#195edc"/><stop offset="0.1244" stop-color="#1367e2"/><stop offset="0.1544" stop-color="#0a73eb"/><stop offset="0.2058" stop-color="#0086f0"/><stop offset="0.2792" stop-color="#009fe1"/><stop offset="0.3108" stop-color="#00acd4"/><stop offset="0.3448" stop-color="#00b2c8"/><stop offset="0.4767" stop-color="#00b997"/><stop offset="0.9996" stop-color="#00b8a9"/></linearGradient>
<linearGradient id="g141" gradientUnits="userSpaceOnUse" x1="266" x2="1532" y1="0" y2="0"><stop offset="0.0004" stop-color="#4026b4"/><stop offset="0.0328" stop-color="#4028b8"/><stop offset="0.0628" stop-color="#3c2dc3"/><stop offset="0.0857" stop-color="#323ecd"/><stop offset="0.1244" stop-color="#1465e1"/><stop offset="0.1584" stop-color="#0a73eb"/><stop offset="0.2113" stop-color="#0087f0"/><stop offset="0.2879" stop-color="#00a0e1"/><stop offset="0.3448" stop-color="#00afce"/><stop offset="0.3843" stop-color="#00b4c3"/><stop offset="0.4767" stop-color="#00b99c"/><stop offset="0.9996" stop-color="#00b7ae"/></linearGradient>
<linearGradient id="g142" gradientUnits="userSpaceOnUse" x1="266" x2="1532" y1="0" y2="0"><stop offset="0.0004" stop-color="#4026b4"/><stop offset="0.0328" stop-color="#4028b8"/><stop offset="0.0636" stop-color="#3c2dc3"/><stop offset="0.0873" stop-color="#323ecd"/><stop offset="0.1244" stop-color="#1564e0"/><stop offset="0.1639" stop-color="#0a73eb"/><stop offset="0.2145" stop-color="#0087f0"/><stop offset="0.2934" stop-color="#00a0e1"/><stop offset="0.3448" stop-color="#00add2"/><stop offset="0.3969" stop-color="#00b4c3"/><stop offset="0.4767" stop-color="#00b9a0"/><stop offset="0.9996" stop-color="#00b7b2"/></linearGradient>
<linearGradient id="g143" gradientUnits="userSpaceOnUse" x1="266" x2="1532" y1="0" y2="0"><stop offset="0.0004" stop-color="#4026b4"/><stop offset="0.0328" stop-color="#4028b8"/><stop offset="0.0636" stop-color="#3c2dc3"/><stop offset="0.0889" stop-color="#323ecd"/><stop offset="0.1244" stop-color="#1762de"/><stop offset="0.1686" stop-color="#0a73eb"/><stop offset="0.2168" stop-color="#0087f0"/><stop offset="0.3108" stop-color="#00a4dd"/><stop offset="0.4088" stop-color="#00b4c3"/><stop offset="0.4767" stop-color="#00b9a3"/><stop offset="0.9996" stop-color="#00b6b6"/></linearGradient>
<linearGradient id="g144" gradientUnits="userSpaceOnUse" x1="266" x2="1532" y1="0" y2="0"><stop offset="0.0004" stop-color="#4026b4"/><stop offset="0.0328" stop-color="#4027b8"/><stop offset="0.0636" stop-color="#3c2dc3"/><stop offset="0.0904" stop-color="#323ecd"/><stop offset="0.1244" stop-color="#1960dc"/><stop offset="0.1742" stop-color="#0a73eb"/><stop offset="0.2208" stop-color="#0087f0"/><stop offset="0.3108" stop-color="#00a2df"/><stop offset="0.4198" stop-color="#00b4c3"/><stop offset="0.4767" stop-color="#00b9a7"/><stop offset="0.9996" stop-color="#00b5ba"/></linearGradient>
<linearGradient id="g145" gradientUnits="userSpaceOnUse" x1="266" x2="1532" y1="0" y2="0"><stop offset="0.0004" stop-color="#4026b4"/><stop offset="0.0328" stop-color="#4027b8"/><stop offset="0.0644" stop-color="#3c2dc3"/><stop offset="0.0920" stop-color="#323ecd"/><stop offset="0.1284" stop-color="#195fdc"/><stop offset="0.1797" stop-color="#0a73eb"/><stop offset="0.2247" stop-color="#0087f0"/><stop offset="0.3108" stop-color="#009fe1"/><stop offset="0.3669" stop-color="#00aad7"/><stop offset="0.4301" stop-color="#00b4c3"/><stop offset="0.4767" stop-color="#00b8ac"/><stop offset="0.9996" stop-color="#00b5be"/></linearGradient>
<linearGradient id="g146" gradientUnits="userSpaceOnUse" x1="266" x2="1532" y1="0" y2="0"><stop offset="0.0004" stop-color="#4026b4"/><stop offset="0.0328" stop-color="#4027b8"/><stop offset="0.0644" stop-color="#3c2dc3"/><stop offset="0.0936" stop-color="#323ecd"/><stop offset="0.1339" stop-color="#195fdc"/><stop offset="0.1852" stop-color="#0a73eb"/><stop offset="0.2287" stop-color="#0087f0"/><stop offset="0.3108" stop-color="#009de2"/><stop offset="0.3795" stop-color="#00aad7"/><stop offset="0.4404" stop-color="#00b4c3"/><stop offset="0.4767" stop-color="#00b7b0"/><stop offset="0.9996" stop-color="#00b4c2"/></linearGradient>
<linearGradient id="g147" gradientUnits="userSpaceOnUse" x1="266" x2="1532" y1="0" y2="0"><stop offset="0.0004" stop-color="#4026b4"/><stop offset="0.0328" stop-color="#4027b8"/><stop offset="0.0644" stop-color="#3c2dc3"/><stop offset="0.0952" stop-color="#323ecd"/><stop offset="0.1386" stop-color="#195fdc"/><stop offset="0.1884" stop-color="#0a73eb"/><stop offset="0.2342" stop-color="#0087f0"/><stop offset="0.3906" stop-color="#00aad7"/><stop offset="0.4498" stop-color="#00b4c3"/><stop offset="0.4767" stop-color="#00b6b5"/><stop offset="0.9996" stop-color="#00b3c5"/></linearGradient>
<linearGradient id="g148" gradientUnits="userSpaceOnUse" x1="266" x2="1532" y1="0" y2="0"><stop offset="0.0004" stop-color="#4026b4"/><stop offset="0.0328" stop-color="#4027b8"/><stop offset="0.0652" stop-color="#3c2dc3"/><stop offset="0.0976" stop-color="#323ecd"/><stop offset="0.1442" stop-color="#195fdc"/><stop offset="0.1908" stop-color="#0a73eb"/><stop offset="0.2397" stop-color="#0087f0"/><stop offset="0.4024" stop-color="#00aad7"/><stop offset="0.4617" stop-color="#00b4c3"/><stop offset="0.4767" stop-color="#00b5bb"/><stop offset="0.6244" stop-color="#00b5bc"/><stop offset="0.9996" stop-color="#00b1c9"/></linearGradient>
<linearGradient id="g149" gradientUnits="userSpaceOnUse" x1="266" x2="1532" y1="0" y2="0"><stop offset="0.0004" stop-color="#4026b4"/><stop offset="0.0328" stop-color="#4027b8"/><stop offset="0.0652" stop-color="#3c2dc3"/><stop offset="0.1007" stop-color="#323ecd"/><stop offset="0.1497" stop-color="#195fdc"/><stop offset="0.1931" stop-color="#0a73eb"/><stop offset="0.2168" stop-color="#047fee"/><stop offset="0.2453" stop-color="#0087f0"/><stop offset="0.4159" stop-color="#00aad7"/><stop offset="0.4759" stop-color="#00b4c3"/><stop offset="0.6244" stop-color="#00b5c0"/><stop offset="0.9996" stop-color="#00afcc"/></linearGradient>
<linearGradient id="g150" gradientUnits="userSpaceOnUse" x1="266" x2="1532" y1="0" y2="0"><stop offset="0.0004" stop-color="#4026b4"/><stop offset="0.0328" stop-color="#4027b8"/><stop offset="0.0652" stop-color="#3c2dc3"/><stop offset="0.1039" stop-color="#323ecd"/><stop offset="0.1544" stop-color="#195fdc"/><stop offset="0.1955" stop-color="#0a73eb"/><stop offset="0.2168" stop-color="#057eee"/><stop offset="0.2516" stop-color="#0087f0"/><stop offset="0.4309" stop-color="#00aad7"/><stop offset="0.4759" stop-color="#00b1c9"/><stop offset="0.6244" stop-color="#00b3c4"/><stop offset="0.9996" stop-color="#00aed0"/></linearGradient>
<linearGradient id="g151" gradientUnits="userSpaceOnUse" x1="266" x2="1532" y1="0" y2="0"><stop offset="0.0004" stop-color="#4026b4"/><stop offset="0.0328" stop-color="#4027b8"/><stop offset="0.0660" stop-color="#3c2dc3"/><stop offset="0.1055" stop-color="#323ecd"/><stop offset="0.1568" stop-color="#195fdc"/><stop offset="0.1971" stop-color="#0a73eb"/><stop offset="0.2168" stop-color="#057ded"/><stop offset="0.2579" stop-color="#0087f0"/><stop offset="0.3859" stop-color="#00a0e1"/><stop offset="0.4759" stop-color="#00afce"/><stop offset="0.6244" stop-color="#00b2c8"/><stop offset="0.9996" stop-color="#00acd3"/></linearGradient>
<linearGradient id="g152" gradientUnits="userSpaceOnUse" x1="266" x2="1532" y1="0" y2="0"><stop offset="0.0004" stop-color="#4026b4"/><stop offset="0.0328" stop-color="#4027b8"/><stop offset="0.0660" stop-color="#3c2dc3"/><stop offset="0.1078" stop-color="#323ecd"/><stop offset="0.1592" stop-color="#195fdc"/><stop offset="0.1987" stop-color="#0a73eb"/><stop offset="0.2168" stop-color="#067ced"/><stop offset="0.2650" stop-color="#0087f0"/><stop offset="0.4001" stop-color="#00a0e1"/><stop offset="0.4759" stop-color="#00acd3"/><stop offset="0.6244" stop-color="#00b0cb"/><stop offset="0.9996" stop-color="#00aad7"/></linearGradient>
<linearGradient id="g153" gradientUnits="userSpaceOnUse" x1="266" x2="1532" y1="0" y2="0"><stop offset="0.0004" stop-color="#4026b4"/><stop offset="0.0328" stop-color="#4027b7"/><stop offset="0.0667" stop-color="#3c2dc3"/><stop offset="0.1110" stop-color="#323ecd"/><stop offset="0.1615" stop-color="#1a5edc"/><stop offset="0.2168" stop-color="#077aed"/><stop offset="0.2776" stop-color="#0088f0"/><stop offset="0.4759" stop-color="#00a8d9"/><stop offset="0.6244" stop-color="#00add1"/><stop offset="0.9996" stop-color="#00a7da"/></linearGradient>
<linearGradient id="g154" gradientUnits="userSpaceOnUse" x1="266" x2="1532" y1="0" y2="0"><stop offset="0.0004" stop-color="#4026b4"/><stop offset="0.0604" stop-color="#3d2bbf"/><stop offset="0.1133" stop-color="#323ecd"/><stop offset="0.1663" stop-color="#195edc"/><stop offset="0.2160" stop-color="#0877ec"/><stop offset="0.2942" stop-color="#0088ef"/><stop offset="0.4759" stop-color="#00a2df"/><stop offset="0.6244" stop-color="#00a9d7"/><stop offset="0.9996" stop-color="#00a3de"/></linearGradient>
<linearGradient id="g155" gradientUnits="userSpaceOnUse" x1="266" x2="1532" y1="0" y2="0"><stop offset="0.0004" stop-color="#4026b4"/><stop offset="0.0612" stop-color="#3d2bbf"/><stop offset="0.1181" stop-color="#323dcd"/><stop offset="0.1718" stop-color="#195edc"/><stop offset="0.2168" stop-color="#0974eb"/><stop offset="0.3116" stop-color="#0087f0"/><stop offset="0.4759" stop-color="#009ce3"/><stop offset="0.6244" stop-color="#00a4dd"/><stop offset="0.9996" stop-color="#009ee2"/></linearGradient>
<linearGradient id="g156" gradientUnits="userSpaceOnUse" x1="266" x2="1532" y1="0" y2="0"><stop offset="0.0004" stop-color="#4025b4"/><stop offset="0.0612" stop-color="#3e2bbf"/><stop offset="0.1252" stop-color="#323ecd"/><stop offset="0.1773" stop-color="#195fdc"/><stop offset="0.2239" stop-color="#0b72ea"/><stop offset="0.3448" stop-color="#0087ef"/><stop offset="0.4767" stop-color="#0096e6"/><stop offset="0.6244" stop-color="#009fe2"/><stop offset="0.9996" stop-color="#0099e5"/></linearGradient>
<linearGradient id="g157" gradientUnits="userSpaceOnUse" x1="266" x2="1532" y1="0" y2="0"><stop offset="0.0004" stop-color="#4025b3"/><stop offset="0.0612" stop-color="#3e2bbf"/><stop offset="0.1244" stop-color="#343bcb"/><stop offset="0.1844" stop-color="#195fdc"/><stop offset="0.2382" stop-color="#0b71ea"/><stop offset="0.3448" stop-color="#0382ef"/><stop offset="0.6244" stop-color="#009ae4"/><stop offset="0.9996" stop-color="#0094e8"/></linearGradient>
<linearGradient id="g158" gradientUnits="userSpaceOnUse" x1="266" x2="1532" y1="0" y2="0"><stop offset="0.0004" stop-color="#4025b3"/><stop offset="0.0328" stop-color="#4027b7"/><stop offset="0.0778" stop-color="#3c2dc3"/><stop offset="0.1363" stop-color="#323ecd"/><stop offset="0.1923" stop-color="#1960dc"/><stop offset="0.2642" stop-color="#0a73eb"/><stop offset="0.3448" stop-color="#057dee"/><stop offset="0.4593" stop-color="#0088ef"/><stop offset="0.6244" stop-color="#0094e7"/><stop offset="0.9996" stop-color="#008feb"/></linearGradient>
<linearGradient id="g159" gradientUnits="userSpaceOnUse" x1="266" x2="1532" y1="0" y2="0"><stop offset="0.0004" stop-color="#4025b3"/><stop offset="0.0818" stop-color="#3c2dc3"/><stop offset="0.1402" stop-color="#323dcd"/><stop offset="0.1844" stop-color="#1e59d9"/><stop offset="0.2026" stop-color="#195fdc"/><stop offset="0.2800" stop-color="#0c71e9"/><stop offset="0.3448" stop-color="#0779ec"/><stop offset="0.5217" stop-color="#0087ef"/><stop offset="0.6244" stop-color="#008feb"/><stop offset="0.9996" stop-color="#008aee"/></linearGradient>
<linearGradient id="g160" gradientUnits="userSpaceOnUse" x1="266" x2="1532" y1="0" y2="0"><stop offset="0.0004" stop-color="#4025b3"/><stop offset="0.0825" stop-color="#3c2dc3"/><stop offset="0.1244" stop-color="#3736c8"/><stop offset="0.1481" stop-color="#323ecd"/><stop offset="0.1852" stop-color="#2155d7"/><stop offset="0.2642" stop-color="#1269e3"/><stop offset="0.3448" stop-color="#0975eb"/><stop offset="0.6244" stop-color="#0088ef"/><stop offset="0.9996" stop-color="#0186f0"/></linearGradient>
<linearGradient id="g161" gradientUnits="userSpaceOnUse" x1="266" x2="1532" y1="0" y2="0"><stop offset="0.0004" stop-color="#4025b3"/><stop offset="0.1244" stop-color="#3834c7"/><stop offset="0.1544" stop-color="#323ecd"/><stop offset="0.1844" stop-color="#254fd5"/><stop offset="0.2310" stop-color="#1b5ddb"/><stop offset="0.3867" stop-color="#0975eb"/><stop offset="0.6244" stop-color="#0282ef"/><stop offset="0.9996" stop-color="#0283ef"/></linearGradient>
<linearGradient id="g162" gradientUnits="userSpaceOnUse" x1="266" x2="1532" y1="0" y2="0"><stop offset="0.0004" stop-color="#4025b3"/><stop offset="0.0731" stop-color="#3d2cc1"/><stop offset="0.1244" stop-color="#3932c6"/><stop offset="0.2168" stop-color="#2055d8"/><stop offset="0.3906" stop-color="#0b72ea"/><stop offset="0.6244" stop-color="#047fee"/><stop offset="0.9996" stop-color="#0380ee"/></linearGradient>
<linearGradient id="g163" gradientUnits="userSpaceOnUse" x1="266" x2="1532" y1="0" y2="0"><stop offset="0.0004" stop-color="#4025b3"/><stop offset="0.0802" stop-color="#4028b9"/><stop offset="0.1102" stop-color="#3c2dc3"/><stop offset="0.2326" stop-color="#1860dd"/><stop offset="0.3329" stop-color="#0878ec"/><stop offset="0.6244" stop-color="#0380ee"/><stop offset="0.9996" stop-color="#0381ef"/></linearGradient>
<linearGradient id="g164" gradientUnits="userSpaceOnUse" x1="266" x2="1532" y1="0" y2="0"><stop offset="0.0004" stop-color="#4025b3"/><stop offset="0.0802" stop-color="#4028b9"/><stop offset="0.1133" stop-color="#3c2dc3"/><stop offset="0.2405" stop-color="#1a5edb"/><stop offset="0.3329" stop-color="#0974eb"/><stop offset="0.6244" stop-color="#057dee"/><stop offset="0.9996" stop-color="#047fee"/></linearGradient>
<linearGradient id="g165" gradientUnits="userSpaceOnUse" x1="266" x2="1532" y1="0" y2="0"><stop offset="0.0004" stop-color="#4025b3"/><stop offset="0.0802" stop-color="#4028b8"/><stop offset="0.1157" stop-color="#3c2dc3"/><stop offset="0.2571" stop-color="#1a5edb"/><stop offset="0.3329" stop-color="#0c70e9"/><stop offset="0.6244" stop-color="#077aed"/><stop offset="0.9996" stop-color="#057dee"/></linearGradient>
<linearGradient id="g166" gradientUnits="userSpaceOnUse" x1="266" x2="1532" y1="0" y2="0"><stop offset="0.0004" stop-color="#4025b3"/><stop offset="0.0802" stop-color="#4028b8"/><stop offset="0.1189" stop-color="#3c2dc3"/><stop offset="0.1860" stop-color="#313fce"/><stop offset="0.2753" stop-color="#1a5ddb"/><stop offset="0.3329" stop-color="#116ae4"/><stop offset="0.6244" stop-color="#0876ec"/><stop offset="0.9996" stop-color="#067bed"/></linearGradient>
<linearGradient id="g167" gradientUnits="userSpaceOnUse" x1="266" x2="1532" y1="0" y2="0"><stop offset="0.0004" stop-color="#4025b3"/><stop offset="0.0802" stop-color="#4028b8"/><stop offset="0.1228" stop-color="#3c2dc3"/><stop offset="0.2010" stop-color="#313fce"/><stop offset="0.3329" stop-color="#1565e0"/><stop offset="0.6244" stop-color="#0a73eb"/><stop offset="0.9996" stop-color="#0779ed"/></linearGradient>
<linearGradient id="g168" gradientUnits="userSpaceOnUse" x1="266" x2="1532" y1="0" y2="0"><stop offset="0.0004" stop-color="#4025b3"/><stop offset="0.0802" stop-color="#4027b8"/><stop offset="0.1268" stop-color="#3c2dc3"/><stop offset="0.2192" stop-color="#313fce"/><stop offset="0.3329" stop-color="#195fdc"/><stop offset="0.7255" stop-color="#0b72ea"/><stop offset="0.9996" stop-color="#0877ec"/></linearGradient>
<linearGradient id="g169" gradientUnits="userSpaceOnUse" x1="266" x2="1532" y1="0" y2="0"><stop offset="0.0004" stop-color="#4025b3"/><stop offset="0.0802" stop-color="#4027b8"/><stop offset="0.1331" stop-color="#3c2dc3"/><stop offset="0.2358" stop-color="#313fcd"/><stop offset="0.3329" stop-color="#1e59d9"/><stop offset="0.6244" stop-color="#116ae4"/><stop offset="0.9996" stop-color="#0976ec"/></linearGradient>
<linearGradient id="g170" gradientUnits="userSpaceOnUse" x1="266" x2="1532" y1="0" y2="0"><stop offset="0.0004" stop-color="#4025b3"/><stop offset="0.0810" stop-color="#4027b7"/><stop offset="0.1370" stop-color="#3c2dc3"/><stop offset="0.2468" stop-color="#323ecd"/><stop offset="0.3329" stop-color="#2253d7"/><stop offset="0.4530" stop-color="#1b5ddb"/><stop offset="0.8819" stop-color="#0a73eb"/><stop offset="0.9996" stop-color="#0975eb"/></linearGradient>
<linearGradient id="g171" gradientUnits="userSpaceOnUse" x1="266" x2="1532" y1="0" y2="0"><stop offset="0.0004" stop-color="#4025b3"/><stop offset="0.0810" stop-color="#4027b7"/><stop offset="0.1418" stop-color="#3c2dc3"/><stop offset="0.2626" stop-color="#323ecd"/><stop offset="0.3321" stop-color="#264ed4"/><stop offset="0.5194" stop-color="#1b5ddb"/><stop offset="0.9996" stop-color="#0a74eb"/></linearGradient>
<linearGradient id="g172" gradientUnits="userSpaceOnUse" x1="266" x2="1532" y1="0" y2="0"><stop offset="0.0004" stop-color="#4025b2"/><stop offset="0.0810" stop-color="#4027b6"/><stop offset="0.1465" stop-color="#3c2dc3"/><stop offset="0.2816" stop-color="#323ecd"/><stop offset="0.3329" stop-color="#2a48d2"/><stop offset="0.6291" stop-color="#1860dd"/><stop offset="0.9996" stop-color="#0b72ea"/></linearGradient>
<linearGradient id="g173" gradientUnits="userSpaceOnUse" x1="266" x2="1532" y1="0" y2="0"><stop offset="0.0004" stop-color="#4025b2"/><stop offset="0.0810" stop-color="#4027b6"/><stop offset="0.1631" stop-color="#3c2dc3"/><stop offset="0.3329" stop-color="#2e43cf"/><stop offset="0.6410" stop-color="#195fdc"/><stop offset="0.9996" stop-color="#0c70e9"/></linearGradient>
<linearGradient id="g174" gradientUnits="userSpaceOnUse" x1="266" x2="1532" y1="0" y2="0"><stop offset="0.0004" stop-color="#4025b2"/><stop offset="0.0810" stop-color="#4027b6"/><stop offset="0.1765" stop-color="#3c2dc3"/><stop offset="0.6513" stop-color="#195fdc"/><stop offset="0.9996" stop-color="#0e6ee7"/></linearGradient>
<linearGradient id="g175" gradientUnits="userSpaceOnUse" x1="266" x2="1532" y1="0" y2="0"><stop offset="0.0004" stop-color="#4025b2"/><stop offset="0.0810" stop-color="#4027b6"/><stop offset="0.1797" stop-color="#3c2dc3"/><stop offset="0.3827" stop-color="#323ecd"/><stop offset="0.6750" stop-color="#1a5ddb"/><stop offset="0.9996" stop-color="#106be5"/></linearGradient>
<linearGradient id="g176" gradientUnits="userSpaceOnUse" x1="266" x2="1532" y1="0" y2="0"><stop offset="0.0004" stop-color="#4025b2"/><stop offset="0.0810" stop-color="#4027b6"/><stop offset="0.1908" stop-color="#3c2dc3"/><stop offset="0.3321" stop-color="#343acb"/><stop offset="0.7611" stop-color="#1a5edc"/><stop offset="0.9996" stop-color="#1367e2"/></linearGradient>
<linearGradient id="g177" gradientUnits="userSpaceOnUse" x1="266" x2="1532" y1="0" y2="0"><stop offset="0.0004" stop-color="#4025b2"/><stop offset="0.0810" stop-color="#4026b6"/><stop offset="0.1979" stop-color="#3c2dc3"/><stop offset="0.3321" stop-color="#3539ca"/><stop offset="0.8353" stop-color="#195fdc"/><stop offset="0.9996" stop-color="#1564e0"/></linearGradient>
<linearGradient id="g178" gradientUnits="userSpaceOnUse" x1="266" x2="1532" y1="0" y2="0"><stop offset="0.0004" stop-color="#4025b2"/><stop offset="0.0810" stop-color="#4026b5"/><stop offset="0.2042" stop-color="#3c2dc3"/><stop offset="0.3321" stop-color="#3538ca"/><stop offset="0.9009" stop-color="#1a5edc"/><stop offset="0.9996" stop-color="#1860dd"/></linearGradient>
<linearGradient id="g179" gradientUnits="userSpaceOnUse" x1="266" x2="1532" y1="0" y2="0"><stop offset="0.0004" stop-color="#4025b2"/><stop offset="0.2113" stop-color="#3c2dc3"/><stop offset="0.3321" stop-color="#3638c9"/><stop offset="0.9396" stop-color="#1c5bda"/><stop offset="0.9996" stop-color="#1c5bda"/></linearGradient>
<linearGradient id="g180" gradientUnits="userSpaceOnUse" x1="266" x2="1532" y1="0" y2="0"><stop offset="0.0004" stop-color="#4025b2"/><stop offset="0.2184" stop-color="#3c2dc3"/><stop offset="0.3321" stop-color="#3637c9"/><stop offset="0.9996" stop-color="#2055d8"/></linearGradient>
<linearGradient id="g181" gradientUnits="userSpaceOnUse" x1="266" x2="1532" y1="0" y2="0"><stop offset="0.0004" stop-color="#4024b1"/><stop offset="0.2255" stop-color="#3c2dc3"/><stop offset="0.3321" stop-color="#3736c8"/><stop offset="0.6244" stop-color="#323dcd"/><stop offset="0.9996" stop-color="#2450d5"/></linearGradient>
<linearGradient id="g182" gradientUnits="userSpaceOnUse" x1="266" x2="1532" y1="0" y2="0"><stop offset="0.0004" stop-color="#4024b1"/><stop offset="0.3321" stop-color="#3834c7"/><stop offset="0.6244" stop-color="#343acb"/><stop offset="0.9996" stop-color="#274cd3"/></linearGradient>
<linearGradient id="g183" gradientUnits="userSpaceOnUse" x1="266" x2="1532" y1="0" y2="0"><stop offset="0.0004" stop-color="#4024b1"/><stop offset="0.3329" stop-color="#3b2ec3"/><stop offset="0.9996" stop-color="#2d45d0"/></linearGradient>
<linearGradient id="g184" gradientUnits="userSpaceOnUse" x1="266" x2="1532" y1="0" y2="0"><stop offset="0.0004" stop-color="#4024b1"/><stop offset="0.3756" stop-color="#3c2dc2"/><stop offset="0.9996" stop-color="#3040ce"/></linearGradient>
<linearGradient id="g185" gradientUnits="userSpaceOnUse" x1="266" x2="1532" y1="0" y2="0"><stop offset="0.0004" stop-color="#4024b1"/><stop offset="0.3329" stop-color="#3d2bc0"/><stop offset="0.9996" stop-color="#343bcb"/></linearGradient>
<linearGradient id="g186" gradientUnits="userSpaceOnUse" x1="266" x2="1532" y1="0" y2="0"><stop offset="0.0004" stop-color="#4024b1"/><stop offset="0.3329" stop-color="#3e2bbe"/><stop offset="0.9996" stop-color="#3735c8"/></linearGradient>
<linearGradient id="g187" gradientUnits="userSpaceOnUse" x1="266" x2="1532" y1="0" y2="0"><stop offset="0.0004" stop-color="#4024b0"/><stop offset="0.3329" stop-color="#3f2abc"/><stop offset="0.9996" stop-color="#3a30c5"/></linearGradient>
<linearGradient id="g188" gradientUnits="userSpaceOnUse" x1="266" x2="1532" y1="0" y2="0"><stop offset="0.0004" stop-color="#4024b0"/><stop offset="0.3329" stop-color="#4028ba"/><stop offset="0.9996" stop-color="#3d2cc1"/></linearGradient>
<linearGradient id="g189" gradientUnits="userSpaceOnUse" x1="266" x2="1532" y1="0" y2="0"><stop offset="0.0004" stop-color="#4024b0"/><stop offset="0.3329" stop-color="#4027b8"/><stop offset="0.9996" stop-color="#3e2abe"/></linearGradient>
<linearGradient id="g190" gradientUnits="userSpaceOnUse" x1="266" x2="1532" y1="0" y2="0"><stop offset="0.0004" stop-color="#4024b0"/><stop offset="0.9996" stop-color="#4028b9"/></linearGradient>
<linearGradient id="g191" gradientUnits="userSpaceOnUse" x1="266" x2="1532" y1="0" y2="0"><stop offset="0.0004" stop-color="#4024af"/><stop offset="0.9996" stop-color="#4027b7"/></linearGradient>
<linearGradient id="g192" gradientUnits="userSpaceOnUse" x1="266" x2="1532" y1="0" y2="0"><stop offset="0.0004" stop-color="#4024af"/><stop offset="0.9996" stop-color="#4026b4"/></linearGradient>
<linearGradient id="g193" gradientUnits="userSpaceOnUse" x1="266" x2="1532" y1="0" y2="0"><stop offset="0.0004" stop-color="#4024af"/><stop offset="0.9996" stop-color="#4025b4"/></linearGradient>
<linearGradient id="g194" gradientUnits="userSpaceOnUse" x1="266" x2="1532" y1="0" y2="0"><stop offset="0.0004" stop-color="#4024af"/><stop offset="0.9996" stop-color="#4025b3"/></linearGradient>
<linearGradient id="g195" gradientUnits="userSpaceOnUse" x1="266" x2="1532" y1="0" y2="0"><stop offset="0.0004" stop-color="#4024af"/><stop offset="0.9996" stop-color="#4025b3"/></linearGradient>
<linearGradient id="g196" gradientUnits="userSpaceOnUse" x1="266" x2="1532" y1="0" y2="0"><stop offset="0.0004" stop-color="#4024af"/><stop offset="0.9996" stop-color="#4025b2"/></linearGradient><linearGradient id="cbar" gradientUnits="userSpaceOnUse" x1="0" y1="1278" x2="0" y2="161"><stop offset="0.0000" stop-color="#4022ac"/><stop offset="0.0405" stop-color="#4028b9"/><stop offset="0.0730" stop-color="#3c2dc3"/><stop offset="0.1162" stop-color="#323ecd"/><stop offset="0.1622" stop-color="#195fdc"/><stop offset="0.2054" stop-color="#0a73eb"/><stop offset="0.2703" stop-color="#0087f0"/><stop offset="0.3351" stop-color="#0096e6"/><stop offset="0.3811" stop-color="#00a0e1"/><stop offset="0.4243" stop-color="#00aad7"/><stop offset="0.4703" stop-color="#00b4c3"/><stop offset="0.5135" stop-color="#00b9a5"/><stop offset="0.5811" stop-color="#00b982"/><stop offset="0.6162" stop-color="#00be69"/><stop offset="0.6432" stop-color="#5fbe55"/><stop offset="0.6649" stop-color="#6ebe50"/><stop offset="0.6865" stop-color="#82be46"/><stop offset="0.7297" stop-color="#b4be1e"/><stop offset="0.7757" stop-color="#d7be0a"/><stop offset="0.8189" stop-color="#fab428"/><stop offset="0.8649" stop-color="#ffc314"/><stop offset="0.9081" stop-color="#ffd200"/><stop offset="0.9541" stop-color="#fae600"/><stop offset="1.0000" stop-color="#f5f80a"/></linearGradient></defs>
<rect width="1994" height="1509" fill="#fff"/>
<rect x="10" y="11" width="1971" height="1485" rx="4.5" ry="4.5" fill="#000"/>
<rect x="23" y="24" width="1945" height="1458.5" fill="#fff"/>
<g transform="translate(0 117.3) scale(1 1.05) translate(0 -117.3)" font-weight="bold" fill="#000"><text x="331.35" y="117.3" font-size="77">E</text><text x="384.9" y="150.9" font-size="57">p</text><text x="423.6" y="117.3" font-size="77">=0.2 J/cm</text><text x="771" y="80" font-size="57">2</text><text x="1465.8" y="117.3" font-size="77" text-anchor="end">, thickness=22 nm</text></g>
<g shape-rendering="crispEdges"><rect x="266" y="161" width="1266" height="2" fill="url(#g0)"/>
<rect x="266" y="163" width="1266" height="2" fill="url(#g1)"/>
<rect x="266" y="165" width="1266" height="1" fill="url(#g2)"/>
<rect x="266" y="166" width="1266" height="2" fill="url(#g3)"/>
<rect x="266" y="168" width="1266" height="3" fill="url(#g4)"/>
<rect x="266" y="171" width="1266" height="3" fill="url(#g5)"/>
<rect x="266" y="174" width="1266" height="1" fill="url(#g6)"/>
<rect x="266" y="175" width="1266" height="1" fill="url(#g7)"/>
<rect x="266" y="176" width="1266" height="1" fill="url(#g8)"/>
<rect x="266" y="177" width="1266" height="1" fill="url(#g9)"/>
<rect x="266" y="178" width="1266" height="1" fill="url(#g10)"/>
<rect x="266" y="179" width="1266" height="1" fill="url(#g11)"/>
<rect x="266" y="180" width="1266" height="1" fill="url(#g12)"/>
<rect x="266" y="181" width="1266" height="1" fill="url(#g13)"/>
<rect x="266" y="182" width="1266" height="1" fill="url(#g14)"/>
<rect x="266" y="183" width="1266" height="1" fill="url(#g15)"/>
<rect x="266" y="184" width="1266" height="1" fill="url(#g16)"/>
<rect x="266" y="185" width="1266" height="1" fill="url(#g17)"/>
<rect x="266" y="186" width="1266" height="1" fill="url(#g18)"/>
<rect x="266" y="187" width="1266" height="1" fill="url(#g19)"/>
<rect x="266" y="188" width="1266" height="1" fill="url(#g20)"/>
<rect x="266" y="189" width="1266" height="1" fill="url(#g21)"/>
<rect x="266" y="190" width="1266" height="1" fill="url(#g22)"/>
<rect x="266" y="191" width="1266" height="1" fill="url(#g23)"/>
<rect x="266" y="192" width="1266" height="1" fill="url(#g24)"/>
<rect x="266" y="193" width="1266" height="1" fill="url(#g25)"/>
<rect x="266" y="194" width="1266" height="1" fill="url(#g26)"/>
<rect x="266" y="195" width="1266" height="1" fill="url(#g27)"/>
<rect x="266" y="196" width="1266" height="1" fill="url(#g28)"/>
<rect x="266" y="197" width="1266" height="1" fill="url(#g29)"/>
<rect x="266" y="198" width="1266" height="1" fill="url(#g30)"/>
<rect x="266" y="199" width="1266" height="1" fill="url(#g31)"/>
<rect x="266" y="200" width="1266" height="1" fill="url(#g32)"/>
<rect x="266" y="201" width="1266" height="1" fill="url(#g33)"/>
<rect x="266" y="202" width="1266" height="1" fill="url(#g34)"/>
<rect x="266" y="203" width="1266" height="1" fill="url(#g35)"/>
<rect x="266" y="204" width="1266" height="1" fill="url(#g36)"/>
<rect x="266" y="205" width="1266" height="1" fill="url(#g37)"/>
<rect x="266" y="206" width="1266" height="1" fill="url(#g38)"/>
<rect x="266" y="207" width="1266" height="1" fill="url(#g39)"/>
<rect x="266" y="208" width="1266" height="1" fill="url(#g40)"/>
<rect x="266" y="209" width="1266" height="1" fill="url(#g41)"/>
<rect x="266" y="210" width="1266" height="1" fill="url(#g42)"/>
<rect x="266" y="211" width="1266" height="1" fill="url(#g43)"/>
<rect x="266" y="212" width="1266" height="1" fill="url(#g44)"/>
<rect x="266" y="213" width="1266" height="1" fill="url(#g45)"/>
<rect x="266" y="214" width="1266" height="1" fill="url(#g46)"/>
<rect x="266" y="215" width="1266" height="1" fill="url(#g47)"/>
<rect x="266" y="216" width="1266" height="1" fill="url(#g48)"/>
<rect x="266" y="217" width="1266" height="1" fill="url(#g49)"/>
<rect x="266" y="218" width="1266" height="1" fill="url(#g50)"/>
<rect x="266" y="219" width="1266" height="1" fill="url(#g51)"/>
<rect x="266" y="220" width="1266" height="1" fill="url(#g52)"/>
<rect x="266" y="221" width="1266" height="1" fill="url(#g53)"/>
<rect x="266" y="222" width="1266" height="1" fill="url(#g54)"/>
<rect x="266" y="223" width="1266" height="1" fill="url(#g55)"/>
<rect x="266" y="224" width="1266" height="1" fill="url(#g56)"/>
<rect x="266" y="225" width="1266" height="1" fill="url(#g57)"/>
<rect x="266" y="226" width="1266" height="1" fill="url(#g58)"/>
<rect x="266" y="227" width="1266" height="1" fill="url(#g59)"/>
<rect x="266" y="228" width="1266" height="1" fill="url(#g60)"/>
<rect x="266" y="229" width="1266" height="1" fill="url(#g61)"/>
<rect x="266" y="230" width="1266" height="1" fill="url(#g62)"/>
<rect x="266" y="231" width="1266" height="1" fill="url(#g63)"/>
<rect x="266" y="232" width="1266" height="1" fill="url(#g64)"/>
<rect x="266" y="233" width="1266" height="1" fill="url(#g65)"/>
<rect x="266" y="234" width="1266" height="1" fill="url(#g66)"/>
<rect x="266" y="235" width="1266" height="1" fill="url(#g67)"/>
<rect x="266" y="236" width="1266" height="1" fill="url(#g68)"/>
<rect x="266" y="237" width="1266" height="1" fill="url(#g69)"/>
<rect x="266" y="238" width="1266" height="1" fill="url(#g70)"/>
<rect x="266" y="239" width="1266" height="1" fill="url(#g71)"/>
<rect x="266" y="240" width="1266" height="1" fill="url(#g72)"/>
<rect x="266" y="241" width="1266" height="1" fill="url(#g73)"/>
<rect x="266" y="242" width="1266" height="2" fill="url(#g74)"/>
<rect x="266" y="244" width="1266" height="2" fill="url(#g75)"/>
<rect x="266" y="246" width="1266" height="1" fill="url(#g76)"/>
<rect x="266" y="247" width="1266" height="1" fill="url(#g77)"/>
<rect x="266" y="248" width="1266" height="1" fill="url(#g78)"/>
<rect x="266" y="249" width="1266" height="1" fill="url(#g79)"/>
<rect x="266" y="250" width="1266" height="1" fill="url(#g80)"/>
<rect x="266" y="251" width="1266" height="1" fill="url(#g81)"/>
<rect x="266" y="252" width="1266" height="1" fill="url(#g82)"/>
<rect x="266" y="253" width="1266" height="1" fill="url(#g83)"/>
<rect x="266" y="254" width="1266" height="1" fill="url(#g84)"/>
<rect x="266" y="255" width="1266" height="1" fill="url(#g85)"/>
<rect x="266" y="256" width="1266" height="1" fill="url(#g86)"/>
<rect x="266" y="257" width="1266" height="1" fill="url(#g87)"/>
<rect x="266" y="258" width="1266" height="1" fill="url(#g88)"/>
<rect x="266" y="259" width="1266" height="1" fill="url(#g89)"/>
<rect x="266" y="260" width="1266" height="1" fill="url(#g90)"/>
<rect x="266" y="261" width="1266" height="1" fill="url(#g91)"/>
<rect x="266" y="262" width="1266" height="3" fill="url(#g92)"/>
<rect x="266" y="265" width="1266" height="2" fill="url(#g93)"/>
<rect x="266" y="267" width="1266" height="1" fill="url(#g94)"/>
<rect x="266" y="268" width="1266" height="1" fill="url(#g95)"/>
<rect x="266" y="269" width="1266" height="1" fill="url(#g96)"/>
<rect x="266" y="270" width="1266" height="1" fill="url(#g97)"/>
<rect x="266" y="271" width="1266" height="1" fill="url(#g98)"/>
<rect x="266" y="272" width="1266" height="1" fill="url(#g99)"/>
<rect x="266" y="273" width="1266" height="1" fill="url(#g100)"/>
<rect x="266" y="274" width="1266" height="1" fill="url(#g101)"/>
<rect x="266" y="275" width="1266" height="1" fill="url(#g102)"/>
<rect x="266" y="276" width="1266" height="1" fill="url(#g103)"/>
<rect x="266" y="277" width="1266" height="1" fill="url(#g104)"/>
<rect x="266" y="278" width="1266" height="1" fill="url(#g105)"/>
<rect x="266" y="279" width="1266" height="1" fill="url(#g106)"/>
<rect x="266" y="280" width="1266" height="1" fill="url(#g107)"/>
<rect x="266" y="281" width="1266" height="1" fill="url(#g108)"/>
<rect x="266" y="282" width="1266" height="1" fill="url(#g109)"/>
<rect x="266" y="283" width="1266" height="1" fill="url(#g110)"/>
<rect x="266" y="284" width="1266" height="1" fill="url(#g111)"/>
<rect x="266" y="285" width="1266" height="1" fill="url(#g112)"/>
<rect x="266" y="286" width="1266" height="1" fill="url(#g113)"/>
<rect x="266" y="287" width="1266" height="1" fill="url(#g114)"/>
<rect x="266" y="288" width="1266" height="1" fill="url(#g115)"/>
<rect x="266" y="289" width="1266" height="1" fill="url(#g116)"/>
<rect x="266" y="290" width="1266" height="1" fill="url(#g117)"/>
<rect x="266" y="291" width="1266" height="1" fill="url(#g118)"/>
<rect x="266" y="292" width="1266" height="1" fill="url(#g119)"/>
<rect x="266" y="293" width="1266" height="1" fill="url(#g120)"/>
<rect x="266" y="294" width="1266" height="1" fill="url(#g121)"/>
<rect x="266" y="295" width="1266" height="1" fill="url(#g122)"/>
<rect x="266" y="296" width="1266" height="1" fill="url(#g123)"/>
<rect x="266" y="297" width="1266" height="1" fill="url(#g124)"/>
<rect x="266" y="298" width="1266" height="1" fill="url(#g125)"/>
<rect x="266" y="299" width="1266" height="1" fill="url(#g126)"/>
<rect x="266" y="300" width="1266" height="1" fill="url(#g127)"/>
<rect x="266" y="301" width="1266" height="1" fill="url(#g128)"/>
<rect x="266" y="302" width="1266" height="1" fill="url(#g129)"/>
<rect x="266" y="303" width="1266" height="1" fill="url(#g130)"/>
<rect x="266" y="304" width="1266" height="1" fill="url(#g131)"/>
<rect x="266" y="305" width="1266" height="1" fill="url(#g132)"/>
<rect x="266" y="306" width="1266" height="1" fill="url(#g133)"/>
<rect x="266" y="307" width="1266" height="2" fill="url(#g134)"/>
<rect x="266" y="309" width="1266" height="2" fill="url(#g135)"/>
<rect x="266" y="311" width="1266" height="2" fill="url(#g136)"/>
<rect x="266" y="313" width="1266" height="2" fill="url(#g137)"/>
<rect x="266" y="315" width="1266" height="2" fill="url(#g138)"/>
<rect x="266" y="317" width="1266" height="2" fill="url(#g139)"/>
<rect x="266" y="319" width="1266" height="2" fill="url(#g140)"/>
<rect x="266" y="321" width="1266" height="1" fill="url(#g141)"/>
<rect x="266" y="322" width="1266" height="1" fill="url(#g142)"/>
<rect x="266" y="323" width="1266" height="1" fill="url(#g143)"/>
<rect x="266" y="324" width="1266" height="1" fill="url(#g144)"/>
<rect x="266" y="325" width="1266" height="1" fill="url(#g145)"/>
<rect x="266" y="326" width="1266" height="1" fill="url(#g146)"/>
<rect x="266" y="327" width="1266" height="1" fill="url(#g147)"/>
<rect x="266" y="328" width="1266" height="1" fill="url(#g148)"/>
<rect x="266" y="329" width="1266" height="1" fill="url(#g149)"/>
<rect x="266" y="330" width="1266" height="1" fill="url(#g150)"/>
<rect x="266" y="331" width="1266" height="1" fill="url(#g151)"/>
<rect x="266" y="332" width="1266" height="1" fill="url(#g152)"/>
<rect x="266" y="333" width="1266" height="2" fill="url(#g153)"/>
<rect x="266" y="335" width="1266" height="2" fill="url(#g154)"/>
<rect x="266" y="337" width="1266" height="3" fill="url(#g155)"/>
<rect x="266" y="340" width="1266" height="2" fill="url(#g156)"/>
<rect x="266" y="342" width="1266" height="3" fill="url(#g157)"/>
<rect x="266" y="345" width="1266" height="2" fill="url(#g158)"/>
<rect x="266" y="347" width="1266" height="3" fill="url(#g159)"/>
<rect x="266" y="350" width="1266" height="3" fill="url(#g160)"/>
<rect x="266" y="353" width="1266" height="4" fill="url(#g161)"/>
<rect x="266" y="357" width="1266" height="1" fill="url(#g162)"/>
<rect x="266" y="358" width="1266" height="2" fill="url(#g163)"/>
<rect x="266" y="360" width="1266" height="2" fill="url(#g164)"/>
<rect x="266" y="362" width="1266" height="2" fill="url(#g165)"/>
<rect x="266" y="364" width="1266" height="2" fill="url(#g166)"/>
<rect x="266" y="366" width="1266" height="2" fill="url(#g167)"/>
<rect x="266" y="368" width="1266" height="2" fill="url(#g168)"/>
<rect x="266" y="370" width="1266" height="4" fill="url(#g169)"/>
<rect x="266" y="374" width="1266" height="4" fill="url(#g170)"/>
<rect x="266" y="378" width="1266" height="4" fill="url(#g171)"/>
<rect x="266" y="382" width="1266" height="5" fill="url(#g172)"/>
<rect x="266" y="387" width="1266" height="5" fill="url(#g173)"/>
<rect x="266" y="392" width="1266" height="6" fill="url(#g174)"/>
<rect x="266" y="398" width="1266" height="8" fill="url(#g175)"/>
<rect x="266" y="406" width="1266" height="7" fill="url(#g176)"/>
<rect x="266" y="413" width="1266" height="7" fill="url(#g177)"/>
<rect x="266" y="420" width="1266" height="7" fill="url(#g178)"/>
<rect x="266" y="427" width="1266" height="7" fill="url(#g179)"/>
<rect x="266" y="434" width="1266" height="7" fill="url(#g180)"/>
<rect x="266" y="441" width="1266" height="7" fill="url(#g181)"/>
<rect x="266" y="448" width="1266" height="8" fill="url(#g182)"/>
<rect x="266" y="456" width="1266" height="13" fill="url(#g183)"/>
<rect x="266" y="469" width="1266" height="5" fill="url(#g184)"/>
<rect x="266" y="474" width="1266" height="8" fill="url(#g185)"/>
<rect x="266" y="482" width="1266" height="8" fill="url(#g186)"/>
<rect x="266" y="490" width="1266" height="14" fill="url(#g187)"/>
<rect x="266" y="504" width="1266" height="16" fill="url(#g188)"/>
<rect x="266" y="520" width="1266" height="16" fill="url(#g189)"/>
<rect x="266" y="536" width="1266" height="16" fill="url(#g190)"/>
<rect x="266" y="552" width="1266" height="16" fill="url(#g191)"/>
<rect x="266" y="568" width="1266" height="16" fill="url(#g192)"/>
<rect x="266" y="584" width="1266" height="16" fill="url(#g193)"/>
<rect x="266" y="600" width="1266" height="16" fill="url(#g194)"/>
<rect x="266" y="616" width="1266" height="16" fill="url(#g195)"/>
<rect x="266" y="632" width="1266" height="16" fill="url(#g196)"/>
<rect x="266" y="648" width="1266" height="16" fill="#4024b1"/>
<rect x="266" y="664" width="1266" height="16" fill="#4024b1"/>
<rect x="266" y="680" width="1266" height="16" fill="#4024b0"/>
<rect x="266" y="696" width="1266" height="16" fill="#4024b0"/>
<rect x="266" y="712" width="1266" height="16" fill="#4024b0"/>
<rect x="266" y="728" width="1266" height="16" fill="#4024b0"/>
<rect x="266" y="744" width="1266" height="16" fill="#4024b0"/>
<rect x="266" y="760" width="1266" height="16" fill="#4024b0"/>
<rect x="266" y="776" width="1266" height="16" fill="#4024b0"/>
<rect x="266" y="792" width="1266" height="16" fill="#4024b0"/>
<rect x="266" y="808" width="1266" height="16" fill="#4024b0"/>
<rect x="266" y="824" width="1266" height="16" fill="#4024b0"/>
<rect x="266" y="840" width="1266" height="16" fill="#4024b0"/>
<rect x="266" y="856" width="1266" height="16" fill="#4024b0"/>
<rect x="266" y="872" width="1266" height="16" fill="#4024b0"/>
<rect x="266" y="888" width="1266" height="16" fill="#4024b0"/>
<rect x="266" y="904" width="1266" height="16" fill="#4024b0"/>
<rect x="266" y="920" width="1266" height="16" fill="#4024b0"/>
<rect x="266" y="936" width="1266" height="16" fill="#4024b0"/>
<rect x="266" y="952" width="1266" height="16" fill="#4024b0"/>
<rect x="266" y="968" width="1266" height="16" fill="#4024af"/>
<rect x="266" y="984" width="1266" height="16" fill="#4024af"/>
<rect x="266" y="1000" width="1266" height="16" fill="#4024af"/>
<rect x="266" y="1016" width="1266" height="16" fill="#4024af"/>
<rect x="266" y="1032" width="1266" height="16" fill="#4024af"/>
<rect x="266" y="1048" width="1266" height="16" fill="#4023af"/>
<rect x="266" y="1064" width="1266" height="16" fill="#4023af"/>
<rect x="266" y="1080" width="1266" height="16" fill="#4023af"/>
<rect x="266" y="1096" width="1266" height="16" fill="#4023af"/>
<rect x="266" y="1112" width="1266" height="16" fill="#4023af"/>
<rect x="266" y="1128" width="1266" height="16" fill="#4023af"/>
<rect x="266" y="1144" width="1266" height="16" fill="#4023af"/>
<rect x="266" y="1160" width="1266" height="16" fill="#4023af"/>
<rect x="266" y="1176" width="1266" height="16" fill="#4023af"/>
<rect x="266" y="1192" width="1266" height="16" fill="#4023af"/>
<rect x="266" y="1208" width="1266" height="16" fill="#4023af"/>
<rect x="266" y="1224" width="1266" height="16" fill="#4023af"/>
<rect x="266" y="1240" width="1266" height="16" fill="#4023af"/>
<rect x="266" y="1256" width="1266" height="16" fill="#4023af"/>
<rect x="266" y="1272" width="1266" height="6" fill="#4023af"/></g>
<line x1="266.0" y1="260.1" x2="1532.0" y2="260.1" stroke="#ff0000" stroke-width="9" stroke-dasharray="36.8 37.43" stroke-dashoffset="1.73"/>
<line x1="266.0" y1="358.4" x2="1532.0" y2="358.4" stroke="#ff0000" stroke-width="9" stroke-dasharray="36.8 37.43" stroke-dashoffset="1.73"/>
<line x1="266.0" y1="456.7" x2="1532.0" y2="456.7" stroke="#ff0000" stroke-width="9" stroke-dasharray="36.8 37.43" stroke-dashoffset="1.73"/>
<line x1="266.0" y1="555.0" x2="1532.0" y2="555.0" stroke="#ff0000" stroke-width="9" stroke-dasharray="36.8 37.43" stroke-dashoffset="1.73"/>
<line x1="266.0" y1="653.3" x2="1532.0" y2="653.3" stroke="#ff0000" stroke-width="9" stroke-dasharray="36.8 37.43" stroke-dashoffset="1.73"/>
<line x1="266.0" y1="751.6" x2="1532.0" y2="751.6" stroke="#ff0000" stroke-width="9" stroke-dasharray="36.8 37.43" stroke-dashoffset="1.73"/>
<line x1="266.0" y1="849.9" x2="1532.0" y2="849.9" stroke="#ff0000" stroke-width="9" stroke-dasharray="36.8 37.43" stroke-dashoffset="1.73"/>
<line x1="266.0" y1="948.2" x2="1532.0" y2="948.2" stroke="#ff0000" stroke-width="9" stroke-dasharray="36.8 37.43" stroke-dashoffset="1.73"/>
<line x1="266.0" y1="1046.5" x2="1532.0" y2="1046.5" stroke="#ff0000" stroke-width="9" stroke-dasharray="36.8 37.43" stroke-dashoffset="1.73"/>
<line x1="266.0" y1="1144.8" x2="1532.0" y2="1144.8" stroke="#ff0000" stroke-width="9" stroke-dasharray="36.8 37.43" stroke-dashoffset="1.73"/>
<rect x="267.0" y="162.0" width="1264.0" height="1115.0" fill="none" stroke="#262626" stroke-width="2"/>
<path d="M317.5 1278.0v-6M317.5 161.0v6M368.1 1278.0v-6M368.1 161.0v6M418.7 1278.0v-6M418.7 161.0v6M469.3 1278.0v-6M469.3 161.0v6M520.0 1278.0v-12M520.0 161.0v12M570.6 1278.0v-6M570.6 161.0v6M621.2 1278.0v-6M621.2 161.0v6M671.8 1278.0v-6M671.8 161.0v6M722.4 1278.0v-6M722.4 161.0v6M773.0 1278.0v-12M773.0 161.0v12M823.6 1278.0v-6M823.6 161.0v6M874.2 1278.0v-6M874.2 161.0v6M924.8 1278.0v-6M924.8 161.0v6M975.4 1278.0v-6M975.4 161.0v6M1026.0 1278.0v-12M1026.0 161.0v12M1076.7 1278.0v-6M1076.7 161.0v6M1127.3 1278.0v-6M1127.3 161.0v6M1177.9 1278.0v-6M1177.9 161.0v6M1228.5 1278.0v-6M1228.5 161.0v6M1279.1 1278.0v-12M1279.1 161.0v12M1329.7 1278.0v-6M1329.7 161.0v6M1380.3 1278.0v-6M1380.3 161.0v6M1430.9 1278.0v-6M1430.9 161.0v6M1481.5 1278.0v-6M1481.5 161.0v6M266.0 205.7h6M1532.0 205.7h-6M266.0 250.4h6M1532.0 250.4h-6M266.0 295.0h6M1532.0 295.0h-6M266.0 339.7h6M1532.0 339.7h-6M266.0 384.4h12M1532.0 384.4h-12M266.0 429.1h6M1532.0 429.1h-6M266.0 473.8h6M1532.0 473.8h-6M266.0 518.4h6M1532.0 518.4h-6M266.0 563.1h6M1532.0 563.1h-6M266.0 607.8h12M1532.0 607.8h-12M266.0 652.5h6M1532.0 652.5h-6M266.0 697.2h6M1532.0 697.2h-6M266.0 741.8h6M1532.0 741.8h-6M266.0 786.5h6M1532.0 786.5h-6M266.0 831.2h12M1532.0 831.2h-12M266.0 875.9h6M1532.0 875.9h-6M266.0 920.6h6M1532.0 920.6h-6M266.0 965.2h6M1532.0 965.2h-6M266.0 1009.9h6M1532.0 1009.9h-6M266.0 1054.6h12M1532.0 1054.6h-12M266.0 1099.3h6M1532.0 1099.3h-6M266.0 1144.0h6M1532.0 1144.0h-6M266.0 1188.6h6M1532.0 1188.6h-6M266.0 1233.3h6M1532.0 1233.3h-6" stroke="#262626" stroke-width="2" fill="none"/>
<text x="266.9" y="1374" font-size="71" fill="#262626" text-anchor="middle">0</text>
<text x="520.0" y="1374" font-size="71" fill="#262626" text-anchor="middle">5</text>
<text x="773.0" y="1374" font-size="71" fill="#262626" text-anchor="middle">10</text>
<text x="1026.0" y="1374" font-size="71" fill="#262626" text-anchor="middle">15</text>
<text x="1279.1" y="1374" font-size="71" fill="#262626" text-anchor="middle">20</text>
<text x="241.9" y="190.4" font-size="71" fill="#262626" text-anchor="end">0</text>
<text x="241.9" y="413.8" font-size="71" fill="#262626" text-anchor="end">50</text>
<text x="239.2" y="637.2" font-size="71" fill="#262626" text-anchor="end">100</text>
<text x="239.2" y="860.6" font-size="71" fill="#262626" text-anchor="end">150</text>
<text x="239.2" y="1084.0" font-size="71" fill="#262626" text-anchor="end">200</text>
<text x="239.2" y="1307.4" font-size="71" fill="#262626" text-anchor="end">250</text>
<text x="899.2" y="1466.4" font-size="77.6" fill="#262626" text-anchor="middle">Time [ps]</text>
<text transform="translate(94.6 718.5) rotate(-90)" font-size="76.3" fill="#262626" text-anchor="middle">Depth [nm]</text>
<text x="336.5" y="224.9" font-size="72" fill="#fff">Ni</text>
<text x="344.8" y="313.6" font-size="72" fill="#fff">Ti</text>
<text x="329.9" y="428.9" font-size="72" fill="#fff">Ni</text>
<text x="338.1" y="523.5" font-size="72" fill="#fff">Ti</text>
<text x="332.3" y="625.5" font-size="72" fill="#fff">Ni</text>
<text x="330.2" y="727.8" font-size="72" fill="#fff">Ti</text>
<text x="317.7" y="826.8" font-size="72" fill="#fff">Ni</text>
<text x="324.0" y="930.6" font-size="72" fill="#fff">Ti</text>
<text x="318.0" y="1035.5" font-size="72" fill="#fff">Ni</text>
<text x="324.0" y="1134.3" font-size="72" fill="#fff">Ti</text>
<text x="324.2" y="1235.0" font-size="72" fill="#fff">Si</text>
<rect x="1570" y="161" width="73" height="1117" fill="url(#cbar)"/>
<rect x="1571" y="162" width="71" height="1115" fill="none" stroke="#262626" stroke-width="2"/>
<text x="1667" y="1243.1" font-size="71" fill="#262626">0.5</text>
<text x="1667" y="1092.2" font-size="71" fill="#262626">1</text>
<text x="1667" y="941.2" font-size="71" fill="#262626">1.5</text>
<text x="1667" y="790.3" font-size="71" fill="#262626">2</text>
<text x="1667" y="639.3" font-size="71" fill="#262626">2.5</text>
<text x="1667" y="488.4" font-size="71" fill="#262626">3</text>
<text x="1667" y="337.4" font-size="71" fill="#262626">3.5</text>
<text x="1665.5" y="184.3" font-size="71" fill="#262626">4</text>
<path d="M1643 1217.6h-9M1643 1066.7h-9M1643 915.7h-9M1643 764.8h-9M1643 613.8h-9M1643 462.9h-9M1643 311.9h-9" stroke="#262626" stroke-width="2"/>
<text transform="translate(1866 720.1) rotate(-90)" font-size="70.7" fill="#262626" text-anchor="middle">Lattice Temperature [10<tspan font-size="51.5" dy="-37">3</tspan><tspan dy="37">K]</tspan></text>
</svg></body></html>
